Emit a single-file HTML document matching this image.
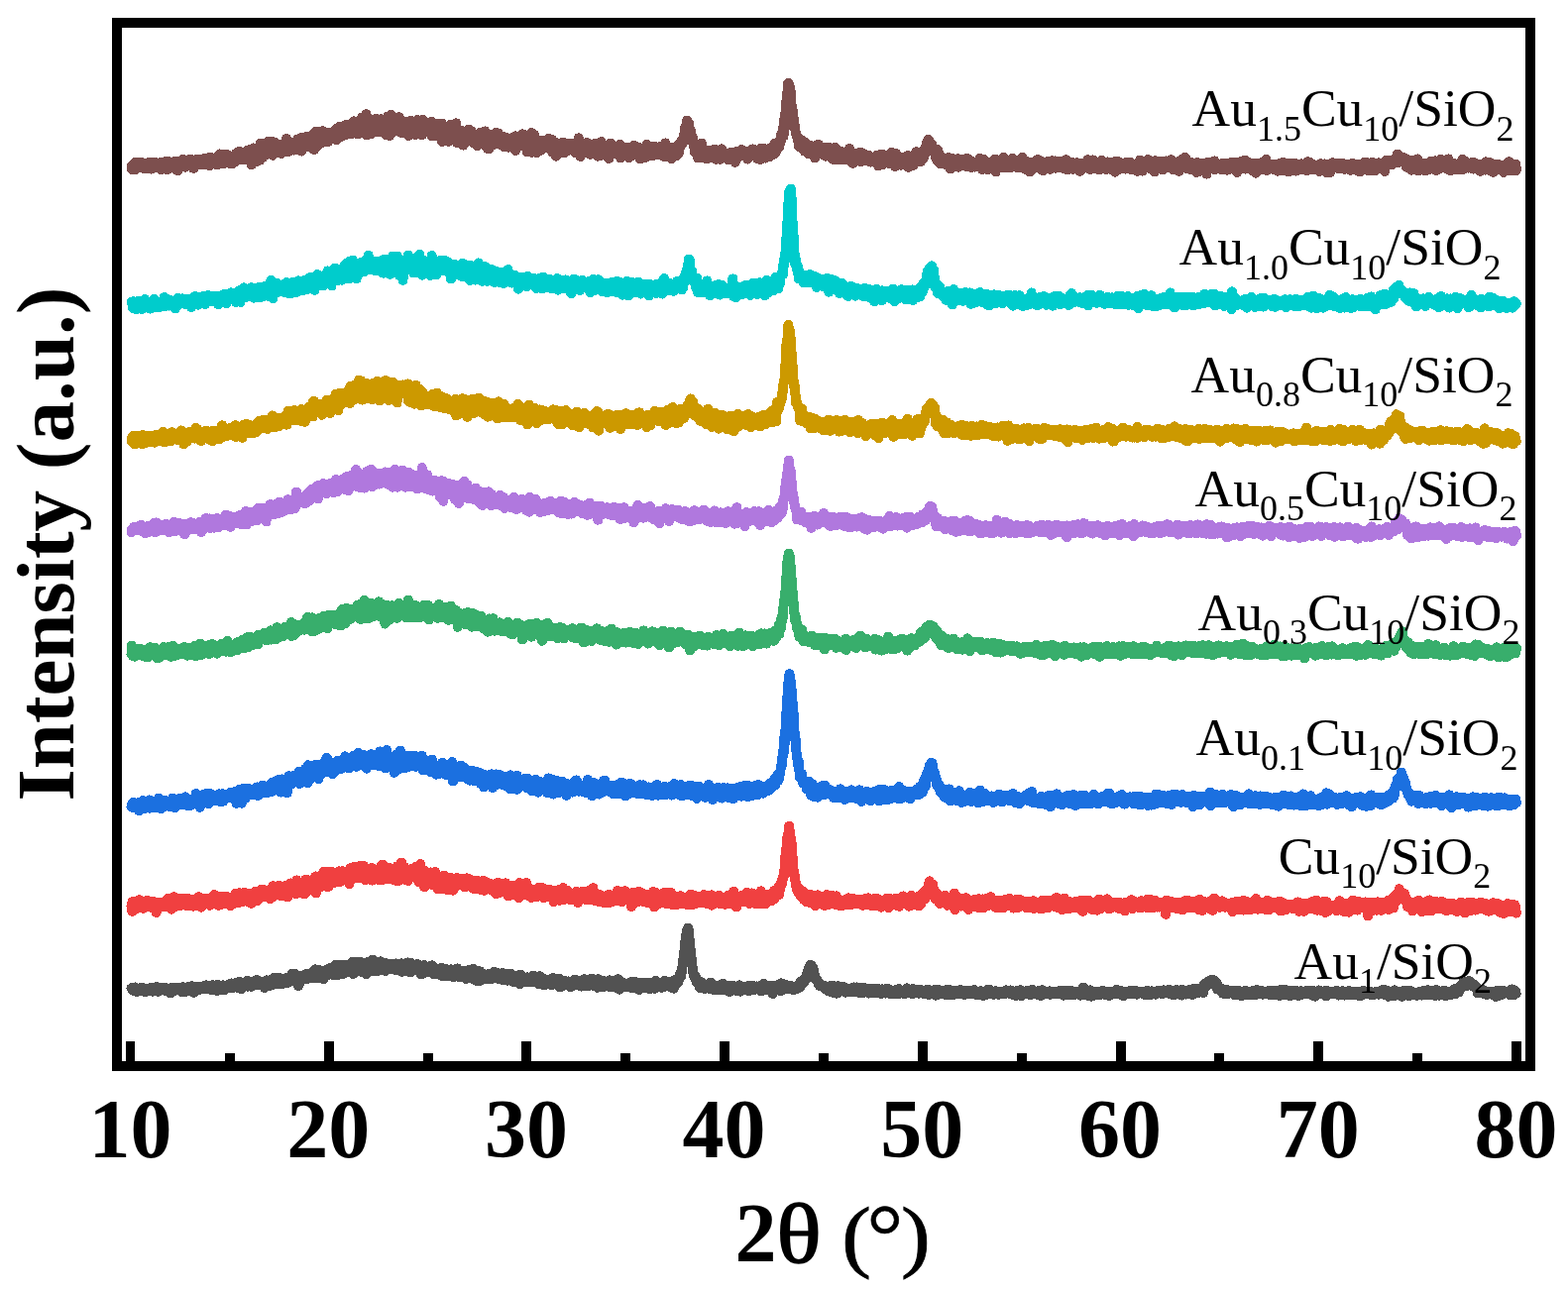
<!DOCTYPE html>
<html><head><meta charset="utf-8"><title>XRD patterns</title>
<style>
html,body{margin:0;padding:0;background:#fff;}
svg{display:block;}
.lab{font-family:"Liberation Serif","Times New Roman",serif;font-size:53.5px;fill:#000;}
.ax{font-family:"Liberation Serif","Times New Roman",serif;font-weight:bold;font-size:84px;fill:#000;}
</style></head><body>
<svg width="1582" height="1304" viewBox="0 0 1582 1304">
<rect x="0" y="0" width="1582" height="1304" fill="#fff"/>

<g shape-rendering="crispEdges">
<path fill="none" stroke="#7d4f4e" stroke-width="10" stroke-linejoin="round" stroke-linecap="round" d="M132.5,168.1l.4 2.8.4-.3.4-3.7.4.4.4-.5.4 2.4.4-1.3.4 1.7.4-5.6.4 7.3.4-3.6.4 1.7.4-1.8.4-.5.4 1.8.4.8.4-2.2.4.1.4 1.8.4-3.4.4-1.4.4 4.1.4-2.3.4-2.7.4 2.4.4.7.4-1.6.4-.6.4 3.3.4 1.8.4-2.4.4-1.2.4 2.5.4.7.4-2.2.4 1.8.4 1.1.4-2.8.4-1.3.4 2.5.4-.2.4 1.8.4-5.2.4 1.4.4-.4.4-2 .4 4 .4.9.4-2.8.4 4.7.4-1.3.4-.4.4-.5.4 1.2.4-5.1.4 4.3.4-.1.4-5.2.4 4.6.4-1.3.4 2.3.4-2.7.4.9.4.8.4-2.8.4 3.3.4-1.6.4 1.3.4-2.3.4 3.6.4-1.1.4-1.8.4 1.8.4 1.4.4 1.2.4-7.5.4 5.4.4-.9.4-1.3.4-2.1.4 5.1.4-5.7.4 4.1.4 1.6.4-6.5.4 2.9.4-2.3.4 3.5.4 2.8.4 1.2.4-8.6.4 2.7.4 2.8.4 2 .4-2.7.4-2.6.4 2.3.4-.7.4-.4.4-1.3.4 2.5.4-.2.4-.9.4-.3.4-2.5.4 1.8.4 3.9.4-3.2.4-2.9.4 6.3.4-1.9.4 3.6.4-4.7.4-1.2.4-2.3.4 6.3.4 2.9.4-7.9.4.4.4 2.8.4-3.3.4 1.3.4-.2.4 1.2.4 2.1.4-2.6.4 2.1.4-3.2.4 1.7.4-5.7.4 1.5.4 5.2.4-3.2.4 2.7.4-.2.4 1.8.4-1.2.4.5.4-2.7.4-1.5.4-.1.4.6.4-1.6.4 1.3.4 1.1.4.8.4-1.5.4-3.8.4 4.4.4.6.4 2.1.4-1.3.4-3 .4-.2.4 6.5.4-3 .4 2.5.4.7.4-7.1.4 2.8.4.2.4.2.4-.1.4-.9.4-.1.4-4.1.4 3.2.4-1.5.4 2.1.4-1.5.4 2.6.4.5.4-1.3.4-.1.4-.5.4-1.4.4.6.4-.8.4 2.1.4-1 .4 1.4.4-4.8.4 5.5.4-4.2.4 0 .4 1.3.4-1 .4 2.1.4-2.2.4-1.3.4.5.4 5.4.4-3.2.4-3.1.4 2.9.4-4 .4 8.4.4-8.5.4 5.1.4.1.4-5.1.4 4.4.4 1.7.4-1.4.4-.6.4 1.7.4-2 .4.4.4-1.3.4 1.9.4-4.1.4 4.4.4-3.4.4-1.5.4 3.7.4 3.4.4-2 .4-3.9.4 3.1.4-3 .4.8.4.5.4-6.4.4 6.5.4-3.2.4.8.4-2.1.4-.2.4 1.5.4 4.6.4 2.1.4-4.5.4 2.9.4-3.7.4-4.4.4 5.4.4.7.4-2.4.4 1.9.4.7.4-3.9.4-1.8.4 3.4.4-.1.4-.4.4 3.5.4 2 .4-5.9.4 2.9.4.6.4-.7.4.9.4-4 .4 3 .4 3.5.4-3.5.4-4 .4 3.3.4 1.8.4-2.6.4-2.6.4 5.7.4-7.8.4 4.8.4-1.5.4-3.4.4 6.7.4-2.6.4-4.3.4 4.9.4-3 .4-4.3.4 3.4.4 2.6.4 1 .4-1.4.4-.4.4 1.1.4-2 .4 3.9.4-3.1.4.4.4.6.4-4.7.4.9.4 6.4.4-3.5.4-1.9.4 1.7.4-2.5.4 2.1.4-2.8.4 2.7.4-5.6.4 8.5.4-5.5.4-3.3.4 4 .4-.6.4 1.5.4-4 .4 4.6.4 9.5.4-14.7.4 4.7.4-2 .4 1.4.4-6.1.4 1.9.4 4.7.4-1.5.4 4.9.4-7.1.4 2.5.4 8.3.4-11.3.4-.5.4 2.5.4-.1.4 2.7.4-2.3.4-2.8.4 2.9.4 7.4.4-4.3.4-12.7.4 8.1.4-2.3.4 4.5.4-2.5.4 6.5.4-3.3.4-.2.4-2.3.4-.8.4 1.2.4 2.9.4-2.5.4-2.9.4 5.1.4-3.5.4-1 .4-2.3.4.6.4-.3.4-7 .4 12.1.4-1.5.4-2.6.4 4 .4-2 .4-.3.4-9.3.4 7.1.4 2.4.4 3.4.4.7.4-1.4.4-8.5.4-3.4.4 8.9.4-1.9.4 3 .4-3.6.4 1 .4-5.7.4 6.3.4-3 .4 2.6.4.2.4-1.9.4 1.3.4-1.2.4 2.5.4-.9.4-3.6.4-.2.4 7.7.4-6.2.4 3.5.4-2 .4-3.3.4-.7.4 2.8.4.4.4 1.1.4-6.4.4 2.2.4 1.6.4 5.6.4-13.4.4 9.4.4-3.4.4 3.2.4-3.2.4 2.8.4 4 .4-4.2.4.2.4-.3.4-3.9.4 4.3.4-2.6.4-2.2.4 2.6.4-.7.4 3.3.4-2.8.4-1.8.4 6.8.4-1.7.4.9.4-2.4.4-2.6.4-1.1.4.4.4 4.2.4-3 .4-5.7.4 5 .4-4.9.4 5.4.4-4.8.4-.3.4 4.7.4-.7.4-5.7.4 8.4.4 4.9.4-12.9.4 11.5.4-8.9.4.6.4 1 .4-4.6.4 9.7.4-2.9.4-4.6.4 1.6.4-4.5.4 4.1.4 4.5.4-9.6.4 4.5.4 2 .4 3.2.4 1 .4-6.6.4-1.1.4 4.2.4-3 .4.1.4 4.9.4 2.2.4-5.3.4-1.8.4 2.7.4-9 .4 6.7.4-3.9.4 12.5.4-6.2.4-2.2.4-1.3.4-8.6.4 11.7.4 3.3.4-8.8.4 5.2.4 0 .4-8.5.4 9.1.4 1.5.4-4.3.4-1.2.4 3.1.4-8.8.4 6 .4 3.5.4-8.7.4 8.2.4-5.4.4-6.3.4 7.3.4-3.4.4 4.7.4-5.7.4 8.3.4-6.9.4 4 .4-3.7.4.9.4 5.6.4-3.9.4-2.4.4-3.4.4 9.1.4-1.8.4-4.2.4 2 .4-5 .4-.1.4.6.4 4.4.4-.4.4-4.2.4 5.7.4 0 .4-2.5.4 3.2.4-5.3.4.5.4 2.1.4-2.1.4 3.1.4-8.2.4 10.4.4-8.9.4 2.3.4-5 .4 7.8.4 2.5.4-1 .4-1.1.4-9.7.4 3 .4 1.1.4-2.1.4 8.2.4-4 .4-1 .4 2 .4-6 .4 0 .4-.1.4 5.5.4-.8.4.9.4 1.9.4-10.2.4 3.2.4 2.7.4-6.3.4 3.2.4 6.3.4.2.4-.2.4-4.4.4-1.2.4 5.2.4-6.2.4 2.9.4 3.9.4-7.2.4-1.1.4 2.4.4 2.4.4-.6.4-1.5.4 1.6.4-9.2.4 3 .4 4.2.4-4.7.4-1.9.4.5.4 1.1.4 3 .4-3.7.4 5.3.4 6.1.4-7.9.4 5.9.4-4.3.4-6.1.4 3.6.4-3.1.4 7.4.4-8.3.4 10.5.4-3.2.4-11.3.4 12 .4 3.3.4-10.2.4 7.6.4-12 .4 8.8.4-8.3.4 9.2.4-9.8.4-3.7.4 13 .4 8.1.4-12.4.4 6.1.4-3.1.4-1.9.4 4 .4 4.5.4-12.5.4 7.8.4-.9.4-7.7.4 13.2.4 1.4.4-12.5.4 11.6.4-7.3.4-.9.4 7.2.4-5.5.4.4.4 5.1.4-1 .4-1.7.4-9.9.4-.7.4 11.6.4-8.8.4 4.6.4-5.3.4 3.9.4-4.7.4 12.5.4-11.4.4 3.9.4-.3.4 6 .4-11.4.4 6 .4-.7.4 3.2.4-.3.4-4 .4 3 .4-2.6.4 3.6.4-2.5.4-2.4.4 2.8.4 1.7.4 8.2.4-11.9.4 3.4.4 5 .4-15.3.4 1.5.4 2.3.4 4.7.4 11 .4-8.8.4 3.5.4-6.2.4-9.7.4.7.4 14.4.4-3.6.4-6.4.4 10.4.4-11.5.4 11.6.4 1.3.4-9.5.4-1.5.4 8.4.4-8.4.4 8.5.4-8.9.4 8.7.4-3.1.4-2.3.4-2 .4 4.9.4-9.2.4 7 .4-.5.4 4.6.4-8.3.4 12.8.4-8.8.4-3.5.4 10.9.4 1.2.4-8 .4-3.1.4 3.9.4-3 .4 1.6.4 8.1.4-5 .4-1.1.4.9.4-1.8.4 3.9.4.2.4-5.4.4 2 .4 10 .4-8.6.4-2.6.4 9.7.4-8.8.4-4.8.4 7.7.4-6.8.4 1.8.4 3.6.4-1.9.4-2.7.4.9.4-.1.4 7.6.4-8.1.4.7.4 11.3.4-11.1.4 8.8.4-.6.4-6.3.4-5.4.4 8.1.4 1 .4 1.4.4-3.8.4 4.9.4.9.4-10.4.4 10.7.4-5.3.4-3.1.4 1.2.4 9.4.4-3.7.4-11.7.4 8 .4-.9.4 0 .4-1.4.4-3.9.4 9.9.4-7.5.4 2.5.4-.9.4-.4.4 6.3.4-1.5.4-4.3.4-1.1.4 2.1.4 6.2.4-3.5.4.6.4-2.3.4.4.4 2.1.4-8.5.4 14.5.4-9.9.4 1 .4 8 .4-4.5.4-.7.4-2.5.4-3.9.4 7.3.4 4.3.4-8.6.4 9.4.4-10.1.4 1.7.4 5.2.4-2 .4 2.9.4-5.8.4-1.1.4-3.3.4 2.8.4.6.4-1.3.4 7.1.4-3.9.4-5.3.4 18.3.4-13.4.4-1.7.4 10.3.4-.3.4-9.3.4-1.2.4 2 .4 8.6.4-5.7.4-2 .4 3.3.4 5 .4-10.4.4 4.1.4-3.9.4 14.4.4-1.4.4-3.4.4-4.3.4 3.2.4-11 .4 9.6.4-6.3.4.1.4 2.5.4 1.5.4 3.8.4.6.4-1.7.4-4.8.4 6.6.4-3.1.4 5.2.4-8.3.4-7.2.4 9.1.4 10.5.4-6.6.4-2.5.4 4.3.4-1.4.4-.1.4-3.8.4 2.4.4.5.4-3.2.4-1.8.4 5 .4 3.3.4-1.2.4-.5.4.1.4 8.2.4-9 .4 3.1.4 3.7.4-7.4.4.9.4 3.1.4 2.6.4-5.3.4.3.4-1 .4-5 .4 9.1.4-5.3.4-5.6.4 6.2.4-6 .4 2.8.4 4.1.4-3.6.4 7.8.4-9.8.4 6.8.4 1.2.4 3.5.4-2 .4-2.6.4-.5.4-.4.4 4.6.4-6.8.4 4.6.4-2.3.4 1.4.4-1.9.4 9.2.4-10.6.4 3.6.4.1.4 1.4.4-.6.4 0 .4 2.2.4-9.4.4 5.8.4-4.6.4 5.6.4-5.3.4.9.4 3.5.4 5.5.4-3 .4-1 .4 4.2.4-8.7.4-4.3.4 6.4.4.6.4 5.7.4 3.4.4-12.9.4 14.3.4-3.3.4-2.7.4-1.7.4 7.8.4-8.7.4-2 .4 2.3.4-5.5.4 6.9.4-2.1.4 1.7.4.1.4-5.2.4 8.9.4-8.6.4 7.1.4-9.1.4 7.3.4-4.3.4 3.2.4-2.5.4-5.6.4 4 .4 4.4.4 2.1.4-7.6.4-2.4.4 4.7.4 2.5.4-1.5.4-.6.4 6.1.4.5.4-.8.4-6.1.4 3.8.4-.9.4-4.5.4 8.5.4-2.9.4-2 .4 7 .4-2.4.4.4.4 1.3.4-1.7.4-7.1.4 3.2.4 5.1.4-6.4.4 3 .4 1.3.4 3.8.4-.5.4-1.4.4-3.8.4 4 .4-1.4.4-2.4.4 5.5.4-3.1.4-4.4.4 7.3.4-5.4.4 3 .4-7.5.4 5.4.4-3.3.4 0 .4-3.3.4 14.5.4-8.1.4 1.4.4 3.1.4-4.3.4 2.3.4-6.7.4 5.6.4-2.1.4 3.3.4-1.1.4-5.6.4-1.6.4 3 .4 6.3.4-1.1.4 0 .4-8.6.4-2.3.4 7.3.4 1.1.4-.9.4 3.4.4-1.8.4-3.6.4 1.2.4 3.6.4-.2.4-.5.4 8.3.4-8.9.4 1.4.4-3.9.4 2.3.4 3.1.4.2.4-2.5.4 2 .4-1.2.4-6.8.4-4.8.4 19.6.4-5.2.4-3 .4-5.9.4 1.7.4 9.2.4-14.5.4 8.7.4 4.2.4-2.5.4 2.2.4-3.1.4 8.8.4-11.9.4-1.1.4 5.7.4 4.1.4-5.1.4 3.8.4-5.4.4-2.3.4 9 .4.7.4-.1.4-6.9.4-2.4.4 0 .4 3.3.4 2.8.4-.2.4-6.7.4 5.7.4-.6.4.3.4-.4.4-.6.4 2.8.4-1.6.4.4.4-3.1.4 3.7.4-1.7.4-6.9.4 9 .4-2.5.4 4.1.4-3.7.4.3.4 1 .4-.7.4-1.5.4-4.5.4 12.5.4-11.7.4 4.2.4 3.5.4-.9.4.6.4.8.4 1.7.4-3.3.4 9 .4-13.4.4 4.3.4-2 .4-.6.4 2.9.4 4 .4-7.4.4.1.4 4.9.4-.6.4 4.8.4-3.1.4-2.7.4-1.8.4 1.8.4-1.2.4-4 .4 4.6.4-.5.4-.2.4-.6.4 7.2.4-3.4.4.9.4-5.2.4-1.4.4 2.6.4 1.8.4-2 .4.6.4 3.9.4-2.2.4-4.3.4 1.9.4-.7.4 2.8.4-4.4.4 3.3.4 3 .4-2.2.4-3.1.4 1 .4 2.5.4 1.2.4 1.3.4-3.3.4-3.9.4 9.2.4-3.7.4.4.4-.3.4-4.4.4 2.4.4 2 .4 2.6.4-3.2.4-10.5.4 9.5.4 2 .4 3.2.4-1.9.4 5.9.4-3.5.4-.2.4-1.3.4-7.6.4 7.4.4-.8.4-3.7.4 3.7.4-.5.4-2.9.4 1.2.4-.4.4 1.6.4-2.1.4 3.2.4-8 .4 5.4.4-4.5.4 3.9.4 3.3.4-1.6.4-.4.4.7.4 4.9.4-8.7.4 6.5.4-7.7.4 3.4.4 2.1.4-3.3.4 3.5.4 1.7.4-6.2.4 3.7.4-.9.4-5.1.4 5.7.4-1.9.4 6.9.4-7.1.4 8.4.4-7.2.4 8 .4-4.5.4-.2.4 1.2.4.3.4 1.6.4 1.1.4-6.6.4-2.9.4-4.5.4 7.3.4 3.8.4-1.2.4-.9.4-1.4.4-.9.4 1.2.4 2.1.4-6.8.4 8 .4-7 .4 4.2.4-1.5.4.9.4-2.1.4-.3.4 2.9.4-2.7.4 11.3.4-9.1.4-.7.4.3.4-1.6.4-4.4.4 7 .4 1.9.4-5.8.4 4.9.4-3.9.4 3.8.4 1.2.4.5.4-.2.4-3.6.4 5.1.4-4.2.4 2.5.4 1.2.4-3.2.4-3 .4 6 .4-5.5.4.8.4-.7.4 6.2.4-3.2.4-6.5.4 9.4.4 4.2.4-.8.4-7.5.4 2.1.4 1.4.4 1.2.4-2.7.4-3.5.4 5.8.4-.4.4-6.1.4 3 .4 2.1.4-.9.4 1.7.4.9.4-.8.4-2.1.4-3.8.4 6.2.4 2.4.4 1.8.4-6.2.4 0 .4 4.6.4 0 .4-3.4.4 1.2.4-4.6.4 4.2.4-4.3.4 2.1.4.1.4-1.1.4-5.1.4 4 .4 3.7.4-1.3.4-1 .4 2.6.4.8.4.5.4-5.1.4 2.6.4-1.1.4-1.7.4-1.9.4 4.4.4-2.4.4 9.4.4-7 .4-.4.4-.5.4 7.1.4-8.7.4 2.4.4-1.9.4 2 .4.3.4 3.5.4-7.7.4 4.3.4 5 .4-6.5.4 1 .4-2.1.4-5.4.4 7.8.4 3.9.4-5 .4-4.2.4 6.5.4-.6.4 2.9.4-.3.4-3.6.4 2 .4-6.7.4 8.9.4-2.8.4 2.8.4-.1.4-4.1.4.4.4-2.2.4-3.7.4 6 .4.8.4-3.7.4 5.5.4-1.9.4 1.1.4-3.8.4-3 .4 7.8.4-.5.4-2.2.4-1 .4.5.4.4.4-1.2.4-4.5.4 8.5.4-7 .4 3.6.4 0 .4 1.8.4-5.7.4 8.5.4-1.6.4.3.4 1.5.4-6.3.4-7.1.4 10.5.4 3 .4-.5.4-5.2.4 1.4.4 1.1.4-6.4.4 3.4.4.1.4 6.7.4-6.8.4 6.7.4-4.8.4-5.2.4 11.8.4-9.7.4 4.7.4 3.3.4-6.9.4-2.2.4 6.8.4-3 .4-4.1.4.4.4 1.9.4 4 .4-4 .4 2.7.4 2.8.4-1.4.4.3.4-.9.4-9 .4 8.2.4-3.1.4-1.9.4-3.5.4-2.2.4.7.4 2.4.4-4.5.4 0 .4-.6.4 2.5.4-4.4.4-1.2.4 2.7.4-6.8.4.9.4-6.9.4 2.3.4-2.3.4-1.3.4-3.1.4-2.3.4 2 .4-.2.4 5.3.4.9.4-4.8.4 7.2.4-1.4.4 4.7.4-.9.4-1.1.4 9.2.4-.1.4-3.5.4-.7.4 5.3.4-.8.4 3.4.4 3.8.4 3.3.4-4.8.4 5.8.4-.1.4-4.4.4-3.3.4 7.9.4-.4.4 5.5.4-2.5.4-1.7.4 2.9.4-8 .4 3.8.4-1.2.4 6.1.4-3.4.4-10.7.4 13.4.4-6.7.4 5.1.4-3.7.4 2.3.4 1.2.4-1.2.4-3.4.4 7.1.4-2.9.4-1.2.4 2.2.4-3.6.4 7.2.4-4.9.4.5.4 0 .4-3.7.4-.8.4 4.2.4.4.4 3 .4-2.6.4-4.6.4 4.9.4.9.4.6.4-2 .4-4.6.4 7.1.4-5.6.4 3.9.4-6.4.4 7 .4-4.6.4 5.6.4 2 .4-1.7.4-6.9.4.6.4.3.4 4.5.4-.9.4-.5.4.4.4.9.4.2.4 3.1.4-5.2.4.8.4-6.1.4 1.6.4 1.9.4-1.5.4 4.2.4 2.4.4-4.3.4-.2.4 0 .4 1.9.4-2 .4 2.9.4-.4.4.1.4 1.3.4-2.2.4.4.4 4.8.4-5.4.4 2.5.4-2.2.4-1.5.4 0 .4-1 .4 2.4.4-1.8.4.6.4 4.8.4-4 .4 3.8.4-2.6.4 1.8.4-4.4.4 2.3.4 7.3.4-5.3.4.5.4-2.3.4 1.9.4-6 .4 1 .4 3.7.4 1.2.4-3.6.4.6.4-.5.4.5.4-3 .4-.6.4 3.9.4-4.8.4 2.2.4.9.4-1.1.4 3.7.4-2 .4 1.1.4-2.7.4.7.4 3.7.4-.4.4-2.5.4 2.4.4-.5.4-.1.4 4.2.4-5.8.4 2.4.4-.1.4-1.9.4-2.7.4 5.4.4-1.3.4-.6.4-.1.4 0 .4-2.7.4 3.4.4-6.1.4 5.1.4-4.3.4 3.3.4 3.1.4-2.8.4-.7.4 2.8.4-2.3.4-.4.4 0 .4 5.5.4-2.5.4-.6.4-4.9.4 5.3.4-5.6.4 5.1.4-4.7.4 8.9.4-10.7.4 8.4.4-1.2.4-7.6.4 4.4.4 4.9.4-1 .4-8.2.4 3.3.4-2 .4.3.4 1.1.4 7.1.4-5 .4-1.2.4-.4.4 2.8.4 0 .4-4.8.4 6.8.4-7.5.4 2.3.4 1.9.4 3.6.4-6.1.4 1.6.4 2.8.4-2.1.4 1.3.4-.5.4-2.4.4.9.4.6.4-3 .4 4.5.4-10.7.4 2.8.4 6.6.4-3.3.4-3.4.4 2.6.4 1.6.4-5.2.4 3.4.4-3.1.4-.6.4-.5.4 2.7.4-7.2.4 1.3.4 1.9.4-6.5.4-2.3.4 4.8.4-3.2.4-2.2.4-1.2.4-5.4.4 8.7.4-14 .4-1.5.4-6.2.4-.8.4 1.7.4-8.5.4-2.6.4-7.4.4 2.5.4-8.5.4-7.2.4 3.6.4-4.5.4 2.7.4-.3.4 2.5.4 2.7.4.6.4 2.3.4 11.3.4.9.4 5.2.4 1.7.4-1 .4 5.4.4 10.6.4-3.6.4 3.6.4-1 .4 4.6.4 2.1.4 1.9.4 1.7.4-.4.4 1.1.4 2.5.4 1.8.4-.7.4 6 .4-3.8.4.4.4-1.9.4 5.2.4-5.5.4-1.4.4 2.1.4 4.9.4-4.8.4 7.2.4-3.6.4-4 .4 3.8.4 6 .4-7.4.4-1.1.4 5.3.4 2.4.4-.7.4-3.7.4 1.6.4.5.4 2.6.4 2.9.4-6.3.4 4.1.4-4.6.4 2.8.4-4.3.4.6.4 3.5.4-3.6.4 5.1.4-4 .4 1.9.4-.3.4-.6.4 1.4.4 2.8.4 5.8.4-12.1.4 4.3.4-1.2.4-2 .4 3.5.4-3.2.4 2.4.4 3.8.4-9.1.4 6.5.4.7.4-3.9.4 4.3.4-.4.4-1.9.4 4.5.4-7 .4 5.6.4-2.4.4-2.2.4 2.6.4-.4.4 3.4.4-6.4.4 3.7.4-.6.4 5.8.4-7.5.4 6.3.4-7.9.4 6.1.4-1.3.4 1.5.4-2.9.4-3.4.4 1.2.4 8.1.4-3 .4-2.9.4 5.1.4-4.6.4.1.4-1.2.4 6.8.4 2.3.4-8.2.4 3.7.4 2 .4 3.3.4-12.6.4 7.2.4 1.5.4-5.9.4 5.4.4-.5.4 1.5.4-3.6.4 2.9.4-2.8.4 3.5.4-1.2.4-1.4.4-2.9.4 8.7.4-1.4.4-.6.4-4.3.4 1 .4 5.7.4-2.5.4-4.4.4 2.6.4.3.4-.9.4-2 .4 6.2.4-1.8.4-2.1.4-3.8.4 2.8.4 1.7.4 2.5.4-3.4.4 4.1.4-2.6.4-2.4.4-5.7.4 4.6.4-.8.4 3.7.4 1.4.4 3 .4-3.8.4-3.2.4 9.8.4-5.6.4-1.5.4 0 .4-3 .4 5.6.4-.7.4 3.4.4-1.3.4-.6.4 1.1.4-4.2.4-.4.4 1.1.4-3.3.4 3.1.4-.5.4 2.8.4-1.8.4-5.2.4 5.4.4 3.8.4-8.9.4 3 .4 2.2.4-3.7.4 2.2.4 1.7.4-3.8.4 4.5.4.3.4-4.6.4 3.6.4 2.9.4-3.4.4 1.7.4.6.4-2.4.4 3.4.4-1.6.4-3.8.4 4.2.4 1 .4-.2.4-3.9.4 3 .4 2.6.4-3.1.4 2.6.4.3.4-3.6.4 1.9.4-2.5.4 3.7.4-3.1.4-1.3.4 1.5.4-.1.4 1.2.4.3.4-4.4.4 1.4.4 2.8.4.3.4-1 .4 6.9.4-4.1.4-3.2.4 2.2.4 1.7.4-2.6.4-5.7.4 5 .4-.1.4 5.7.4-10.8.4 9.2.4-4.6.4 3 .4-3.3.4 1.3.4 2.6.4-2.8.4 2.6.4-3 .4-.9.4.6.4-.8.4 1.1.4 4 .4-6.8.4-1.3.4 4.4.4 4.6.4-1.7.4.8.4-.2.4-5.3.4 2.3.4-7.4.4 5.5.4 3.3.4-5.8.4-1.3.4 2 .4 4.1.4 2.6.4 3.8.4-3.1.4-7.8.4-2.2.4 6.6.4 2.5.4-7.1.4 2.9.4.2.4 1.3.4-.5.4 1.8.4 1.5.4-2.6.4 1.8.4 3.3.4-7.9.4-.1.4 4.1.4 3.6.4-4.4.4 2.4.4-3.7.4 3.3.4-4.1.4 3.4.4-.7.4 0 .4 2.6.4-.8.4-4.4.4 3.9.4-6.8.4 7.1.4 4.6.4-5.8.4-.1.4-1.2.4 2.1.4-3.4.4 2.9.4-2.5.4-.4.4 1.4.4-.5.4-4.4.4 9.9.4-5.1.4-4.8.4 7.2.4-3 .4.6.4 1.2.4-4.2.4-5.4.4 7.3.4.7.4 1.9.4-4.7.4 1.1.4 1.6.4-2.1.4 0 .4 1 .4-3.5.4 6.4.4-6.8.4 2.1.4-1.4.4-1.4.4 2.7.4.6.4.6.4-3 .4-3.4.4 2.6.4-6.8.4 2.9.4.3.4-.9.4-5.5.4-1.9.4 7.1.4-6.5.4-3.7.4.4.4 2.8.4 2.7.4-3 .4 3.4.4-2 .4 1.3.4 2.2.4-2.6.4 2.8.4-.7.4.4.4 4.4.4-2.8.4 3.3.4-1.3.4 2.6.4-.4.4 4.9.4-1.9.4.6.4 4.5.4-11 .4 4.9.4-3.7.4 7.3.4 1.5.4.8.4-.7.4-2.6.4 6.8.4-3.4.4-1.3.4-2 .4 4.1.4-2.2.4.3.4 1.7.4.2.4-2.5.4 5.3.4-5.6.4-.2.4 3.7.4-.4.4-.1.4-1.1.4 1.2.4-1.4.4-2.7.4 6 .4-4.3.4 2 .4 2.5.4-1.7.4 6.8.4-10.3.4 1.7.4 2.1.4 3.2.4-3.9.4-3 .4 6.5.4-5.1.4 1.8.4 2.7.4-3.8.4.6.4 2.4.4-1.7.4 1.2.4-3 .4 2.1.4-2.4.4-1.2.4 8.3.4-3.2.4 1.1.4-4.6.4 2.3.4-.4.4-3 .4 4.9.4-3.1.4 1.3.4-3.2.4 6.2.4-.5.4-.9.4-3.2.4.9.4 4.4.4-3.7.4 1.3.4-.3.4-3 .4 6.5.4-8.6.4 5.4.4-.7.4-3.8.4 4.8.4.5.4-1.1.4-2.2.4 3.2.4 1.6.4-2.2.4 3.7.4-2.1.4-.2.4 1.6.4-5.1.4.4.4 2.5.4.1.4 2.4.4-.9.4-2.3.4.1.4-1.2.4-.2.4-.2.4 3.3.4-3.3.4.3.4 1.2.4-1.6.4.7.4-4.8.4 6.3.4-1.6.4 1.2.4.4.4-5.4.4 10.5.4-5.5.4.1.4-4.8.4 5.9.4-.5.4-1.8.4 1.5.4 2.6.4-3.9.4-1.4.4 5.5.4-2.6.4-1.1.4 6.1.4-5.2.4-.8.4 1.1.4-1.7.4 1.6.4-.2.4-2 .4 1 .4 1.4.4.2.4.5.4.5.4-1.3.4.6.4-2.1.4.3.4 3.1.4-7.3.4 5.7.4 6.8.4-12.2.4 8.1.4-7.9.4 5.2.4 3 .4-.3.4-5.8.4-1 .4-.3.4 5.2.4-2.7.4 1 .4.6.4.3.4.3.4-1 .4-4.1.4 7.4.4-10.2.4 9.6.4-4.4.4 1 .4-.8.4.4.4.8.4-.6.4-2 .4 4.7.4-3.4.4 4.7.4-3.7.4-1.3.4 2.8.4 1.1.4-4.4.4 1.6.4 4.1.4-5.9.4.4.4 2.5.4-3.4.4-3 .4 2 .4 4.9.4.7.4-.2.4-.4.4-4 .4 4.7.4 1.1.4-4.4.4 3.9.4-3.1.4 1.3.4.5.4-4.5.4 7.1.4-5.6.4 1.9.4-1 .4 2.3.4 0 .4-1 .4 3.3.4-2.7.4-1.6.4-6 .4 6.3.4 0 .4-1.4.4 0 .4 3.5.4 1.1.4 2.1.4-1.8.4-4.5.4 2.3.4-3.8.4 5 .4-.9.4-2.3.4 1.2.4-.3.4-1 .4 4.7.4 4.3.4-5.4.4.5.4-2.1.4-1.2.4 6.1.4-6.1.4 1.8.4-1.2.4 1.7.4-1.6.4 1.6.4-4.5.4 2.8.4 3.6.4-5.8.4.9.4 4.9.4-2.3.4 1.6.4-7.9.4 5.7.4-3.4.4-.3.4 4.3.4 1.9.4-6.4.4.9.4 1.3.4 1.1.4-2.9.4 8.6.4-4 .4-2.2.4-.4.4 6.8.4-.2.4-6.5.4 2 .4 2.2.4-5.9.4 1.5.4 4.6.4-4.9.4.7.4-2.2.4 1.4.4 3.4.4-3.5.4-1.2.4 1.6.4 5.8.4-3.8.4-1.8.4 1.7.4.7.4-.7.4-4.6.4 5 .4-1.2.4 2.5.4-5.2.4 5.7.4-3.7.4-2.8.4 7.2.4-4.4.4 2.1.4-1.2.4 3 .4 0 .4 0 .4-.9.4-5.5.4-.2.4 4.5.4-2.7.4 3.3.4-.7.4-3.7.4.9.4-.2.4.6.4 1.6.4 2.1.4 1.6.4-5.5.4 1 .4 5 .4-1.6.4-1.5.4-6.1.4 3.2.4 2.7.4-1.7.4 6.1.4-4.5.4.5.4-3.3.4.1.4 1 .4.1.4.9.4 1.4.4-.3.4 1.8.4-5.5.4 3.7.4.1.4 3.2.4-4.3.4 1.3.4-2.7.4 2.9.4 0 .4-2.4.4.4.4 1 .4 1.5.4-4.1.4 4.8.4-2.9.4 5.3.4-1 .4-4.4.4-.5.4 7.2.4-4.3.4-.1.4-2.3.4.7.4 2.2.4-.4.4-3.4.4 4.8.4-2.1.4-3 .4 4.6.4-2.8.4 2.3.4-3.1.4 2.1.4-4.6.4 4.7.4-4.5.4 4 .4-6.3.4 5.8.4 1.8.4-.5.4 1.6.4-5.3.4 6.2.4.1.4-6.5.4.9.4.5.4 1.3.4.5.4-6.2.4 7.2.4-2 .4-1.8.4 4.6.4-3 .4 3.5.4-1.4.4-2 .4 3.5.4-.9.4-3 .4-2.6.4 2.5.4 2.7.4-2 .4 4.7.4-3.5.4-.2.4.5.4-3 .4 1.8.4-1.2.4-4 .4 1.4.4 5.8.4-2.7.4.7.4-3.1.4 2 .4 3.2.4-1.6.4-1.4.4 4.8.4-3.7.4-.7.4 3.5.4-6.7.4 5.3.4-3.9.4.8.4.3.4 1.8.4 0 .4.4.4-.2.4 2.8.4.7.4-2.3.4.1.4-2.6.4-1.7.4 3.9.4-1.3.4 1.9.4-6.2.4 10.5.4-9.2.4 3 .4 2.2.4-5.5.4 2 .4-3.4.4 1.3.4-1.2.4 4.8.4.4.4-1.4.4 3.7.4.3.4-3.3.4-.5.4-.1.4-.4.4 4.1.4-2.5.4-1.4.4.3.4 1.8.4-2.2.4 1.6.4-.8.4 3.3.4-.5.4-6 .4 2.9.4 2 .4-2.7.4 3 .4-1.1.4.6.4-1.6.4.9.4.5.4-4.7.4 1.3.4-.2.4 6.3.4-3.3.4.2.4-.5.4-1.6.4-.5.4 3.7.4-2.9.4 4.6.4-3.2.4-.3.4-.7.4.3.4.3.4 3.4.4 1.9.4-8.1.4 3.3.4 1 .4-3.8.4.7.4.4.4-4.6.4 7.2.4-1.7.4-.1.4.4.4.4.4 4.8.4-5 .4 1.5.4-3.1.4 2 .4-1.6.4.4.4-1.7.4.2.4 2.9.4.7.4-.7.4-2.6.4 2.3.4-6.7.4 8.1.4-2.3.4.7.4 2.1.4-3.7.4 3.2.4-3.2.4 2.3.4-2.3.4 1.7.4 2.7.4-5 .4.1.4.7.4 1.5.4 5.7.4-7.8.4-3.5.4 3.3.4-2.2.4 2.4.4 1.4.4-2.3.4.6.4-2.8.4 4.8.4-2.2.4 4.4.4-.1.4-4.6.4 1.2.4 1 .4 1.7.4-5.8.4 3.8.4 4.6.4-4.7.4.8.4-.5.4-2.9.4 5.1.4-1.6.4-.3.4 1.3.4.2.4-6.4.4 5.7.4-2.6.4 1.8.4-2.1.4-.3.4 4.3.4-2.3.4-.7.4 0 .4.9.4-.2.4-5.6.4 3.5.4 1.5.4 2.4.4 1.4.4-5.4.4 6.8.4-4.4.4.9.4-2.4.4-.1.4 4.8.4-3.9.4.2.4 3 .4 1.4.4-7.7.4 3.1.4.5.4 4.3.4 1.5.4-5.9.4 1 .4 1.2.4.6.4-3.5.4 2.8.4-3.7.4-4.6.4 3 .4 3.8.4 1.4.4-7.2.4 1 .4 4.2.4-7.9.4 9.4.4 1.1.4-9.5.4 8.9.4-2.3.4 3.8.4-2.7.4-1.2.4.8.4 2 .4-1.8.4-.3.4-3.5.4 4.5.4-1 .4 4.3.4-4.4.4-.2.4-1.3.4 3.2.4-2.2.4-1.2.4 5.5.4.5.4-5.3.4-1.4.4 5.1.4-4.6.4 8.7.4-7.1.4 2.6.4-5.3.4 3 .4 2.7.4-1.6.4-2.3.4 7.1.4-4.1.4-2.3.4-.8.4.8.4 3.8.4-5 .4 1.9.4-2 .4 4.9.4-3.4.4 2.5.4-.7.4-2.7.4 3 .4.6.4-5 .4 4.4.4 6.8.4-9.1.4 2.2.4-4.7.4 4.3.4-2.5.4 3.2.4-1.9.4-2.7.4 5.4.4-3.1.4-1.9.4 2.6.4-2.5.4 3.3.4-1.1.4-.7.4 2.4.4-4.6.4 5.4.4-7.1.4 8.6.4-3.4.4-1 .4-1.1.4 3 .4-1.7.4 0 .4 2.9.4-3.5.4.5.4 1.6.4 1.5.4-2.9.4.8.4-.3.4 1.7.4 1.7.4-5.7.4 1.9.4.2.4 1.5.4 2.2.4-3.6.4.6.4 2.1.4-5.6.4 1.2.4.7.4 1.1.4.5.4-1.7.4 5.4.4-5.8.4 1.2.4 3 .4-.7.4-1.9.4.9.4 1.1.4-2 .4 1.6.4-3.7.4 2.4.4-4.1.4 1.8.4-.6.4 5.7.4-4.1.4 1.8.4-2.8.4 1.7.4-.2.4-1.4.4 4.1.4-6 .4 5.4.4 4.8.4-8.2.4 2.1.4-3.8.4 3.6.4-4 .4 5.6.4-2.7.4-3.2.4 1.4.4-.7.4 3 .4 2.7.4-2.9.4-1.9.4.8.4 2.3.4-6 .4 7.1.4-.4.4-6.8.4 8.6.4-6.6.4 3.3.4 3.3.4-6.6.4-.5.4 1.7.4.1.4 2.2.4-.9.4.1.4 0 .4.7.4-1.5.4 2.7.4-.7.4-2.4.4 6.7.4-7.3.4 4.8.4-3.5.4 2.6.4.4.4.8.4 1.3.4-5.3.4 8.7.4-5.7.4-2.9.4-1.2.4 8.7.4-1.7.4-3.8.4 1.8.4 1.3.4-2.8.4-1.2.4.9.4 2 .4-1.9.4-2.9.4 4.7.4-5.8.4 2.3.4 4.6.4-2.3.4 0 .4-.3.4 2.2.4-2.6.4-4.4.4 5.2.4-7.8.4 2.4.4 8.5.4-1.3.4-3.5.4.9.4.4.4 2.2.4-4.2.4-.2.4.6.4 1.8.4.3.4-1.5.4 2.7.4-4.2.4 2.2.4-1.4.4-.7.4 5.2.4-3.6.4-1.6.4 2.4.4-2.4.4 3.7.4.6.4.4.4-4.8.4 2.1.4 4.7.4-4.8.4 3.4.4.6.4-6.7.4 6 .4-1 .4.3.4 1.9.4-2.9.4-.9.4 1.3.4-2.2.4 1.9.4-5.8.4 8.7.4-5.2.4 2.4.4-.5.4-.5.4.1.4-.1.4-4 .4 2.6.4 4 .4-5.1.4-.1.4 7.3.4-2.1.4.9.4-3.7.4.7.4 1.1.4-.4.4-1.5.4-3.2.4 1.7.4-1.8.4 7.1.4-4.6.4.5.4 1.1.4-.6.4 1.2.4-2.7.4-2 .4 7.5.4-5.7.4.6.4-.8.4.6.4 1.3.4 1.7.4-4.2.4 3.1.4-2.2.4 4.3.4-5.6.4 3.1.4 1.4.4-4.8.4 3.4.4.1.4-2.2.4 1.3.4 2.8.4-1.7.4-1.5.4.5.4 1.5.4 1.8.4-1.1.4-.1.4 1.9.4-7.1.4.2.4-1.9.4 7.1.4-7.1.4 5.1.4 1.8.4-4.9.4 1.7.4.9.4 2.2.4-5.1.4 4.2.4.9.4-1.3.4 0 .4 2.5.4-2.3.4-.6.4-.7.4 2.2.4-2.1.4 2.1.4-1.2.4 2.3.4-4.3.4 1.9.4.6.4.2.4 1.6.4-1.7.4 1.2.4 2.4.4-2.5.4-4.4.4-.8.4 4.8.4-2.4.4 1.5.4-1.1.4 3.4.4-.3.4-5.2.4 3.1.4-1.3.4-2.2.4 4.4.4-1.8.4 1.3.4 4.6.4-2.6.4-.5.4-3.4.4-1.8.4 5.5.4-3.5.4.8.4-1 .4 1.1.4 5.2.4-6.1.4 0 .4 1.1.4.2.4-3.4.4-1.3.4 2.7.4.9.4-1.3.4-.5.4.1.4 1.2.4.6.4-3.4.4 2.4.4 2.1.4-1.1.4-2.8.4 2.3.4.7.4 1.8.4-5.4.4 5.2.4-2.6.4 1.5.4 1.1.4-3.6.4.2.4 1.6.4 1.8.4-2.8.4-2 .4 1.6.4 2.5.4 1.7.4-3.8.4.4.4.4.4 0 .4-1.8.4 1.1.4 1.5.4-.2.4-.2.4-2.4.4 1.1.4-.4.4 4 .4.9.4-2.5.4 2.8.4-4.3.4 0 .4-2.3.4 3.5.4-1.6.4 1.3.4.9.4-1.7.4-2 .4 2.5.4-.1.4.2.4 1.5.4-2 .4-.2.4 4.5.4-1.4.4-2.7.4-1.9.4 1.1.4 1.9.4 1 .4 3.5.4-5.9.4.9.4-1.2.4 1 .4-1.1.4-1.5.4 4.7.4-2 .4 2.6.4-4.1.4 1.8.4.9.4-5.8.4 1.3.4 4.7.4-1.5.4-4.4.4 2.5.4-.7.4 1.3.4 4.5.4-4.8.4 5.9.4-5.1.4-1.1.4 5.2.4-1.5.4 1 .4 1.3.4-2 .4.3.4-6.6.4 2 .4 2.9.4-.6.4 1.2.4-2.7.4 3.6.4 2 .4-3.3.4.6.4-.7.4.9.4-1.6.4-1.7.4 1.6.4-.2.4-3.7.4 3.9.4-.4.4.3.4-1.7.4 2.3.4.3.4-3 .4 2.3.4 1 .4-.1.4-3.9.4-.2.4 2.3.4-2.5.4 8 .4-7.6.4 0 .4 3.2.4-2.7.4-4.3.4 4.9.4-2 .4.9.4-2.6.4 1.4.4 1.6.4 0 .4-2.5.4.7.4-.5.4 2 .4-.8.4-2.8.4 4.1.4-3.3.4 2.2.4-3.2.4 2.5.4-1.3.4.2.4.7.4-.4.4-.9.4-.3.4-3.5.4 2.5.4-5.1.4-.3.4 4.3.4.1.4 3.8.4-2 .4 1.1.4-3.3.4 1.8.4 1.8.4-1.3.4-.2.4-.4.4-2.1.4.3.4-1 .4 4.5.4-1.3.4-.7.4 2.7.4-1.9.4 4 .4 2.2.4-3.1.4-2.3.4-1.7.4 8.3.4-3.4.4-3.5.4 5.3.4-6.1.4 3 .4.6.4-.1.4-1.7.4 8.3.4-6.3.4 1.9.4-.8.4-3.6.4 2.5.4 1.8.4 1.7.4-2.9.4 1.7.4-1.6.4 2.2.4-7 .4 7.1.4-2.8.4.1.4-5.2.4 4.2.4 3.8.4 4 .4-7 .4.2.4 2.6.4-.4.4-2 .4.9.4-.4.4 2.3.4.4.4 2.2.4-1.9.4-.6.4-1.1.4 1.8.4-4.5.4 7.3.4-4.3.4 2.6.4-5.1.4 4.2.4-1.4.4-1.4.4-1.1.4-.5.4 6.2.4-1.3.4-2.6.4.2.4-2.1.4-2.6.4.1.4 2.8.4 1 .4-2.3.4 4.5.4-.6.4-.8.4-4.5.4 3.6.4.4.4-2.8.4-2.2.4 9.6.4-3.1.4-2.3.4 4.6.4-1.1.4-1.6.4-.5.4 1.3.4 1.6.4-3.2.4-.7.4 1.9.4-8 .4 6.8.4-1.1.4.9.4-.4.4 1.2.4-.5.4-.1.4-.5.4 1.4.4-2.3.4 3.5.4-6.2.4 4.4.4.6.4-4.1.4 2 .4 4.1.4-3.4.4-1.7.4-4.9.4 7.7.4-.5.4 1.2.4 3.3.4-4.8.4.3.4-1.9.4 1.5.4.1.4 1.8.4-.5.4-3.1.4.7.4 4.4.4-5.5.4 4 .4 2 .4-2.2.4-.9.4 2.6.4-2.4.4-.8.4-.5.4 3.2.4-1.1.4 2 .4-4.4.4.1.4-.3.4 1.7.4-2.3.4 3.8.4-1.4.4-3 .4-4.7.4 2.7.4 7.6.4-3.5.4.5.4-1.3.4 1.9.4-5.3.4-.2.4.8.4 4 .4 1.5.4-.5.4-1.4.4-2.7.4 4.9.4-2.5.4.6.4-.1.4-.9.4-.6.4.3.4-1.6.4 3.6.4-1 .4 2.8.4-6.5.4 6.9.4-2.9.4-.2.4-1.4.4-.1.4-1.5.4 5.5.4-2.5.4 2.1.4.3.4-3 .4.6.4-.2.4 3.1.4-2 .4.1.4 1.3.4-1.8.4 4.8.4-6.7.4 5 .4.3.4-5.8.4 4.6.4-1.3.4 1.4.4-4.7.4 3.3.4-2.8.4 1.5.4 4 .4-3.5.4-4.8.4 2 .4.6.4 4.9.4-3.9.4-1.9.4 6.1.4-2 .4.3.4-2.6.4 5 .4-3.4.4-4.2.4 1.9.4.7.4 1.6.4 2.1.4-3.4.4.3.4 6.4.4-4.8.4-1.3.4 1.2.4-2.8.4 4 .4 1 .4-3.4.4 3.5.4-2.8.4 1.3.4-2.3.4-.1.4-1.5.4 3.8.4-1.1.4.1.4-1.9.4-.1.4 1.2.4 2.5.4-.4.4-2.1.4 2.2.4 3.2.4-3.6.4 4.2.4-3.4.4 1.9.4-4 .4 3.7.4-5.1.4 3.1.4-1.2.4-3.6.4 1.4.4 5.5.4-1.4.4 1.8.4-2.4.4-6.8.4 6.9.4-1.7.4.1.4.2.4-.7.4-.4.4 4.8.4-1.7.4-2.3.4.5.4 3 .4-1.2.4-.4.4-3.1.4 1.8.4-1.5.4-1.7.4 6.1"/>
<path fill="none" stroke="#00cccc" stroke-width="10" stroke-linejoin="round" stroke-linecap="round" d="M132.5,304.8l.4.4.4-.2.4 1.4.4 4.5.4-6.6.4 5.5.4.6.4-3.5.4-.7.4 2.5.4 1.6.4 2 .4-2.7.4 1.5.4-4.5.4-.9.4-1.9.4 1.2.4 1.7.4 1.2.4-3.3.4 4.7.4-2.1.4-1.2.4-.3.4 6.1.4-4 .4-2.4.4-.1.4 6.1.4-5.4.4 3.9.4.5.4-8.3.4 8.1.4-3.4.4-2 .4 1.2.4 2.4.4-.4.4.1.4-2.6.4 4.4.4.5.4.7.4-1.9.4 2 .4.4.4-3.1.4.4.4-.7.4-.1.4.7.4-5.8.4 3.1.4 1.8.4-5.9.4 1.5.4 6.8.4-6 .4 1.3.4 1.9.4-2 .4-.8.4.7.4.2.4-.4.4 1.7.4 3.2.4-2.8.4 2.8.4-2 .4.2.4-.6.4-2.1.4 1.7.4-.3.4-3.3.4 4.2.4-.4.4-.5.4-2.1.4-4.8.4 9.4.4-3.6.4-4.9.4 6.5.4-3.1.4 3.1.4-1.8.4 2.8.4-2.1.4.1.4-.3.4 2.4.4-5.8.4 5.7.4-1.2.4-2.9.4 1.3.4-1.1.4 1.1.4 2.1.4-3.8.4 3.2.4.5.4-.8.4 2.2.4-3.9.4 1.8.4 4.2.4-5.8.4-.5.4.3.4 1.4.4-2.9.4.8.4-3.6.4 1.7.4 0 .4-.4.4 1.7.4 2.7.4-2.6.4-2.3.4 3.7.4-.2.4-3.8.4 3.7.4-3 .4 1 .4-.3.4 3.7.4-4 .4 1.2.4 1.2.4 2 .4.3.4-5.3.4 5.3.4-2.2.4 2.1.4-.3.4-4 .4 1.4.4-.9.4 1.6.4 3.1.4-3.9.4-1.8.4 7.8.4-8.7.4 2.4.4-.1.4-3.1.4 5 .4.7.4-2.9.4.3.4-.6.4-4 .4 4.9.4-3.7.4.6.4 3.4.4 1.3.4-4.6.4 5 .4 1.6.4-4.1.4-.7.4.7.4-1.6.4-1.2.4 3.8.4.1.4-3.1.4.2.4-.6.4-.2.4-.8.4-1.4.4 6.1.4-3.2.4 1 .4 4.3.4-5.8.4 2.6.4-4.9.4 1.8.4 3.3.4-2.5.4-3.1.4-.3.4 4.8.4-3.3.4 4.1.4-1.1.4-1.6.4.6.4 2.1.4-1.9.4-2.6.4 3.3.4-1.9.4.3.4 2 .4-.6.4 1.7.4-3.2.4-.7.4.2.4 1.9.4-3.2.4 1.1.4-1.3.4.1.4 1.6.4 6.7.4-7.4.4 1.7.4-.5.4-.8.4.5.4 5.1.4-5.9.4 4.8.4-2.5.4-4.1.4.5.4.5.4-1.7.4 5.8.4-2 .4.3.4-4.2.4 3.9.4-2.7.4 7.9.4-6.8.4.9.4.3.4-2.4.4.2.4-.1.4 3.3.4-4.3.4 1.5.4 1.2.4-2 .4-2.7.4.4.4 2.1.4-1.6.4 5.2.4-2.6.4-.2.4-2.7.4 4.1.4-2.5.4-1.7.4.8.4 8.2.4-8.2.4-.8.4 5.5.4-1.2.4-2.9.4 4.6.4-8 .4 2.7.4-3.3.4 8.3.4-3.7.4 7 .4-6 .4 0 .4-4.6.4-.2.4 1.9.4 3.8.4-5.5.4-3.9.4 9 .4.1.4-5.2.4 3.7.4 1.9.4.1.4-7.9.4 4.6.4-2.5.4 4.9.4-2.6.4-3.7.4 3.6.4 1.4.4-6.3.4.5.4 1.9.4 1 .4-.9.4-3.7.4.7.4 4.4.4 1.2.4-3.8.4 3 .4 4.9.4-6.1.4-.8.4-.8.4 3.4.4-.8.4 0 .4-1.9.4 2.3.4 0 .4-1.7.4 3.8.4-8.2.4 6.7.4-2.5.4 2.8.4 3.1.4-5.6.4-.7.4.4.4 4.2.4.4.4-4.2.4 1.4.4 3.4.4-3.8.4-6.3.4 2.1.4.9.4 2.6.4-3 .4 5.9.4-5.7.4 6.2.4-6.9.4 6.1.4-3.6.4 3.7.4 1.6.4-.6.4-2.3.4-5.6.4-.2.4-7.5.4 14.4.4-.6.4-.9.4-6.8.4 12.2.4-10.8.4 4.7.4-7.8.4 3.1.4 5.7.4-.7.4-6.7.4 3.1.4 3.7.4-9.4.4 8.2.4-7.5.4 6.9.4-2.9.4 3.9.4-4.9.4.5.4-.1.4-2.1.4 2.1.4-2.4.4 1.3.4 4 .4-3.3.4 4.4.4-1.2.4.3.4-6.5.4 5 .4 3.3.4-1.8.4 1 .4.9.4-10 .4 6.7.4-.1.4-2.5.4-3.8.4 4.8.4-1.1.4 6.9.4-2.2.4-5.7.4-2.3.4.7.4 2.5.4-2.3.4 9 .4-10.7.4 3.6.4.8.4.8.4-4.6.4 2.3.4 1.3.4.4.4-3.1.4.9.4 1.7.4 5.6.4-10.6.4 6.4.4 2.9.4-10.1.4 9.6.4-.2.4-4.6.4 3 .4 1.7.4-5.7.4 1.3.4-4.5.4 1.2.4 2.5.4-.6.4 5.8.4-6.3.4-3.5.4 7.1.4.1.4-1.9.4-1.9.4-2.3.4.4.4 7.4.4-2.6.4-2.5.4 1.1.4-2.8.4-2.1.4 1.5.4 1.4.4-5.7.4.6.4-1.1.4 4.4.4 3.6.4-6.9.4.5.4-1.7.4 3.9.4-2.7.4.6.4-.5.4 11.8.4-8.4.4-2.1.4.7.4 4.6.4.3.4-2.6.4-8.1.4 10.4.4.3.4-1.2.4-1.1.4-1.5.4 3.9.4-5.5.4 4.8.4-5.6.4.2.4-.3.4-.5.4.1.4 4.5.4 2.8.4-8.4.4-1.3.4 8.2.4-5.9.4 2.2.4-.6.4 2.6.4-6.7.4 7.4.4-1.4.4-11.2.4 7.4.4-1 .4 2.7.4-1.7.4-2.7.4 1.3.4 2.5.4-1.3.4-.9.4 8.8.4-6.4.4-6.4.4 4.5.4.7.4-5.1.4 4 .4-3.8.4-5.4.4 9.7.4.9.4-.2.4-3 .4-1.9.4 3.1.4.6.4 1.7.4 1.5.4-2.2.4-5.5.4 1.9.4-5.4.4 8.1.4-.6.4 2.2.4-2.9.4 4.1.4-9 .4 3.9.4-2.4.4 0 .4-6.3.4 3.9.4-5.1.4 6.4.4-1.6.4 3.1.4-7.9.4 5 .4.9.4-8.3.4 15.6.4-4.8.4-5.1.4 10.5.4-2.3.4-15.5.4 8.6.4-1.5.4 2.6.4-4.1.4 2.6.4 1.3.4-10.6.4 10.5.4 5.1.4-5.3.4 4.1.4 1.7.4-5.4.4.3.4-.1.4-3.5.4 11.1.4-7.7.4.4.4 1.6.4 2.1.4-11.9.4 1.3.4 4.7.4 1.5.4-7.3.4-.7.4 8.8.4-.3.4-4.3.4-.1.4-1.5.4-2.4.4 1.2.4 4.3.4-1.6.4 4.7.4-9.7.4-1.6.4 9.5.4-6.5.4 2.6.4 1.4.4-5.5.4-1.2.4 7.5.4-12.7.4 14.1.4-10.2.4 10.9.4-2.1.4-.4.4 1.1.4-1.5.4-6.4.4 9.2.4-2.9.4 1.4.4-2.6.4-.5.4 4.9.4.1.4-3 .4-6.1.4 1.1.4-.3.4 9 .4-2.6.4-1.9.4-.9.4-2.5.4 6.6.4-7.9.4.8.4 7.2.4-.9.4-2.9.4-5.1.4-.1.4 9 .4-2 .4 4.8.4-8.4.4 1.7.4-3.7.4 11 .4-14.2.4 9.8.4 4.2.4-11 .4-2 .4 1.8.4-1.8.4 7.5.4-1.9.4-3.5.4 2.7.4 7.6.4-7.5.4-.7.4 10 .4-12.1.4 1.8.4 8.3.4-6.2.4-8.4.4 4.4.4-5.9.4 6.8.4 4.1.4-8.4.4 13.6.4-1.2.4-2 .4-6.6.4 3.3.4 2.2.4 1.8.4 1.3.4-14.8.4 6.2.4-1.9.4 3.5.4 2.4.4 9 .4-10.4.4 4.4.4-3.5.4-.6.4 7.7.4-12.4.4 7.7.4 6.1.4 5.8.4-17 .4-1.8.4-1.4.4 3.6.4 1.8.4 0 .4 4.9.4-6.3.4 2.7.4-8.5.4 4.3.4 2.2.4-9.6.4 10.8.4 3.3.4-3.5.4.6.4-1 .4-5.1.4 5.4.4-2.7.4 2.9.4-.1.4.2.4-6.2.4 5.5.4 7.8.4-3.5.4-5 .4-2.2.4 7.5.4-4.3.4-7.7.4 5.8.4 9.2.4-14.6.4 7.6.4-3.5.4 3 .4-1.5.4-2.1.4-7.3.4 10.2.4 1.1.4-.7.4-4 .4 2 .4 12.2.4-14.4.4 3.5.4-4 .4 4.5.4 2 .4 4.2.4-4.2.4-.9.4 1.6.4.9.4-2.6.4.1.4 5.4.4-8.3.4 2.8.4-3.6.4 1.8.4 8.6.4-9.4.4 5.3.4 6.9.4-6.8.4-2.9.4-2.6.4-7.6.4 6.9.4.1.4 8.1.4-1.1.4-8.5.4 8.3.4-5.4.4 10.6.4-1.4.4-3.4.4-4.5.4 9.3.4-3.7.4 1.2.4-2.5.4-3.3.4 4.5.4-6.8.4 6.9.4-2.5.4-7.8.4 9.1.4-2.2.4-1.4.4 1.3.4 3.7.4-8.1.4.3.4 7.7.4-2.3.4-8.1.4 7.8.4-7.6.4 10.1.4-1.7.4.9.4-8.5.4 3.1.4 7 .4-9.5.4 8.1.4-3.1.4 1.6.4-4.1.4 6.1.4-.8.4 2 .4 6.9.4-11.3.4 1.3.4-4.7.4 11.9.4-8.8.4 4.8.4-7.9.4 3.8.4 3.6.4-.4.4-3.1.4 5 .4-3.2.4 4 .4-5.3.4 3.8.4-4.6.4 7.3.4-5.2.4.3.4-2.5.4 6.6.4-3.5.4-1.5.4 6.5.4-8.6.4 7.3.4 2.2.4-13.2.4 10.8.4-1.4.4-1.3.4.7.4-6.5.4 7.2.4-1.1.4-7 .4 5.4.4-4.1.4 5.4.4-3.9.4 4.1.4-6.2.4 3.7.4.6.4.9.4 5.5.4 4.3.4-14.9.4 9.6.4-4.4.4 0 .4 0 .4.7.4.4.4 3.8.4 1.8.4-3.6.4-1.1.4 2.2.4-.6.4 5.7.4-11 .4-1.6.4 4.5.4 2.3.4-2 .4 1.8.4-11.1.4 7.3.4.4.4-2.6.4 3 .4 1.5.4 2.5.4-5.1.4-2.9.4 8.2.4 6 .4-6.9.4 0 .4-4.3.4 4.8.4 5.4.4-13.7.4 11.6.4-11.3.4 13.3.4-2.4.4-4.3.4 2.4.4 5.4.4-10.4.4 8.7.4-2.2.4-2.1.4 5.6.4-11.7.4 5.9.4-4 .4 4.4.4 2.3.4-8.1.4 7.3.4.1.4-3.3.4 2 .4 4.5.4-2.8.4 5 .4-10 .4-.7.4 9.3.4-9.5.4 9.7.4-4.5.4 2.6.4-3.7.4 5.2.4 1.2.4-.4.4-2.6.4-6.7.4 8.6.4-3.1.4 4.6.4-10.5.4 7.4.4-3.2.4 1.5.4 3.5.4-.2.4 2.3.4-3.4.4.3.4-.7.4-5.4.4 8.3.4-7 .4 1.2.4 3.6.4-4 .4.8.4-7.4.4 5.9.4-.8.4 1.8.4 4.3.4-2.9.4.5.4 1 .4 3.3.4.4.4-2.4.4-2.3.4 4.1.4-4.2.4.5.4 1.8.4-2.8.4-2.1.4-.5.4 3.4.4 2 .4 1.6.4-5.1.4 3.7.4-.6.4-1.7.4 10.7.4-11.6.4-.3.4 3.6.4 5.1.4-6.8.4 6.1.4-8.3.4 2.3.4.8.4-.2.4 1.2.4-.5.4-.3.4-2.7.4 5.3.4-1.5.4.8.4 3.4.4-2.3.4-.9.4 4.2.4-6.5.4-3.8.4 3.5.4-2.2.4 3.4.4.1.4.7.4 1.2.4 1.3.4-.7.4-.9.4-1.5.4-.7.4 1.7.4-.8.4-2.8.4 2.3.4 3.9.4-2.2.4-3 .4 3.7.4 1.4.4-5.8.4 9.4.4-1.7.4-4.4.4 4.4.4-2.8.4 1.3.4-5.1.4 1.4.4.9.4.5.4-1.3.4-3.6.4 1.6.4 5.2.4-2.8.4 7 .4-1.1.4-5.2.4 1.5.4-6.8.4 8.5.4 1.4.4-6.2.4 0 .4.7.4 4.3.4 1.1.4-6.6.4 2 .4 3 .4-1 .4-1.6.4 2.7.4-4.6.4-1.9.4 6.9.4.5.4 1.9.4-5.2.4-1.7.4 3 .4-.5.4.5.4-.4.4 4.6.4-3.3.4 3.4.4-6.6.4-.9.4 6.3.4-6.9.4.2.4.1.4-2.3.4 7.5.4 4 .4-3.6.4.9.4-3.8.4-1.9.4 4.8.4-5.4.4-1.2.4 2.2.4 6.2.4-2.2.4-2 .4-2.6.4.4.4 4.1.4-1.3.4-2.2.4 6.2.4-5.8.4-3 .4 4.4.4 4.2.4-1.1.4.7.4-5.6.4 4.1.4-1 .4-1.2.4-2.8.4 7.6.4-3.6.4-2.1.4 4.2.4 5.8.4-12.9.4 5.6.4 5.1.4 0 .4-9.2.4 1.7.4-4.9.4 6.5.4-4.9.4 1.5.4 8 .4-8.4.4-1.8.4 5.8.4.7.4.1.4 3.1.4-5.9.4 1.9.4 2.5.4-3.3.4 5.8.4-1.3.4-2.9.4-.7.4.8.4.9.4-7.3.4 2.2.4 1.6.4-.2.4.7.4.1.4 2.2.4-1.3.4 2.2.4-.1.4-1.2.4-1.1.4-1.1.4 4.9.4-3.9.4 2.1.4 1.9.4-1.9.4-5.7.4 2.6.4 8.7.4-11.5.4 9.2.4-7.5.4 3.8.4 3.1.4-6.6.4 6.4.4-10.3.4 6.6.4-1.5.4 3.3.4 1.2.4 1.3.4-.1.4-4.9.4-1.6.4 4.3.4-3.1.4-5 .4-.2.4 5.5.4.1.4 1.5.4.4.4-5.7.4 6 .4-4.5.4 5 .4-1.4.4 5 .4-3.7.4-2.9.4.9.4 1 .4 1.7.4.6.4-5.1.4-.4.4 5.6.4-2.3.4 3.4.4-1.8.4 3.9.4-3.3.4-5.9.4 2.6.4 3.1.4-5.1.4 3.4.4 2.1.4 1.4.4-.7.4-7.5.4 8.5.4-6.5.4 3.1.4-2.8.4 5.6.4-3.2.4 1 .4.7.4-1.6.4-1.8.4 6.5.4-2.6.4.6.4-7.9.4-.7.4 11.4.4-3 .4-7.7.4 6.8.4-1.1.4-3.3.4 1.7.4 7.1.4-8 .4 3.8.4-4.1.4-2.2.4 12.3.4-5.4.4-3.6.4.3.4.3.4-2.5.4 4.7.4.6.4-3.3.4 1.1.4-3.9.4 4.9.4-7 .4 5.8.4 4.9.4-5.4.4 9.3.4-11.8.4 2.6.4.7.4 3 .4.8.4-3.1.4-5.3.4 9.2.4-2.4.4.4.4-7.4.4 6.4.4-2 .4 3.5.4 2.4.4-8 .4 2.2.4.5.4-2.5.4 4 .4 0 .4-4.4.4.1.4 3.5.4-6.3.4 6.4.4 1.7.4 0 .4-5.5.4 8.4.4.9.4-9.8.4 8.8.4-1.3.4-1.2.4-5.1.4 5.5.4-6.5.4 3.6.4 2.4.4-.9.4-2.4.4 2 .4-1.5.4 1.3.4-3.2.4-1.2.4 1.9.4-2.1.4 7.2.4 4.5.4-5.8.4 1.5.4-6.8.4 2.8.4-3 .4 5.4.4-1.6.4-3.5.4 7.4.4-4.4.4 2.5.4.3.4 1.6.4-.4.4-3.8.4-.9.4-1.2.4-1.3.4 8.5.4-7.1.4 5.9.4-6.9.4.4.4 5 .4-3.5.4-1.9.4 7.2.4-8.8.4 1.4.4 4.5.4 2.5.4-4.6.4-2.6.4 9.3.4-6.8.4-1.9.4 2.2.4 3.2.4-12.1.4 5.3.4 5.4.4-.6.4-1.4.4-.7.4 2.2.4 1.5.4-4.9.4.4.4 3.6.4-3.4.4-3 .4 3.4.4-2.8.4 5.2.4.8.4-4.6.4 1.6.4 1.4.4 2.7.4-.7.4-2.2.4.3.4 3 .4-2.1.4-.4.4-4.8.4 3.7.4.8.4-1.2.4-3.4.4-2.4.4 7.2.4-.1.4-1.6.4-3.2.4 1.2.4 1 .4 2.2.4-2.1.4-3 .4.6.4-2.3.4 8.6.4-8 .4 6 .4-4 .4 4 .4-9.3.4 4.6.4-5.8.4-.9.4-.7.4-2.9.4 0 .4.5.4 4.2.4-7.6.4-4.6.4 5.1.4 1.1.4-12.5.4 8.5.4-5.8.4-1.1.4 8.1.4 3.4.4 2.3.4-4 .4.2.4 3.2.4 2.7.4 2.2.4 2.8.4-1.6.4 1.6.4 0 .4-2 .4 4.4.4 3.8.4-1.5.4-8.1.4 11.5.4-6.7.4 9.8.4-.1.4-4 .4 3.7.4-7.7.4 2 .4-1.3.4 3.3.4-.7.4.6.4-.2.4 4.2.4-4.3.4-1.3.4 1.7.4 1.2.4-.1.4-4.3.4 1.6.4.6.4-1.8.4-2 .4 3 .4-6 .4 7 .4-2.9.4 2.9.4.6.4 6.1.4.3.4.8.4-6.3.4-1.7.4 4.1.4-5.6.4 2.8.4-2 .4 2.2.4 2.4.4-5.4.4 4 .4-.2.4.1.4.9.4-2.7.4 1 .4-.8.4-3.5.4 9 .4-2.3.4 0 .4-4 .4-3.2.4 6 .4-3.5.4 8.1.4-.2.4-6.7.4 5.6.4-1.8.4-2.4.4-4.3.4 6.4.4.9.4.1.4-4.2.4 1.7.4.1.4 0 .4-1.9.4 5 .4-1.4.4-2.9.4 2.5.4 1.6.4-1.8.4-.1.4 1.4.4-4.6.4 4.3.4-4 .4 2.6.4 3.1.4-5 .4 4.8.4-1.5.4 2.1.4-8.4.4-7.2.4 8.8.4 9 .4-5.2.4-1.7.4.9.4 1.3.4-1.8.4 7.3.4-6.5.4-4.3.4.1.4 3.5.4.3.4 2.5.4.3.4.3.4-6.1.4 4.3.4-3.2.4 2.4.4-3.6.4 7 .4.2.4-3.1.4-3.9.4 6 .4-2.3.4-4.9.4 5.9.4.7.4-1.2.4-6.7.4 7.3.4.7.4-4.6.4 5 .4-1.7.4 1.3.4-8 .4 4.2.4 2.3.4-5.9.4 4.8.4 4.7.4-9.7.4 8.7.4-1.5.4-5.3.4.2.4-.3.4 3.5.4-7.9.4 8.9.4-6.5.4 3.4.4-.3.4 3.6.4-5.3.4.5.4 5.9.4 1.3.4-5.1.4-.9.4 1.7.4-.6.4-.2.4-3 .4-3.7.4 7.2.4-.9.4 3.5.4-.1.4 1.5.4-6.5.4 3.6.4-5.9.4 4.4.4.6.4-3.7.4 1.8.4 7.5.4-9.9.4 5.6.4-4.3.4 3.7.4-10.5.4 3.7.4 3.1.4 5.6.4-5.6.4-3.3.4 2.2.4 3.5.4-7 .4 4.6.4-.9.4-.7.4 2.2.4-3.6.4 3.8.4 0 .4 3.1.4-4.3.4-1.4.4-3.3.4 1.4.4-2.5.4 7.7.4-11.3.4 7.9.4-.3.4.3.4-3.7.4 7.4.4-8 .4-4.2.4 2.1.4-.8.4 5.4.4-4.8.4-3.4.4-1 .4 1.3.4-2.2.4-.3.4 1.7.4-8.9.4 0 .4.3.4-8 .4 3.1.4-1.6.4-8 .4-2.9.4-9 .4-5.1.4-6.1.4-8.3.4-3.9.4-12.5.4-2.9.4-9.6.4 2.1.4-1.9.4-1.9.4-1.5.4 6.9.4 1.4.4 17.6.4 3.6.4 6.3.4 8.9.4 1.7.4 8.3.4 6.7.4 6.5.4 7.3.4-5.9.4 7.8.4-2.3.4.7.4 5.8.4.1.4-3.1.4 5.4.4 6.8.4-7.2.4.6.4 6.6.4-2.4.4-2.5.4 4.1.4-2.7.4-.4.4 3.7.4-3.5.4 5.1.4 2.6.4-6.5.4.1.4 0 .4 2.2.4-2.2.4 2.7.4 2.2.4-5.5.4 4 .4 2.8.4-.9.4-5.1.4 6.5.4-6.5.4 5.9.4-7.7.4 6.6.4-2.7.4 0 .4-.2.4-1.6.4 4.2.4-.8.4 2 .4-4.8.4 4.6.4.9.4-5.6.4 6.4.4.9.4-7.9.4.8.4 10 .4-6.1.4-1.3.4-2.2.4 4.7.4-3.1.4 2.5.4-.5.4.9.4.7.4-2.7.4 2.3.4.5.4-2.4.4-1.3.4 3 .4 3.9.4-5 .4-.7.4 2.4.4-2.1.4 1.7.4-.3.4-1.4.4 2.8.4-3.4.4.5.4-2.6.4 2.7.4 3 .4 2.8.4 5.5.4-8.9.4-.9.4 7.1.4-9.7.4 6.9.4-1.6.4 4 .4-5.1.4 1.2.4-5.3.4 3.2.4 1.8.4-1.4.4-.3.4 5.2.4-7.1.4-.5.4.7.4 2.2.4-.5.4 1.9.4-1 .4 7.1.4-6.9.4 1.8.4 2.2.4 5.2.4-6.9.4-1 .4 4.6.4-3.9.4-3.1.4.2.4 3.3.4-2.5.4 7.1.4-1.7.4 3.7.4-4 .4-1.4.4 3.1.4 0 .4-4.3.4 7.5.4-4.1.4 1.9.4-3.7.4 4.6.4 3.5.4-6.7.4-2.2.4 3.4.4.1.4 1.6.4-6.3.4 7.5.4-2 .4-1.5.4-2.6.4 4.2.4 2.5.4-1.6.4.1.4-1.1.4.7.4-4.5.4 8.1.4-1.2.4-3.6.4 1 .4-4 .4 1.5.4 3.7.4-3.1.4-1.1.4 2.3.4 2.7.4-4.6.4 4.3.4.4.4.2.4-.2.4-1.2.4-1 .4 3.6.4-5.2.4 6.1.4-7 .4 2.9.4 1.4.4-5.7.4 6.6.4 1.6.4-6 .4 2.5.4 2.8.4 0 .4.7.4-7.1.4 3.8.4 4 .4-7.4.4.6.4 3.2.4.1.4-3.7.4 1.2.4 2.4.4.8.4 4.8.4-2.4.4-1.9.4-.7.4 2.2.4 5.3.4-8.2.4-1.5.4-.9.4 3.4.4-3.2.4-2.1.4 3.2.4 0 .4 4.8.4 1.8.4-5.6.4 0 .4 4.2.4-2.8.4-1.1.4 3.4.4-4.8.4 4.4.4 4 .4-9.8.4 5.3.4-1.9.4 4.2.4-.8.4-5.1.4 1.9.4-2 .4 5.3.4-5.3.4 2.1.4 2.8.4-3.8.4-1.8.4-.2.4.4.4 2.3.4-.4.4 2.1.4-1.4.4 3.5.4-1.1.4 1.9.4-5.6.4-1.6.4 6.9.4-2.4.4-6.9.4 4.2.4 2.8.4 2.1.4 3.2.4-3.4.4-2.3.4-2 .4-1.1.4.5.4-1.2.4 2.9.4 3 .4-1.5.4-4.1.4 4.6.4 1.2.4-3.4.4-.3.4.7.4 1.2.4-6.6.4 2.9.4-1.2.4 3.7.4 1.2.4-2.8.4 4.3.4-2.3.4.2.4-.5.4-3.4.4 7.8.4-4.1.4-5 .4 6 .4.8.4-5.9.4 3.8.4 4 .4-2.8.4-1.2.4-.2.4 1 .4-3.8.4 1.5.4 1.9.4-.9.4 3.6.4-8.5.4 10.4.4-7 .4-.5.4 1.5.4 3 .4-3.5.4 4.1.4-.5.4-3 .4-.7.4-.1.4 1 .4-4.5.4 7.4.4-3.7.4.3.4-2.6.4-.1.4 5.5.4-9.4.4 5.5.4-3.1.4-2.8.4 5.9.4-4.7.4 3.6.4-3.4.4-5.4.4 4.6.4-3.7.4 1.5.4-1.2.4.8.4-2.2.4-2.3.4-2.4.4-3.8.4-3.3.4 4.4.4-5.6.4.3.4 1.5.4-.8.4-1 .4-2.4.4.5.4.2.4.3.4-2.7.4 5.2.4 3.3.4-.9.4 2.2.4-5.1.4 5.5.4 10.5.4-7.4.4 5.5.4 3 .4.5.4-1 .4.3.4-2.4.4 8.6.4-3.6.4 3.4.4-6.6.4-.4.4.3.4 7.7.4-2.6.4.4.4 1.7.4-.2.4.4.4-2 .4-.6.4 3.2.4 2.4.4-3.9.4 1.9.4-1 .4 2.2.4-4.1.4 8.1.4-.2.4-4.2.4-.5.4-4 .4 6.9.4-1.9.4.2.4-4.6.4 6.1.4 3 .4-7.5.4 2.3.4 3.8.4-1.3.4.1.4 6.3.4-4.3.4-3.1.4-7.7.4 6.8.4-3 .4.2.4 6.7.4-6.1.4 2.4.4 4.1.4-5.5.4.6.4-1.7.4 1.9.4-3 .4 4.8.4-2.4.4 3 .4.5.4-1.8.4.6.4-1.3.4 2.3.4 1.1.4-1.2.4 2.5.4-3 .4-.5.4 1.4.4-5.4.4 2.9.4-4 .4 5.9.4 1.8.4-5.7.4 1.5.4.4.4 4.5.4-2 .4 2.5.4-1.7.4.1.4-6.6.4-.4.4 8.7.4 2.7.4-9.1.4.3.4 6 .4 2.3.4-8.2.4 1.2.4 4.2.4-1.6.4.1.4 1.3.4-5.2.4.7.4 6.2.4-8.2.4 6.5.4-3.5.4 4.8.4-3.8.4-.2.4 3.5.4-3 .4.1.4-6.1.4 7.6.4-1.9.4 3.2.4-3.7.4-1.8.4 6.4.4-3.4.4-.6.4-2.9.4 7.3.4-1.2.4-5 .4 4.6.4-.6.4 1.8.4-3 .4 5.5.4-10.6.4 1 .4 5.9.4.6.4-1.1.4 5.1.4-5.2.4-5 .4 8.3.4-3.7.4-1.2.4 2.6.4 0 .4-2.5.4 3.2.4-1.1.4-1.4.4.1.4-5 .4 3 .4.2.4 1 .4 4.8.4-3.9.4-1 .4-2.5.4 2.2.4-1.3.4-.2.4 2.6.4-4.3.4 2.3.4 4.3.4-2.2.4-2.5.4.9.4-.5.4 5 .4-.1.4 1 .4-5.2.4.7.4 2.4.4-5 .4 1.4.4 4 .4-3.9.4-.7.4 3.4.4-1.9.4-.9.4 1.9.4-4.6.4 6.2.4-1.3.4.4.4-.3.4 1.2.4-6.1.4 4.5.4 3.5.4-5.4.4-.4.4.4.4-1.9.4 10.1.4-7.2.4 2.5.4-4.4.4.6.4-.6.4-1.4.4 2.5.4 4.2.4-4.7.4 4.4.4 2.5.4-3.7.4 1.9.4.5.4-4.7.4.4.4-3.2.4 3.3.4 4.2.4-2.2.4-1.1.4-.7.4-.9.4 1.1.4 6.9.4-2.5.4-2.4.4-1.2.4-1.1.4 4.3.4-3.7.4.3.4.3.4 4.1.4-2.9.4 3.7.4-5.9.4 0 .4-1.1.4 3.3.4-3.3.4 1.6.4 4.7.4-2 .4-2.1.4.1.4-7.6.4 2.4.4 7.1.4-4.4.4.6.4 4.1.4-5.4.4 3.6.4-1 .4 1.2.4-.6.4 4.6.4-2.5.4 2.1.4-5.6.4 1.5.4 1.1.4 3.4.4-2 .4-2.6.4-2.9.4 3.2.4-3.1.4.3.4 1 .4.4.4-.5.4 4.5.4-3.2.4-2.3.4 2.6.4-4 .4 4.9.4.5.4.2.4-4.3.4 5.1.4-.3.4 2.5.4-3.1.4-1.4.4-.5.4-1.1.4-.7.4.6.4 4.2.4-3 .4.5.4-1.1.4 2.1.4 1.2.4-.3.4-4.5.4 2.3.4 5.8.4-4.3.4-1.1.4-1.2.4-2.4.4-1 .4 3.7.4.9.4-2.2.4 1.7.4 1.7.4-.1.4 1.5.4-6.5.4 4.2.4.9.4-1.1.4-3.4.4-.8.4 8 .4-5.6.4 2.1.4-2.2.4-.4.4 2.9.4 1.2.4-2.3.4-.6.4 2.8.4-2.6.4-.1.4-.8.4 1.9.4-.9.4-.2.4-.3.4 1.2.4 2.4.4-3.2.4-1.8.4 7.3.4-2.8.4-3.6.4-3.1.4 7.1.4-4.8.4 1.7.4-6.3.4 8.2.4.9.4-3.2.4-.2.4.4.4-2.8.4.1.4 5.4.4-3.3.4.7.4-.2.4 2.2.4-2.1.4 1.5.4.4.4-3 .4 1 .4 1.4.4 1.2.4-1.3.4.2.4-3.5.4 1.2.4 2.1.4-1.6.4.5.4.4.4 3.5.4-5.9.4 4.3.4-.4.4-1 .4-2.4.4 1.8.4-1.3.4 3.2.4-1.9.4.3.4-2.5.4 5.1.4-7.7.4 10.4.4-8.2.4.9.4.3.4-2.5.4 5.9.4-4.2.4-.5.4 4.7.4-1.3.4-5.5.4.8.4 3.2.4.5.4 1.2.4-1.7.4 3.3.4-.3.4-1.5.4-.9.4 2.6.4.7.4-2.7.4-.8.4 2 .4-3 .4 2.1.4 1 .4-4.5.4.8.4-2.8.4 3.2.4 2.6.4-2.3.4 2.3.4-1.1.4-1.9.4 5.1.4-3.6.4 2.8.4-1.3.4-1.2.4 4.3.4-5 .4-.5.4 4.6.4-2.2.4-2.7.4.9.4-2.2.4 4.5.4 1.4.4-1.5.4.5.4 1.4.4-2.7.4-2.1.4.1.4 2.5.4-.3.4 0 .4-3.2.4 2.6.4 3.5.4-3.3.4 2.8.4-2.1.4-1.4.4 3.5.4 1.2.4-2.4.4 1.5.4-4 .4-1.6.4-1.7.4 4.4.4 3.5.4-4.9.4-2.1.4 3.5.4-.2.4-.1.4-2.4.4 6.1.4-5.2.4.9.4-3.3.4 5.1.4 2.7.4-1.6.4-5.4.4 4.6.4-4.4.4 2 .4-.4.4 2.8.4-.6.4-2 .4.5.4 3.7.4-6.9.4 2.2.4 6.4.4-4.7.4-2.5.4 3.7.4.9.4-4.5.4 2.1.4-1 .4 3.2.4-1.1.4-2 .4 3.6.4-3.3.4 6.1.4-2 .4-3.7.4 1.3.4 2.2.4-1.5.4-3.8.4 1.2.4 0 .4.4.4-3.6.4 5.9.4 6.5.4-7.8.4 0 .4-.9.4 1.9.4-2.9.4.7.4 2 .4-6.7.4 4 .4 5.5.4-2.1.4-1.5.4.2.4-6.6.4 7.7.4-2.4.4 3.8.4-2 .4.7.4-5.2.4-.2.4 8.7.4-5.4.4-.5.4 4.5.4-1.9.4.2.4 2.6.4-3.5.4-1.2.4-.6.4-4.1.4 4.8.4 0 .4-1.2.4 7.3.4-8.1.4 1.3.4-.4.4.2.4 2.8.4-2.6.4 2.4.4 4.7.4-6.9.4-.7.4.3.4 4.4.4-2.1.4 0 .4-1.8.4-.4.4 5.9.4-.5.4-6.2.4-.2.4 1 .4 0 .4 3.4.4 1.3.4-3.6.4-2 .4 4.5.4 1.3.4-7.3.4 4.4.4-3.1.4 0 .4.1.4 5.6.4-2.5.4-2.5.4 1.5.4 1.1.4-4.5.4 5.1.4-4 .4.5.4 5.8.4-11.8.4 10.5.4.2.4-3.4.4 3.5.4-2.3.4-1.9.4 2.5.4-2.2.4.4.4-1.3.4 8.8.4-3.9.4-3.1.4-3.2.4 1.3.4.2.4-.7.4 2.2.4.2.4 4.4.4-.6.4-7 .4 6.9.4-5.9.4 5 .4-2.1.4-.4.4.7.4-2.4.4-1.3.4 7.5.4-8.2.4 5.5.4-4.1.4 3.4.4-1.2.4.5.4-2.3.4 2.8.4 3.7.4-2.6.4 1.3.4-4.5.4.5.4 2.8.4-5.9.4 6.5.4-2.7.4-.4.4 4.2.4-5.7.4 5.6.4-6.5.4-.2.4 5.4.4.4.4-6.3.4 3.8.4 4.6.4-4.8.4-3.2.4 2.3.4.8.4-.5.4-2.3.4 1.2.4 2.4.4.6.4-1.8.4 1.3.4-.7.4-4.2.4 7.5.4-.4.4-3.3.4-.6.4.5.4.1.4 1.5.4.3.4-3.1.4-1.8.4-.3.4 6.5.4-4.6.4-2.5.4-2.8.4 6.9.4-1.9.4.1.4-3.1.4 1.3.4-.4.4 1.6.4 4.4.4-6.1.4-1.6.4 5.1.4-.3.4-3.2.4 1.3.4-2.1.4 6.4.4-3.3.4-4.8.4 5.9.4.3.4-5.9.4 3.7.4 0 .4-3.7.4-.4.4 11.5.4-9.5.4 4.2.4.5.4.9.4-.2.4-1.8.4-2.1.4-1 .4 4.4.4-3.3.4 4.7.4-2.8.4 3.7.4-7 .4 8.3.4-5 .4 2.1.4-4.4.4 5.1.4-1.1.4 2.3.4-1 .4 3.5.4-8.9.4 2.8.4-2.1.4 3.1.4 2.6.4 0 .4-3.8.4-2.1.4 3.7.4 1.5.4-5 .4 3.8.4-2.1.4 3 .4-2.7.4 4.3.4-3.9.4 1.6.4 7.6.4-17.9.4 9.4.4.4.4 1.3.4.2.4-.6.4-2 .4 1.1.4 1.8.4-5 .4 6.1.4-2.6.4 3.3.4-4 .4 2.1.4-1.7.4 2.9.4.6.4-4.1.4 3 .4-2 .4 1.9.4-2.7.4 0 .4 2.2.4 1.2.4-1.8.4.6.4-2.1.4 3.5.4-2.5.4-2.2.4 6.2.4-6.8.4 6.1.4-2.6.4.8.4 4.3.4-6.8.4-1 .4-.8.4 3.1.4 2.8.4-3.2.4.4.4.6.4-1.2.4 1.2.4-3.6.4-2.1.4 3.2.4.5.4 4.1.4-2 .4-3.3.4 5.7.4-1 .4-3.6.4 6.4.4-4.3.4-2.2.4 1.1.4 2.5.4-1.1.4-3.5.4 6.7.4-4.2.4-1.5.4 1.3.4 1 .4 3.5.4-.6.4-7.6.4 3.5.4.9.4.5.4 1.6.4-.6.4-4.2.4 6.7.4-2.3.4-6.1.4 6.8.4-1.8.4-3.9.4 3.5.4 1.2.4-1 .4-2.3.4 1.4.4-.3.4-.4.4 2.4.4-3.5.4 2.8.4.6.4 1.2.4-1.1.4-2 .4-.2.4-.5.4 5.4.4-5 .4-.9.4 1.1.4 2.8.4.4.4-5.9.4 6.3.4-2.7.4 4.3.4-.6.4-5 .4-.8.4 0 .4 1.4.4 1.7.4.1.4.2.4.5.4-2.2.4.5.4 1.1.4 1.8.4-3.3.4-1 .4 3.3.4-1.2.4.6.4-1.5.4 1.3.4-2 .4-.9.4 2.3.4-3.9.4 4.8.4 3.3.4-7.2.4.6.4 3 .4-3 .4 2.9.4-1.5.4-.7.4 2.9.4-3.2.4.1.4-2 .4 4.5.4-1.6.4-1 .4 3.1.4-2.1.4 2.9.4-.6.4-3 .4-.4.4 4.8.4-3.5.4-1.2.4 1.2.4-3.7.4 4.4.4-3.5.4 4.4.4-2.9.4 1.9.4 3.5.4-1 .4-3.6.4 1.7.4-3.6.4 3.5.4 2.2.4-.8.4.4.4-1.6.4-3.6.4 2.7.4-2.6.4 4.8.4-2.8.4-.6.4-1.2.4 3 .4.6.4-.3.4-4.7.4 4.9.4-2.4.4-4.2.4 7 .4-1.1.4-4.4.4 6 .4-.9.4 2.9.4-2.9.4-.8.4-4.3.4 9 .4-8.6.4 2.5.4 2.6.4-2.3.4-6.1.4 5.9.4-.3.4 3.5.4-2.8.4 3.8.4-1.1.4.2.4-.9.4 3.9.4-3 .4-.1.4-2.4.4-.9.4-2.4.4-1.5.4 1.9.4 4.8.4-3.7.4 1.3.4-.6.4 1.1.4 1.2.4 2.6.4-6.8.4 8.1.4-5.5.4-1.2.4.7.4 4.1.4-1.5.4 1.6.4-4.3.4 4.4.4-3.6.4 1.5.4-2.8.4.8.4-.6.4 3.7.4-.4.4-9.7.4 8.1.4 0 .4-3.4.4.3.4 5.5.4-3.5.4 2.9.4-.2.4-8.1.4 9.4.4-6.6.4 1.9.4 1 .4 1.4.4 0 .4-1.8.4.3.4 1.5.4 1.1.4-3.1.4 2.3.4-.2.4-2.7.4.7.4.5.4 5.9.4-4.8.4 1.3.4 0 .4-3.5.4 2.7.4-5 .4.5.4 4.4.4-2.1.4 1.7.4.9.4 3.5.4-5.3.4.5.4-5.6.4 8.6.4-3.3.4-1.3.4 3.6.4-2.1.4-1.8.4-.4.4 3.7.4.8.4-2.4.4-.3.4 5.6.4-6.2.4-1.5.4 4 .4-3.1.4-1.8.4 4.1.4-1.7.4 5.3.4-3.3.4 1.6.4.7.4-1.7.4 1.1.4-5.3.4.4.4 1.9.4 2.9.4-1.2.4.4.4.6.4-2.7.4-1.4.4-.2.4 5.5.4-7.6.4.6.4 4.2.4-3.4.4 3.8.4-3.4.4 1.8.4-2 .4 3.4.4-.4.4 2.9.4-2.2.4-.1.4-3.5.4 1.3.4-.7.4-2.9.4.8.4 2.9.4 1.2.4 3.4.4-6 .4-1.7.4 5.2.4-2.7.4-1 .4.8.4-4.5.4 5.4.4.6.4-.5.4-1.4.4 1 .4 3.1.4-4.8.4 7.2.4-5.1.4.7.4 6.4.4-6.3.4-1.6.4 1.6.4-3.8.4 6.4.4-3.1.4-.3.4-1.7.4 2.5.4 1.2.4-8.7.4 3 .4 4.9.4-2.8.4 1 .4-2.8.4.2.4 5.6.4-1.9.4.4.4-9 .4 7.9.4.4.4.1.4-2.8.4 3.9.4.4.4-3 .4-6.3.4 6 .4.5.4 1.1.4-3 .4 2.5.4-2.2.4.1.4-.5.4 1.5.4 1.5.4-1.2.4-5.1.4 4 .4-3 .4 1.1.4-7.9.4 8.1.4-3.2.4-.5.4.6.4-3.7.4.1.4-4.8.4 6.9.4-2.8.4 1.4.4.2.4-2.6.4 2.5.4-7.1.4 4.3.4 1.7.4-2.8.4 2.2.4-1.3.4 3.6.4.7.4-3.8.4 1 .4 2.2.4-.8.4 1.8.4-.4.4 1.5.4-2.7.4 3.8.4 2.2.4-4.8.4 4.3.4 0 .4 1.3.4-6.2.4 5 .4-.3.4 2.8.4.7.4-8.6.4 5.3.4 2.8.4.4.4.1.4-3.2.4 1.2.4 2.2.4 1.2.4-1.3.4-2.8.4-5.1.4 6.2.4.7.4.4.4 1.6.4.4.4 3.8.4-4.9.4 1 .4 3.1.4-1.7.4-3.8.4 3.3.4-4.8.4 5 .4.2.4-3.3.4 3.9.4-1.3.4-2.6.4 3.4.4-3.7.4 1.8.4-3.5.4 6.2.4-3.9.4-1.1.4 1.2.4 3.3.4 1.8.4-4.4.4-1.7.4 1.9.4-.3.4 1.4.4-1.7.4 1.1.4-5.6.4 1.6.4 2.5.4-2.6.4.7.4 4.7.4-2.5.4 0 .4-.1.4-1.1.4-.1.4.9.4 1.8.4-1.1.4.4.4 3 .4-2.6.4 1.6.4-1.1.4 1.3.4-4.6.4-.7.4 4.7.4-1.2.4 1.1.4-5.4.4 9.4.4-6 .4 5.3.4-6.1.4.1.4-4.5.4 6.5.4-1 .4-1 .4 2.3.4-2.8.4 3.5.4-.8.4-.3.4-2.2.4-.2.4 4.9.4-3.1.4.2.4-.3.4-.5.4-2.9.4 4.2.4-1.9.4-.9.4 4.9.4 3 .4-6.4.4 1.6.4-4.3.4 5.7.4-2.3.4 1.8.4.4.4-3.1.4 2.3.4-2 .4 1.1.4-.6.4-3.7.4 1.1.4-2 .4-.2.4 5.4.4 2.3.4-1.5.4-2.6.4 7.4.4-4.8.4 1.8.4-3.8.4 1.8.4-3.7.4 1.5.4-2.5.4 3.6.4-1.6.4-1.1.4 4.1.4-2.3.4.1.4 1.1.4-2.5.4 2 .4-.6.4-.6.4.8.4 2.1.4-1.3.4-1 .4-1.5.4 3.3.4 1.6.4-3.1.4-2.6.4 8.4.4-5.1.4 4.3.4-8.4.4.2.4 1.3.4.8.4-5.4.4 2.3.4 4.6.4-2.1.4 2.9.4-1.8.4-1.3.4 1.9.4.4.4-2.6.4 3.8.4-.3.4-.3.4-1.1.4.5.4.9.4.2.4-.8.4 3.9.4-2.3.4 2.3.4-.5.4-6 .4 8 .4-8.8.4 4.8.4-2.2.4.7.4 2.9.4 0 .4-1 .4-2.6.4 2.2.4-1.2.4 0 .4-1.8.4.8.4 3.3.4-3.9.4-.9.4 4.1.4-.2.4-1.7.4 4.2.4-2.7.4.2.4-7 .4 6.8.4 2.2.4-5.3.4 4.4.4-2.4.4-.2.4-.2.4-2.2.4-1.8.4.5.4 6.9.4-1.8.4-4.4.4 5.4.4-.5.4-1.8.4 2.3.4 0 .4-.6.4 1.9.4-4.4.4 2.3.4 3.4.4 1.1.4-4.2.4 3.5.4-4.7.4-2.3.4 5 .4 1.2.4-3.8.4 3.6.4-6 .4.8.4 1.2.4 1 .4.7.4.3.4 1.3.4-3.4.4.7.4 4.8.4-4.1.4 2.1.4-1.2.4-.5.4 1.4.4-3 .4 2.2.4 1.1.4-1 .4-1.2.4-.5.4.8.4 2.8.4-1.3.4-2.4.4 4.4.4-4.1.4 3 .4-2.2.4-3.1.4 2.9.4-.9.4.9.4.1.4-.8"/>
<path fill="none" stroke="#cc9900" stroke-width="10" stroke-linejoin="round" stroke-linecap="round" d="M132.5,445.1l.4-2.4.4 2.9.4-1.5.4-4.1.4 6.5.4-2.8.4 1.7.4 3.1.4-4 .4-3.5.4 1 .4 4.3.4-6.4.4 4.4.4.2.4-3.9.4 3.3.4 1 .4-3.5.4.8.4 2.6.4-4.8.4 1 .4 4.7.4-2.3.4-3.9.4 3.7.4 4.9.4-8.9.4 5.9.4-.1.4-2.5.4 2 .4-3.4.4 5.8.4.4.4-6.8.4 1.7.4.9.4-2.1.4 2.6.4-3.7.4 4.2.4-2.4.4.7.4 1.3.4 1.2.4-5.1.4 4.6.4.2.4-2.6.4 4.3.4-6.1.4.6.4 2.4.4-2.9.4 5.5.4-3.2.4 4 .4-7.4.4.2.4 6.1.4-6.4.4 5.6.4-5 .4 2.8.4 2.4.4-3.3.4-3 .4 1.8.4 4.3.4-2.6.4 1.4.4-1.7.4.5.4-1.3.4-2.3.4 4.2.4-1 .4-5.9.4 5.3.4 2.6.4 2.6.4-8.9.4 3.9.4 1.2.4.5.4-4 .4 3.3.4-2.6.4 1 .4-1.3.4 2.2.4-1.9.4 1.8.4-1 .4 2.6.4 2.1.4-4.8.4-1.8.4 1.3.4-.8.4-3.1.4 4.5.4-1.4.4 3.8.4-2.9.4 2.9.4-.5.4-3.5.4.5.4-.6.4.2.4 3.5.4-3.7.4.2.4-1.1.4 6.1.4-4.9.4.5.4-1.9.4 2.9.4-2.8.4.3.4-3.8.4 1.1.4 5 .4 1.5.4-6.7.4 5 .4.1.4 7.9.4-11.2.4.9.4-1.1.4 5.1.4.6.4-3.6.4 4.9.4 1.6.4-7.1.4 2.8.4-2.1.4-1.2.4.4.4.6.4-2.9.4 3.3.4 2.4.4-4.8.4 1.1.4-1.1.4 3.6.4-1.4.4 2.9.4-3.5.4-3.2.4 5.6.4-2.4.4 4 .4-1.2.4-9.4.4 1.8.4 5.6.4-2.2.4-4.2.4 4.8.4 5.1.4-1.9.4-4.3.4 3.3.4 2 .4-3.4.4 5.5.4-7 .4 7.9.4-1.6.4-2.9.4-.9.4-.5.4-2.8.4 5.4.4.8.4-1.4.4-1.4.4-.5.4-3 .4.7.4-2.2.4 5.4.4-3.9.4 4.9.4-4.3.4 5.9.4.4.4-.2.4-1.1.4-4.1.4-.1.4-1.2.4 3 .4 3.8.4-7.9.4 10 .4-8.6.4-1.7.4 4.2.4 2.1.4-4.1.4-2 .4 8 .4-8.2.4 5.9.4-2.4.4-1.6.4 1.2.4-3.3.4-.1.4 4 .4-3.9.4.8.4 6.3.4 1 .4-2 .4-.7.4-3.3.4.9.4-2.4.4-6.1.4 8.7.4 0 .4 2.2.4-6.4.4 6.8.4-5 .4-2.1.4 2.8.4 3.4.4-2.8.4 1.3.4-4 .4 4 .4 1.4.4-5.6.4 3.8.4-5.2.4 4.5.4-5.1.4 5.5.4-1.2.4-3.4.4 4.3.4-4 .4 3.1.4-3.1.4 4.3.4-3.4.4 5.9.4-3 .4.2.4-5.6.4-2.4.4 3.8.4 7.8.4-8.4.4 6.5.4 0 .4-5.6.4 1 .4 4.6.4-4.9.4-.5.4-.6.4 1.9.4-.6.4 4 .4-3.1.4 2.8.4-4.1.4 8 .4-8.2.4-.1.4-2.1.4-2.9.4 2.5.4 3.2.4-3.8.4 5.6.4-7.7.4-.3.4 6.1.4.2.4-4.9.4 6.9.4.8.4-3.3.4-5.2.4 7.9.4-5 .4.3.4 2 .4-3.8.4 6.9.4-6.9.4 5.3.4-1 .4 3.1.4-4.2.4 1.1.4-4.1.4.4.4-1.3.4 4.3.4-4.6.4 6.9.4-5.3.4-3.6.4 1.6.4 5.8.4-5.4.4 3.4.4-7.2.4 6.5.4 1 .4-.9.4.8.4-5.9.4-2.3.4 1 .4 7 .4-1.5.4 1.2.4-4.6.4 4.5.4-7.9.4 6.4.4-4.9.4 1.9.4 3.5.4.7.4-3.6.4-.7.4 5.6.4-1.1.4-5.9.4 3.2.4-1.8.4 3.9.4-1.8.4-.2.4-1.2.4-2.2.4 5.4.4-2.4.4-9.4.4 6.5.4 2.1.4-3.6.4-.7.4.9.4 3.2.4-4.5.4 4.4.4 3.3.4-1.5.4 0 .4-4.2.4 4.7.4-4.2.4 2.9.4-7.1.4 8.2.4-6.5.4 2 .4 3.5.4-3.8.4-1.8.4 1 .4 4.2.4 0 .4-1.7.4-4.7.4.7.4 3.6.4.2.4-5.3.4-.1.4 4.8.4 1.3.4-3.7.4-4.7.4 9.8.4-5.6.4 1.4.4-9.6.4 5 .4 1.8.4 1.6.4-4.4.4-2.6.4-.5.4 4.4.4 2.3.4-.3.4-7.3.4 3.5.4 2.1.4 3.9.4-1.8.4-1.2.4-7.3.4 10.1.4-4.5.4 1 .4-3.4.4 1.6.4-.7.4-.4.4-1.9.4 5.7.4.7.4-5.5.4-1.2.4-.1.4 1.8.4 6.3.4-6 .4 7.3.4-11.8.4.5.4 1 .4-.4.4 4.3.4 5.3.4-9.6.4 4 .4 3.6.4 4 .4-8.5.4 2.8.4 1.2.4-4.8.4 1.7.4-3.7.4-2.2.4 1 .4 6.6.4.6.4-4.3.4-5.9.4 9.4.4-4.9.4 5.7.4-5.6.4-5 .4 3.3.4-1.7.4 8.8.4-15.3.4 6.4.4 1 .4-7 .4 9.6.4.6.4.8.4-.2.4-3.8.4 4 .4-5.6.4 1.7.4.7.4-.8.4 1.7.4-4.9.4 2 .4-2 .4 2.5.4.9.4-4.5.4 8.8.4 1.8.4-5.7.4-2 .4-3.1.4 1.7.4-.4.4 3.6.4-3 .4 2.7.4-.7.4-4.5.4-3.6.4.4.4.3.4 4.1.4 4.8.4-8.8.4 6.3.4-3.6.4 5.8.4 3.9.4-5.1.4-3.2.4.6.4 3.2.4-6.9.4-2.3.4 3.9.4 5.8.4-9.9.4 7.5.4-1.2.4-4.8.4-2.7.4-3.8.4 1.9.4 5.4.4 2.3.4-6.1.4 0 .4-1 .4 13.6.4-16.7.4-.6.4 10.8.4-9.6.4 8.9.4-8.2.4 7.9.4 1.4.4-8.3.4 1.8.4-4.5.4 8 .4-5.4.4-3 .4 5.9.4-.5.4-2 .4-1.9.4 6 .4-7.4.4-1.1.4 2.6.4 3.3.4-4.3.4-1.3.4-1.9.4.8.4.4.4 11.9.4-17.3.4 5.9.4 2.2.4-4.5.4-1.6.4 7.8.4 3.7.4-1.4.4-5.1.4-2.3.4 4.9.4-10.7.4 3.6.4 10.4.4-4.9.4-1.3.4-1.7.4-1.1.4-2.2.4 6.4.4-.4.4 0 .4-13.9.4 17.2.4-2 .4 3.2.4-10.1.4-7.6.4 4 .4 1.9.4 13.4.4-13 .4 1.3.4 6.8.4-.5.4.3.4-6.8.4 10.9.4-7 .4-5.9.4 5.9.4-8.6.4.7.4 2.6.4-2.4.4 3.3.4-.8.4.9.4-1.9.4 9.4.4-10 .4 2.2.4-1.8.4 1.5.4-3.3.4 16 .4-11.2.4 5.2.4-5.6.4-4.3.4 3.7.4-.8.4-2.5.4 6.3.4 7.1.4-6.7.4 4.1.4 1.2.4-15.1.4 18 .4-15 .4 14.8.4-7.6.4 1.9.4 7.6.4-5.4.4-12.4.4-.9.4 2.9.4 10.4.4-3.2.4 2.8.4-2.2.4 3.7.4-10.5.4-3.7.4 5.5.4 7 .4-8.5.4-6.1.4 8.4.4 5.8.4-1.2.4-3.5.4-.7.4-7.4.4 9.7.4 9 .4-11.1.4 9.9.4-13.3.4 3.9.4-.3.4 2.2.4-8.2.4 13.8.4-7 .4-8.4.4 13 .4-2.3.4-6.5.4 5.5.4 4.3.4-.4.4-1.5.4-4.5.4 4.5.4 4.7.4 4.2.4-7 .4 1 .4.8.4-5.5.4-6.8.4 5.5.4 1.7.4 1.9.4-1.1.4-3.5.4.7.4 1.3.4-3 .4.2.4-4.2.4 6.2.4 2 .4-3.5.4 1.8.4 1.6.4-5.4.4 2.1.4-1.2.4 6.3.4-7.1.4 5.3.4-9.2.4 17.2.4-5.3.4-6 .4 3.5.4 9 .4-7.9.4-7 .4 6.7.4-1.9.4 4.7.4-1.3.4-7.8.4 8.4.4 3.5.4 2.1.4-4.5.4 6.9.4-1.7.4-2.9.4 3.6.4-18.1.4 17 .4 1 .4-6.8.4 4.2.4-6.5.4 2.3.4 0 .4-3.8.4 3.8.4-6.8.4 7.3.4 8.3.4.9.4-8.4.4 8 .4-5.8.4-7.4.4 3 .4 2.6.4.3.4 3 .4-5.9.4 1.4.4 6.5.4-3.8.4 1.3.4-1.9.4 3.4.4.4.4-6.6.4 8.5.4-7.7.4 4.4.4-2.7.4 4.3.4-1.6.4 1.4.4-1.8.4-1 .4 1.5.4-.9.4-3.4.4-3.1.4 9.1.4 3.4.4-9.6.4 6.4.4-4.7.4 3.5.4 3.1.4-2.2.4-2.5.4-7.2.4 7.5.4.9.4 5.4.4-8.2.4 2.7.4 1.3.4 4.6.4-10.3.4 8.6.4-3.8.4-2.4.4-2.9.4 1.8.4 7.7.4-5.6.4-1.8.4 2.4.4 7.4.4-1.4.4-.6.4.7.4-.7.4-5 .4-2.8.4 9.9.4-5.7.4 1.2.4-2.4.4 4.1.4 3.6.4-7.3.4 2.4.4-.3.4 2.6.4-2.7.4.3.4-2.6.4 2.7.4-3.1.4 6.1.4-3.5.4 7.5.4-9.6.4-1.4.4 8.1.4-1.1.4-8.2.4 16.5.4-11.4.4 5.4.4-6.2.4 4.5.4 1.8.4-6.5.4 3.5.4 2.2.4 5 .4-4.3.4 1.8.4-3.3.4.5.4-.4.4-3.1.4-6.7.4.7.4 8.4.4.6.4-1.7.4-2.6.4.4.4-3.1.4 10 .4-11.6.4 13.6.4-8.4.4 12.2.4-8.3.4-3.3.4 1.9.4-2.4.4 8.2.4-6.3.4 1.1.4-4.4.4 5.9.4-8.3.4 3.3.4 7.9.4-13.4.4 9.6.4 3.6.4-4.2.4 5.5.4-.8.4-3 .4-8.4.4 4.6.4.6.4 5.4.4-4.4.4-.7.4-4 .4 4.4.4 1.7.4-10.7.4 9.6.4 1.8.4-2.5.4.5.4-1.7.4 5.9.4-5.7.4 7 .4-3.3.4-9 .4 6.5.4 2.4.4 2.3.4-2.9.4-.9.4 3.8.4 3.1.4-13.4.4 4.7.4 9.3.4-5.5.4-5 .4 10.8.4 1 .4-8.6.4 3.9.4-2.8.4 1.4.4 2.5.4-4.9.4.8.4-.8.4-5.6.4 8.7.4 1.5.4-2.6.4-.4.4 3 .4-5.9.4-1.3.4 6 .4-1.2.4 6.3.4-12.4.4 5.5.4-4.6.4 13.2.4-9.9.4 4.7.4-11.7.4 5 .4 6.8.4-4.5.4-.8.4 5.1.4-2.1.4.1.4.6.4-2.9.4 7.9.4-2 .4-4.4.4-.8.4-5.7.4 2.8.4 9.6.4-9.7.4 3 .4 8.1.4-2.2.4-2.8.4.3.4-2.8.4 2 .4-.5.4 5 .4-2.1.4-5.7.4 8.3.4-2.1.4 1.1.4.6.4-1.7.4-2.2.4 4.3.4-.5.4-5.3.4.4.4 1.6.4 1.1.4-2.1.4-5.1.4 9.8.4-7 .4-1.8.4 1.2.4 3.4.4-1 .4-7.9.4 2.9.4-.2.4 3.2.4 3.4.4-3 .4 10 .4-4.1.4 2.3.4-2.7.4-7.5.4 6.6.4-7.3.4 1.9.4 4.6.4-.6.4 2.3.4-3.3.4 5.1.4-.9.4-1.7.4-4 .4.6.4 6.2.4 6.9.4-12.5.4 2.5.4-3.9.4-5.9.4 11.5.4-1.6.4 1.9.4-4.9.4-.7.4 8.7.4-9 .4 6.1.4 1 .4-3.6.4-2 .4 3 .4-7.5.4 5.6.4-.3.4-3.9.4 4.2.4 4.5.4 5.3.4-12.7.4 5.8.4 0 .4-2.6.4-1 .4 4 .4.9.4-8 .4 11 .4-6.2.4 1 .4-2.5.4 6.7.4-9.4.4 3.1.4 2.3.4-3.8.4 2.5.4 2.8.4 2.5.4-5 .4-1 .4 3.4.4-1.2.4-4.2.4 7 .4-4.2.4-2.2.4 6.9.4-1.5.4-4.9.4 5.4.4-5 .4.5.4-1.6.4 6.8.4-3.6.4 2.7.4-6.9.4 3.2.4-4.6.4 3.8.4.9.4.7.4-4.9.4 9.5.4-9.8.4 10.4.4-4.8.4 4.3.4-7.5.4 4.2.4 1.7.4 5.9.4-6.4.4 5 .4-5 .4 3.9.4-5 .4.4.4 3.2.4-7.9.4-1.2.4 6.6.4 7.1.4-2.4.4-4.9.4 2 .4-1.4.4.7.4 3.8.4-9.3.4-.1.4-2.7.4 3.9.4 6.9.4-4 .4-4.4.4 2.4.4.6.4 5.5.4-1.9.4-.3.4 3 .4-2.4.4 2.1.4-6.8.4-.5.4 2.1.4 8.7.4-11.4.4 4.8.4 1.2.4-5.3.4-1 .4 11.9.4-7.9.4-.8.4 2.7.4-1 .4-5.5.4-1.1.4 5.5.4-2.1.4 2.7.4-4.1.4 13.5.4-7.5.4 5.6.4-8.9.4 1.5.4-1.3.4 2.1.4 1.4.4-3.4.4-1.9.4 1.3.4 1.8.4 3.6.4-8.5.4 2.7.4 4.2.4 3.4.4-6.4.4 2.7.4-1.8.4-.2.4 1.4.4-2.4.4 1.1.4-.2.4 6.6.4-5.6.4 6 .4-6.3.4 1 .4-3.5.4 3.7.4 4.3.4.7.4-9.4.4 12.5.4-7.5.4.7.4 1.7.4-3.3.4-3.2.4 3.3.4-1.5.4 8.1.4-6.6.4-8 .4 12.6.4-2.6.4-2.2.4-6.4.4 18.1.4-12.7.4 0 .4-.8.4 2.7.4-.9.4 1.4.4.6.4-1.6.4 3.9.4-7.5.4 6.9.4-1.9.4-1.2.4 2.5.4-1.6.4-.2.4-2.3.4-1.3.4-2.3.4.9.4 2.1.4 5 .4-3.6.4 1.3.4-4.2.4-1.6.4 5.6.4 7.8.4-12 .4 8.5.4-8.7.4-.1.4.9.4.2.4 5.9.4-2.3.4-.4.4-2.1.4 5 .4 3.2.4-5.3.4-2.3.4-2.3.4 2.5.4-3.2.4 9 .4-7.3.4 6.7.4-8.2.4 7.2.4-.9.4.6.4-1.5.4-4.7.4 13 .4-14.3.4 8.7.4-4.5.4-3.2.4 6.6.4 2.2.4-1.4.4-8.3.4 2.1.4 4.5.4-.6.4 1.8.4-4 .4-5.5.4 1.8.4 5.2.4-4.7.4-1.2.4 6.9.4 2.6.4-7.1.4 1.6.4.3.4 3.6.4-4.2.4 0 .4.7.4-4.1.4 8.9.4.8.4-5.3.4.3.4.3.4-.7.4-2.7.4 4.9.4.2.4 1 .4-7 .4 4 .4-5.3.4 11.1.4-11.8.4 4.8.4 5.9.4-11.6.4 6.5.4-6.4.4 9.2.4-4.6.4-.8.4-1.3.4 5.2.4-1.4.4 2 .4.4.4-4.9.4 3 .4 3.6.4-2.8.4-.3.4-1 .4-2 .4 1.7.4-.3.4 8.9.4-9.7.4-2.6.4 4.8.4-2.1.4-1.4.4 5 .4-3.5.4-2.2.4 4.8.4 4.9.4-2.3.4-3.8.4.2.4-1.2.4 2.6.4-3.3.4 2 .4-1.9.4 1.3.4-7.8.4 7 .4-2 .4.8.4 2.5.4-5.9.4 1.4.4 3.7.4-.5.4 3.1.4-2.1.4-7 .4 7.2.4-2 .4 1 .4 3.1.4-3.2.4-1.2.4-5 .4 4.2.4 4.4.4-1 .4-6.3.4-.6.4 3.6.4 2.9.4-4.2.4 7.4.4 2.7.4-11.5.4 11.2.4-.4.4-14.2.4 1.4.4 5.3.4.5.4-3.1.4 3 .4 2.8.4-6 .4-4.9.4 6.9.4 4 .4 2.4.4-1.5.4-13.7.4 5.6.4 3.8.4-2.7.4 5 .4-.3.4 1.5.4 1.9.4-7 .4 8.2.4-11.3.4 1.1.4-.1.4.6.4 5.5.4 3.6.4-11.4.4 7.8.4 1.6.4-3.4.4-8.4.4 8.7.4 1.4.4-9.8.4 4.4.4 5.2.4-2.8.4 2.5.4.1.4-9.5.4-.3.4 7 .4-5 .4 3.6.4-1.8.4-5.6.4 5.5.4-2.6.4-4.6.4-.4.4-1 .4 2.4.4 1.7.4-1.9.4-2.9.4-4.5.4 5.3.4-.5.4-1.6.4-.3.4 9.3.4.6.4-9.6.4 9.3.4-1.3.4 5.8.4-8.5.4 7.1.4-4.7.4 1.8.4 2.2.4 3.1.4-2.3.4-5.5.4 8.9.4-2.6.4-.4.4-4.9.4 4.8.4 5.9.4.6.4-2.5.4-4.6.4 6 .4-5.5.4 5.9.4-4.5.4-3.3.4 7 .4-.7.4.1.4-3.7.4-.5.4 7.7.4-4 .4 5.9.4.1.4-9.4.4 2.6.4-8.8.4 9.9.4-2 .4 3.1.4-1.9.4-.6.4-.9.4.2.4 6.9.4-1.9.4 5.3.4-4.6.4-4.1.4-.3.4 7.4.4-12.1.4 6.9.4-.9.4-6.6.4 11.1.4-3.7.4-.8.4-2.1.4 2.8.4-.3.4 4 .4-4.6.4 9.6.4-10.4.4 2.6.4-2.7.4 5.2.4-4.3.4 6.4.4-1.4.4-2 .4-7.2.4 5.7.4-.2.4 2.4.4-7 .4 7.1.4.2.4-2.6.4 1.2.4-2.7.4 5 .4-7.4.4 1.8.4 11.2.4-9.1.4.1.4-3 .4 2.3.4 1.8.4-4.9.4-.9.4 3.5.4 7 .4-6.5.4 10 .4-4.7.4-2 .4-3.8.4 3.4.4 8.5.4-14.9.4 6 .4 4.5.4-2.4.4-3 .4-1.9.4 4.7.4-9.3.4 12.3.4-9.2.4-4 .4 5.8.4.5.4-.7.4-4.5.4 3 .4 5.2.4-1.3.4 2.7.4-3.4.4-4.3.4 2.7.4 1.3.4.5.4.3.4-.1.4 1.4.4.2.4-5.3.4 6.7.4-1.7.4-3.5.4 1.9.4-1.4.4 1.4.4-7.2.4-.1.4 9.4.4-4.2.4 6 .4.5.4-4.1.4 5.5.4-9.7.4 3.9.4-5.1.4 5.1.4 3.2.4-3.3.4.5.4-4.5.4 4.2.4-3.6.4 3.1.4-2.9.4 5.6.4-1.1.4-.7.4 1.4.4 1.5.4-4.3.4-2.5.4.2.4 7.8.4-4.5.4-5.1.4.1.4 7.7.4-5.1.4 6.8.4-.8.4-6.2.4-.2.4-2.3.4 5.7.4-7.5.4 6.2.4-2.9.4 6.4.4-6.6.4-1.5.4 4.6.4-5.7.4 5.7.4-3.6.4-1.1.4.8.4.1.4-3.5.4 6.1.4-2.4.4-2 .4 6.4.4-3.8.4 4.7.4-11.9.4 10.6.4-4.4.4 5.1.4-5.7.4-2.2.4-.8.4 3.2.4-7.1.4 3.8.4-2.6.4 10.9.4-6.7.4-3.2.4-9.8.4 9 .4-2.5.4 1 .4-.6.4-3.6.4-3.1.4 2.2.4-.9.4-1.3.4-1.7.4-.4.4-6.5.4 3.3.4-7.1.4-1.1.4-5.6.4-1.3.4.4.4-8.1.4-5.9.4-5.2.4-7.7.4-7.6.4-8.2.4 2.4.4-3.2.4-3.1.4-11.5.4 2.3.4 4.2.4-1.5.4 6.6.4 4.5.4-3 .4 12.4.4 2.1.4 4 .4 8.1.4 1.9.4 1.4.4 13 .4 3.2.4 3.8.4 2.2.4-2.2.4 7.6.4 8.2.4-2 .4.9.4 2.5.4.1.4 2.3.4 1.2.4-1.2.4 2.6.4 1.4.4 1.1.4 9 .4-8.9.4-2.3.4 4.3.4-4.9.4 12.4.4-7.6.4 1.9.4 1.6.4 2.8.4-4.6.4 3.4.4-1.6.4.9.4 2.4.4-3.9.4 7.3.4-5 .4 3.6.4-4.7.4 2 .4-2.3.4 5.3.4-2.4.4-2 .4-1.2.4 11.1.4-5.6.4 1 .4 2 .4-2.3.4 2.9.4-4.5.4 1.4.4 4.9.4-9.5.4 4.6.4-2.6.4 7.4.4-6.2.4 1.7.4-.2.4-3.1.4 1.8.4-1 .4 5.3.4-5.2.4 6.1.4-2.5.4 1.7.4 1.8.4-1.3.4-1.5.4-3.5.4 1.7.4.9.4 2.3.4-2.4.4-.8.4 7 .4-4.5.4.2.4-4 .4.6.4.2.4-1.6.4 3.2.4.9.4-3.2.4.7.4 5 .4-8.4.4 4.7.4 5.4.4-2 .4-.5.4 3.6.4-1.1.4-2 .4-4.5.4-2.1.4 1.5.4 6.8.4-6.2.4.6.4 5.1.4-4.5.4 2.2.4-5.6.4 2.6.4-.1.4-.3.4-2.9.4 2.5.4 5.5.4-2.2.4 2.1.4-4.8.4 8.3.4-7.9.4.9.4 2.6.4-2.9.4 2.2.4 4.4.4-3.2.4-2.9.4 5.4.4-5.7.4.5.4 2.4.4.2.4-7.8.4 7.8.4-2.7.4-2.5.4 0 .4.2.4-1.5.4 8 .4 1.5.4-4.7.4.4.4.2.4 3.7.4-2.3.4 4.3.4-3.9.4 3.1.4-9.5.4 1.8.4 3.6.4-1.1.4-2 .4-.9.4-1.2.4 4.9.4-1.2.4 3.6.4-4.2.4 2 .4 1.7.4.8.4-4.1.4 1.6.4 5.8.4-13 .4 8.4.4 0 .4-1.9.4-4.8.4 5.5.4-2 .4.7.4-1.1.4-1 .4 3.4.4-4 .4 6.7.4-2.1.4-1.9.4 1.8.4 2.5.4-3.6.4 3.8.4 5.6.4-7.6.4 1.1.4-3.3.4 1.9.4-2.5.4 7.3.4-7.3.4 4.1.4-3.9.4 2.2.4-3.2.4-.5.4 7.5.4-.9.4-2.6.4-1.8.4.6.4-3.1.4 4.1.4 3.9.4-7 .4 10.1.4-6.7.4 4.1.4-3.1.4-5.3.4-.6.4 8.7.4-.7.4-6.8.4 9.6.4-7.1.4 11 .4-11.9.4 4.5.4-2.9.4-2.8.4 4.7.4-5 .4-.7.4 2.8.4-4.4.4.3.4 3.3.4 1.9.4 2.2.4 1.4.4-4.5.4 5.8.4-4.2.4-1.5.4 3.8.4 1 .4-4.2.4-1.5.4 2.8.4-1.5.4-4.2.4 4.2.4-.1.4.6.4 1 .4 2.7.4-6.8.4 3.3.4 2 .4-10.1.4 11.7.4-3.4.4 8.3.4-6.2.4-5.5.4 3.2.4-1.2.4 2.3.4-6.2.4 5.6.4-1.8.4.1.4 2.3.4-1 .4 5.9.4-5.3.4 1.4.4-4.4.4-.2.4 7.1.4-6.7.4-2.1.4-.1.4 1.1.4-.8.4 1 .4 6.5.4-4.7.4 2.4.4 4.9.4-8.7.4.1.4-3.5.4 8.9.4-2.4.4-6.9.4 9.8.4-1 .4-11.8.4 4.7.4 6.4.4-6.1.4 2.4.4 2.8.4-1 .4-2.8.4 3.9.4 2.2.4-5.3.4 9.7.4-6.5.4-.7.4-5.3.4.7.4.3.4 5.6.4-6.3.4 7.3.4-1.1.4-5.2.4 1.6.4 5.1.4-7.7.4-4.5.4 4.7.4 2.6.4 2.3.4-1.6.4 6.3.4-4.9.4-2.5.4 2.4.4-.2.4-3.6.4 1.5.4-1.1.4-1.9.4-1.3.4-4.2.4 2.3.4-3.3.4 4.3.4-3 .4-5 .4 2.1.4-1.8.4-4.8.4 1.1.4 1.2.4 3 .4-6 .4.5.4 1.6.4-1.6.4-3.6.4 1.2.4-2.7.4-.2.4 1.7.4 1.4.4 3.7.4.2.4 2.1.4-6.7.4 5.2.4 2.1.4-2.3.4-2.3.4 9.8.4 6.3.4-8.9.4 4.5.4 6.2.4-5.5.4.4.4-2.3.4 3.7.4 3.6.4.9.4-3.5.4 4.2.4-6.5.4 2.5.4 2.7.4.3.4 2.5.4-3.6.4-5.7.4 10.5.4 2.7.4-4.6.4-2.2.4-.7.4 1.9.4-4.6.4 4.9.4-1.5.4-3.6.4 5.2.4 1.3.4 4.1.4-5.4.4 5 .4-6.7.4.6.4 2.5.4-3.4.4 2.8.4-2.9.4-.1.4 1.1.4 3.7.4-2.1.4-1.5.4 6.6.4-5.1.4 2.6.4-1.1.4 1.6.4-2.6.4-1.8.4 3.1.4.3.4.8.4-.4.4-.1.4-4.4.4 6.2.4.1.4-3.3.4 1.3.4-.4.4 4.1.4-9 .4 4 .4 2.8.4-6.7.4 3 .4 7.2.4-9.2.4 3.8.4-2.4.4 2.2.4-1.9.4 2.8.4-4.8.4 9.5.4-3.9.4 0 .4-2.3.4 2 .4-1.3.4 2.4.4-2.7.4 0 .4 5.3.4-.9.4 1.8.4-2.1.4-7.9.4 6.6.4 1.1.4-1.6.4 2.3.4.1.4-2.2.4.7.4-1.6.4 4.2.4-8 .4-.2.4 7.1.4-7.8.4 6.2.4-1 .4 3.5.4-6.5.4-.1.4 2.5.4 0 .4-2 .4-.4.4 2.8.4 2.3.4-8.6.4 9 .4-1.2.4-2.9.4-1.6.4 1 .4-4 .4 6.1.4-.2.4-.2.4 1.1.4-4.6.4 6.3.4-3.1.4.7.4.7.4 0 .4 1.5.4-1.6.4 0 .4-3.1.4 1 .4-3 .4 5 .4-1.5.4.7.4 2 .4-2.8.4 5.1.4-7.5.4 7.7.4-1 .4-4.2.4 2.2.4 1.7.4-4.5.4 2.5.4 2 .4-1.3.4-2.5.4-3.2.4 6.3.4.2.4 2.6.4-2.3.4-6.1.4.6.4-1.3.4 6 .4-2.4.4 1 .4-2.1.4-3.2.4 5.4.4-5.6.4-1 .4 2.9.4 4.1.4 2.7.4-2.8.4-.4.4 1 .4 1.2.4 1 .4-5.9.4.7.4 10.6.4-12.6.4-2.7.4 4.8.4.2.4-.9.4 7.4.4-1.7.4-5.6.4 9.8.4-8.3.4 1.8.4-2.8.4-.3.4 4.1.4 3.1.4-2.5.4-1.7.4-.7.4 4.6.4-8.1.4 3.4.4-1.9.4 2 .4-.2.4-1.3.4-1.1.4 4.4.4 5.2.4-5.1.4-1.4.4-1.9.4 4.1.4-.5.4 4.6.4-6.5.4 5.4.4-7 .4 3.8.4.9.4-3.6.4-3.6.4 5.6.4.5.4 2.6.4-.3.4 2 .4-7.8.4 7.3.4-3.3.4 1 .4-8 .4 7 .4-1.1.4.1.4 7.2.4-9.5.4.8.4 1.9.4.2.4-4.2.4-.2.4 3.3.4-3.4.4 5.2.4-3.2.4-2.7.4 6.1.4-.5.4.3.4-1.4.4 1.3.4-2.6.4-3.9.4 3.9.4.2.4-.5.4 2 .4 4.1.4-2.4.4-1 .4.5.4-4.6.4 8.5.4-5.2.4 3.3.4-.7.4 0 .4 2 .4-4.9.4 2.7.4-3.2.4.4.4-5.9.4 6.2.4-.5.4 1.1.4-3.5.4-.6.4 4.1.4-1.6.4 2.1.4-4.4.4-1.4.4 5.6.4-.4.4-.2.4.5.4-.6.4-.9.4-2.2.4 3.1.4-.9.4-.7.4-3 .4 2.6.4 2.8.4.5.4-6 .4 6.7.4-4.3.4 4.6.4-3.3.4-2.4.4 5.7.4-6.9.4 5.1.4-1.1.4 1.4.4.4.4-.7.4 2.4.4-7.8.4 6.7.4 1.5.4-7.8.4.1.4 2.3.4-1.4.4 5.8.4-1.1.4-3.5.4.5.4 6.2.4-6.3.4-.5.4 7.5.4-1.9.4-4.5.4 2.9.4-6.4.4 7.3.4 5.5.4-9.4.4 3.2.4-2.3.4-2.3.4 2.2.4-1 .4-2.3.4 3.8.4.8.4.7.4-.4.4-.2.4-.6.4-1.3.4-2.9.4 3.9.4-1.3.4-2.7.4 3.8.4 1.9.4 2.4.4-6.6.4 5.9.4-5.4.4 2.5.4 3 .4-3.6.4-1 .4-1.8.4 5.8.4-5.4.4 2.9.4-.8.4 1.5.4 2.8.4-2.5.4 4.4.4-.9.4-5.3.4-3.2.4 2.7.4-.1.4 4.8.4-4 .4 1.7.4-5.9.4 5.8.4 3 .4-4.3.4-2.6.4 1.8.4 1.1.4-.3.4-.1.4.8.4-3.2.4 1.6.4-.3.4 0 .4-4.1.4 5.2.4.8.4-4.7.4 7.9.4-5.1.4.3.4 1.8.4-1.3.4 2.5.4.3.4-9.1.4 6.1.4 2.6.4-1 .4.8.4-1.8.4-1.4.4-2.5.4 8.3.4-3.9.4-.3.4.3.4-1 .4.6.4 2.8.4-1.9.4-4.8.4 3.3.4-1 .4 1.2.4-.5.4 4.4.4-7.3.4 5 .4-.2.4-3.1.4-2.7.4 4.2.4-4.3.4 7.8.4-1.7.4-8.4.4 6.9.4-1.5.4-1.1.4-.2.4 6.8.4-6.9.4.4.4 5.1.4-3.3.4-4.3.4 12.6.4-6.9.4-3.5.4 10.1.4-6.3.4-.4.4-1.8.4 3.2.4-.9.4-.5.4 2.9.4-3.9.4-2.1.4-.8.4 5.3.4-1.1.4-2.3.4 4.3.4-1.2.4-3.6.4-2.2.4 2.4.4-1.7.4 2.8.4 1.2.4.6.4-7.6.4 4.6.4 2.6.4.3.4-.8.4-1.8.4 1.3.4 2.8.4-3.7.4-1.1.4 3.7.4.4.4-5.2.4 1.3.4-2.1.4 3.5.4 1.4.4-1.7.4-2 .4-.1.4 2.9.4 2.3.4-1.9.4-.3.4 3.6.4-4.4.4-.1.4-1.9.4 6.4.4-.9.4-3 .4.9.4-3.8.4 1 .4 2.5.4 1.3.4-8.5.4 10.7.4-1.9.4-5.3.4 3.9.4-2 .4-.6.4.3.4 0 .4 1.8.4.3.4 2.2.4-3.2.4-1.7.4 2.6.4.9.4-1 .4 3.2.4-4.3.4-2.8.4 5.2.4.2.4-1.9.4.3.4-3.2.4 2.5.4 1 .4-1 .4-3.3.4 4 .4-2.7.4 3.3.4-.5.4 1.4.4-4.2.4 2.9.4.5.4-.5.4 2.6.4-5.9.4 5 .4.6.4-2.7.4-2.8.4 2.5.4.3.4.3.4 2.6.4-1.3.4-5.8.4 6.8.4-7.6.4 2.9.4-2.8.4 5.8.4-2.5.4 4.4.4-4.9.4 2.4.4 3.7.4-5 .4 4.2.4-2.4.4-.6.4-4 .4 3.7.4 4.8.4-4.9.4 1.4.4 2.7.4-5.7.4 2 .4.1.4-2 .4 3.2.4 2 .4-2 .4-1.6.4.6.4-5.1.4 5.8.4-4 .4 5.6.4-5 .4 4.8.4-4.2.4.1.4-3.1.4 5.4.4-.1.4 2 .4-5.1.4-2.2.4 6.8.4-9.6.4 4.2.4 5.4.4-2.9.4-3.2.4 2.9.4 4.4.4-4.1.4-.6.4 4.1.4-4.7.4 2.1.4 3.1.4-8.1.4 2.5.4 4.1.4-2.2.4 5.1.4-5.2.4.6.4-4.2.4.9.4 7.1.4-6.1.4 2.6.4-1.5.4 7.3.4-11 .4 6.1.4-1.6.4-2.9.4 2.1.4 2.5.4 6.2.4-4.1.4-2 .4-1 .4-4.6.4.1.4 5.3.4-5.6.4 7.4.4-1.6.4 2.5.4-3 .4-3.4.4 5.8.4-6.1.4 2.9.4-.6.4-1.7.4 1.8.4.6.4-2.5.4 6.5.4-5.5.4.2.4 2.5.4-2.2.4.6.4.7.4-5.3.4 9.9.4-8 .4-1.9.4 5.7.4.2.4-.6.4-2.9.4-.2.4 2.6.4-.3.4 3 .4-2.9.4 1.7.4-1.7.4-4.8.4 2.5.4 6.6.4-3.4.4 2.8.4-3.4.4-.1.4-1.3.4 4.6.4 1.2.4-6.7.4 3.2.4-2.8.4 2.5.4-4.5.4.3.4 5.3.4-.9.4-.8.4 4.2.4-6 .4 1.6.4 3.9.4-3.5.4-1.4.4 4.1.4-3.1.4-.5.4-2.4.4-.8.4-.4.4 1.8.4 1.8.4 1.8.4-4.9.4 4.6.4 3.2.4.2.4-5.4.4 8.9.4-5.2.4.8.4 1.8.4-7.4.4 1.6.4 1.2.4.9.4-3.9.4 5.5.4-4.1.4 2.5.4 1 .4-3.6.4 5.7.4-6.2.4-3.5.4 8.9.4-3.3.4-4.2.4 3.5.4 1.9.4-1.4.4 2.3.4-4.4.4 2.6.4-1.3.4.2.4 1.9.4 2 .4-3.5.4-.5.4 3.1.4-1.3.4-6.8.4 5.7.4-1.1.4-1.3.4 1 .4-.2.4 7.1.4-6.8.4.4.4-4.1.4 4.5.4 2.8.4-3.8.4 3.1.4-.6.4-.9.4 7.8.4-9.8.4 3 .4-4.3.4 6 .4-4.3.4.3.4 3.5.4-3.8.4 4.2.4-7.3.4 7.2.4-4.3.4-3.5.4 8.4.4 1.9.4-3.5.4 3.5.4-2.1.4-4.5.4 6.5.4-4.7.4 3.4.4-2 .4-3.1.4 1.1.4-2 .4 4.4.4-5 .4 9 .4-5 .4-4.5.4 4.8.4-3.6.4 6.7.4-2.5.4-4 .4 6.5.4-1 .4-1.2.4-4.5.4.5.4 9.1.4-11.1.4 5.5.4-.2.4-3.9.4-.6.4-.6.4 7.3.4-5.3.4 5 .4-.8.4-1.5.4-1.1.4-.4.4 2 .4-2.1.4-2.1.4 2.8.4 5.7.4-1.1.4-5.1.4-3 .4 1.2.4.8.4 3 .4-.7.4 2.9.4 1.9.4-5 .4 3.2.4-1.7.4-3.2.4.8.4-1.1.4-2.7.4 7.6.4.4.4-1.1.4-2.3.4 1.1.4.6.4-.6.4-1.5.4.9.4.2.4 2.5.4.4.4-5.9.4 10 .4-5.4.4-3.3.4-2.2.4 5.2.4 1.7.4-5 .4 1.2.4 5.5.4-1.9.4-.7.4-.2.4 3.8.4-6.7.4 2.2.4-2.3.4-1.6.4-1.2.4 2.5.4-.4.4.5.4 3.1.4-2.8.4-1.1.4 1.2.4-.4.4.9.4 3.9.4-4.4.4 1.5.4-.8.4-1.1.4 2.6.4.2.4-1.2.4 2.1.4-1.7.4 2.3.4-4 .4 3.4.4-.6.4-1.9.4-.9.4-.6.4-.7.4 1.2.4.2.4.4.4 6.2.4-5.8.4-2.1.4 6.2.4-1 .4-4.3.4 3.7.4-1.1.4 1.5.4-3.5.4 1.6.4-1 .4-1 .4 1.5.4 3.8.4-4.5.4-1 .4 0 .4 3.3.4-2 .4-2.9.4.1.4 2.1.4 3 .4 1.8.4-.9.4-3.1.4 1.4.4 1.7.4-4 .4-7.3.4 12.8.4-1.2.4-1.7.4 2.1.4-1.3.4-3.8.4-1.5.4 2.5.4-2 .4 1.4.4 3.3.4-5.6.4 3.2.4 5.7.4-5.3.4-3.7.4 4.3.4-1.3.4 3.4.4-4.1.4 5.3.4-.9.4 2 .4-3.8.4 2.9.4-9.6.4 2 .4 4 .4-.9.4-1.3.4 2.5.4 0 .4.6.4-6 .4 6.6.4-.7.4-2.4.4-1.2.4 3.7.4-2.1.4-.2.4 2.9.4 1.9.4-4.4.4-1.3.4 1.6.4-1.3.4-2.7.4 5.7.4-1 .4-3.6.4 1.7.4.4.4-2 .4 5.2.4-1.7.4-4 .4-1.6.4 9.8.4-10.9.4 8.3.4-1.1.4.5.4-4.5.4 2.2.4-.3.4 5.4.4-3.9.4-4.6.4 5.3.4 1.3.4.3.4-3.7.4 1.1.4-2.1.4 1.5.4 1.7.4.3.4-6 .4 4.8.4.9.4-.4.4-7.9.4 6.1.4 3.8.4 1.6.4-4.3.4.1.4-3.5.4 2.2.4.7.4 5.5.4-11.6.4 9.5.4-.2.4.3.4-5.9.4 3 .4-.9.4 1.7.4-2.3.4-.8.4 0 .4-1.2.4 6.4.4-5.9.4.4.4 4.7.4-3.3.4.2.4 3 .4-2.6.4 1.5.4-1.7.4-5.6.4 3.8.4 2.8.4-2 .4 4.1.4-4.3.4.6.4-.8.4.5.4 6.2.4-7.2.4-2.9.4 2.5.4-2.4.4 4.5.4.1.4-1 .4-.8.4.6.4-4.5.4 5.3.4-1.2.4 6 .4-4.6.4.7.4-2.7.4 1.9.4 3.1.4-5.4.4 3.2.4-.4.4 2.1.4-3 .4.9.4-.6.4 5.1.4-1.3.4-3.1.4 1.9.4-4.2.4 2.3.4.1.4.4.4 3.5.4-4.7.4-.4.4 2.7.4-.6.4 3 .4 4.8.4-6.5.4-2.6.4-.4.4 4.6.4-6.3.4 1.7.4 1.8.4 0 .4-2.4.4 5.7.4-1 .4.4.4-4.7.4-1.4.4 3.7.4-2 .4-.1.4-.2.4 3.7.4-4.8.4 9.9.4-14.1.4 4.7.4.5.4-1.3.4 1.5.4-.8.4-3.3.4 4.8.4 4.4.4-9.1.4 1.4.4-1.1.4 3 .4-3.9.4 3.4.4 0 .4.7.4 1.4.4-5.4.4-.9.4 3.6.4.7.4-4.1.4-4.7.4 6.8.4-.7.4-9.1.4 6.9.4-3.6.4-4.6.4 7 .4-2.7.4 3.5.4-5.7.4-2.1.4 2.3.4 1.9.4-3.6.4-3.5.4.3.4-1.4.4-2.5.4 1.6.4 1.8.4-1.6.4 3.8.4-3.4.4 3.5.4-3.5.4-.6.4 8.2.4-1.1.4-.7.4 4 .4 5.8.4-4.8.4 3 .4-3.4.4 2.2.4.1.4 6.8.4-2.7.4-4.8.4-1.1.4 11.5.4-4.5.4-1.1.4-1.2.4 1.3.4-1.7.4 1.3.4-2.1.4 3.2.4-.9.4 4.3.4-1.9.4-5.3.4 3.1.4 4.4.4-3 .4-1 .4 3.3.4-.9.4-3.6.4 4.2.4-1.4.4-3.3.4 1.7.4 2.3.4-2.9.4 1.9.4 1.5.4-2.1.4-1.6.4.3.4 1.1.4-2.6.4 8.6.4-5.7.4 1.2.4-.1.4 3.1.4-7.9.4 6.4.4-2.5.4-.7.4-3.2.4 6.5.4.1.4-1.1.4-1.6.4-2.6.4 1.6.4 4.2.4-2 .4 2.7.4-2.4.4 2.1.4.9.4-.2.4-6.3.4 5 .4-1.9.4 4.7.4-3.8.4 2.4.4-4.6.4 3 .4-2.7.4-.7.4 2.6.4-.6.4 1.3.4-6 .4.8.4 8.1.4-6.1.4 1.5.4 2 .4 1 .4.3.4-5.5.4 4.5.4-1.4.4-2.1.4 1.3.4 1.9.4.4.4-2.9.4 3.2.4-6.4.4 3.5.4-5.3.4 10 .4-2.8.4-3.2.4.5.4.6.4.3.4-4.4.4 2.7.4 3.9.4-.6.4-3.8.4 3.6.4 2.2.4-6.1.4-2 .4.1.4 7.4.4-3 .4-.9.4-1.6.4 6 .4-3.2.4 1.7.4-2.1.4-4 .4 8 .4-4.9.4 3.4.4-1 .4-2.5.4 5 .4-.8.4-1.1.4 2.8.4-5.3.4 2.8.4-2.8.4.3.4 2.7.4-6.3.4 5.5.4-4 .4 4.9.4-6.6.4 2.8.4 4.6.4-2.7.4 1.7.4-3.2.4 5.3.4-4 .4 3.6.4-5.3.4-.7.4 4.4.4-4.1.4 2.7.4 4.3.4-5.8.4-1.9.4 4.8.4-5 .4 2.5.4-.9.4.7.4-.6.4-5.8.4 8 .4 1.8.4-.1.4-1.9.4.6.4-5 .4.9.4 6.8.4-5.6.4-2.5.4 3.5.4-.9.4 2.3.4.6.4-5 .4 4 .4 2.1.4-1.4.4-2.4.4 3.8.4-1.7.4-4.1.4-.1.4 4.7.4-4.5.4.6.4 4 .4-1.3.4-2.1.4 2.1.4-1.7.4 4.6.4-3.2.4 6.1.4-1.2.4-1.3.4-1.5.4-.6.4-2.1.4 5.4.4 2.9.4-7.1.4.5.4-8.8.4 8.1.4-1.9.4 8.4.4-8.7.4 3.4.4 2.3.4-1 .4-4.7.4 4 .4.4.4-1.1.4-.3.4-5.7.4 6.4.4-2.6.4 3.9.4-5.2.4-.5.4 4.3.4-.9.4-3.1.4 2.4.4-.4.4 1.9.4-.1.4-3.8.4 5.4.4 1.3.4-7.6.4 3.2.4 4.2.4-6.5.4.9.4-1 .4 7.6.4-1.6.4-5 .4 4.9.4.3.4.1.4.3.4.2.4-3.5.4 3.9.4-4.3.4 7.1.4-7.1.4 2.8.4 3.3.4-5 .4 1.1.4-.1.4-.8.4 2.5.4 1.6.4-5.2.4 5.5.4-6.3.4 1.7.4-4.5.4 1 .4 6.2.4-4.8.4 1.2.4-3.1.4 7.1.4-4.2.4-.5.4 7.6.4-4.3.4 0 .4-3 .4 7.5.4-5.6.4 2.8.4-.4.4-4.5.4 2.9.4 1.3.4 1"/>
<path fill="none" stroke="#b078de" stroke-width="10" stroke-linejoin="round" stroke-linecap="round" d="M132.5,537l.4-2.9.4.5.4 1.7.4-.7.4-.5.4-2.1.4-1.4.4 3 .4-1.9.4 2.8.4-1.3.4-2.1.4 2.2.4.9.4-1.2.4-2.1.4 2.3.4.2.4 1 .4-.3.4-3.5.4.8.4 2.4.4-5 .4 5.4.4-3.6.4.9.4 4.1.4-3.4.4-.5.4 1.3.4-.9.4-1.2.4 1.9.4 4.2.4-2.7.4-1.1.4-.4.4 1.1.4-.4.4-3.3.4 3 .4-1 .4 3.7.4-4.3.4 3.2.4-5.3.4 3.2.4-2.3.4-.4.4 3.7.4-4 .4 1.9.4-1.3.4 2.4.4-.3.4-5.4.4 6.3.4-2.9.4 5.8.4-2.5.4.1.4-7.4.4 9.2.4-3.8.4-3.1.4 3.6.4 2.2.4-6.4.4 5.8.4-3.1.4-.5.4.3.4-1 .4 2.3.4.1.4 1.7.4.8.4-3.9.4 3.1.4-5 .4 4 .4-3.9.4 1.2.4 2.5.4-3 .4 2.7.4-4.3.4 1.6.4 2.7.4 2.2.4-6 .4 6.1.4-3 .4 4.5.4-5.8.4-.4.4 1.8.4-3.2.4 2.7.4-.5.4 3.1.4-2.2.4-3.6.4-.2.4.8.4-2.5.4-.2.4 9.5.4-6.6.4 4.7.4-4.6.4.8.4-3 .4 6.7.4-3.8.4 4.7.4-5.4.4 4.5.4.4.4-6.8.4 4.4.4-3.4.4-.3.4 2.9.4 1.5.4 1.2.4-3.9.4 3.1.4-1.1.4-1.3.4-2.2.4 2.3.4 8 .4-10.3.4 1.7.4-1.7.4 5.2.4 1 .4-1.1.4 1.5.4-4.9.4 4.1.4-5.9.4 5.6.4-.2.4-5 .4 3.7.4-4.8.4-.8.4 0 .4.6.4-.1.4 2.4.4 4.4.4-4.8.4-1.4.4 3.6.4-2.3.4.8.4.7.4.1.4-2.7.4 1 .4 2.8.4-3.2.4.3.4 1.3.4.2.4-1.8.4 2.1.4-1.4.4-3.2.4 4.7.4-3.7.4 9.5.4-6.7.4-1.4.4 2.7.4 1.4.4.1.4-2.9.4 1.8.4-.9.4-1.6.4-3.9.4 3.7.4-6.4.4 4.1.4 5.5.4-2.9.4-.6.4-2.1.4 0 .4.4.4-1.8.4-2.2.4 8.1.4 1.5.4-5.7.4 3.4.4-5 .4 3.9.4-4.3.4 5.6.4-2.1.4-3.4.4 4.5.4 2.7.4-4.1.4-.2.4.1.4.2.4 2.8.4.1.4-8.6.4 8.3.4-3.6.4 4.7.4-3.1.4 1.2.4-3.8.4-2.1.4 3.9.4 1.8.4-.6.4.1.4-1.5.4 1.2.4-4 .4 1.7.4-3.7.4 3.8.4-.7.4.9.4 2.4.4-2.5.4-7.7.4 10.9.4-3.2.4 1.5.4-4.1.4 4.1.4 1.8.4-8.2.4 7.3.4-5.7.4.3.4 2 .4 5.4.4-10.3.4 3 .4 1.7.4 1.5.4-2.1.4 1.4.4-4 .4 4.7.4.7.4-5.8.4.7.4 3.1.4-.2.4.4.4-4.8.4 2.1.4-.3.4 4.9.4-4 .4-1.2.4-1.2.4 2.4.4 3.1.4-7.6.4 4.5.4 1 .4 4 .4-3.7.4 1.8.4-3.8.4-4 .4-.2.4 1.8.4 2.3.4-1.3.4-.6.4 6.3.4-11.9.4 3.7.4 9.6.4-6 .4-2.9.4-1.4.4 5.4.4-.4.4.2.4-6.1.4 4 .4-1.1.4 1.8.4-6.1.4 6.3.4 2.6.4-8.5.4 6.4.4 2.2.4-2.4.4-2.8.4.4.4-2 .4 2.1.4-3.9.4 3.2.4-2.8.4-1.9.4 8.6.4-10 .4 10.6.4-11.9.4 9.2.4-2.3.4-5.5.4 3.2.4-1.7.4.1.4 5.4.4-6.3.4-2.4.4 9.1.4-2.3.4-1.3.4-1 .4 2.9.4-1.1.4-1.6.4-1.6.4 5 .4 1 .4-3.1.4 7.7.4-8.7.4-.2.4 4 .4-3.9.4-.2.4-2.1.4 2.5.4-6.9.4 2.9.4-1.2.4-3.7.4 10.3.4-4.7.4-1.8.4 3.8.4-5.3.4 6.7.4 1.5.4-9.2.4 8.3.4-3.3.4 2.9.4-3.2.4-3.5.4-2.6.4 1.4.4 1.9.4 4.9.4-1.5.4-1.2.4 3.6.4-11 .4 2.1.4-.1.4 3.8.4-5.8.4 3.4.4 6.3.4-1.4.4 1.7.4-7.2.4-1.7.4 4.2.4-4.2.4 2.7.4-.4.4 2.1.4 2.9.4-.3.4-1.7.4-4 .4 2.8.4-3.7.4-2 .4-2.3.4 3.1.4 3.5.4.5.4-2.4.4 1.7.4-4.1.4 7.5.4-5.4.4-1.8.4 3.3.4-3.1.4 1.6.4 3.9.4-8.3.4 1.7.4.2.4.6.4 6.4.4-3.6.4 1.2.4-13.9.4 10.8.4-1 .4.8.4-2 .4-2.7.4 4.8.4-3.4.4.5.4-2.3.4 1.2.4 2.5.4.9.4-3.3.4.3.4-1.2.4 3.8.4-5 .4.3.4 1.3.4-2.1.4 2.4.4 4.9.4-6.3.4 5.3.4-2.1.4-3 .4 1.8.4 2.7.4-8.8.4 5.7.4 1.9.4-7.6.4 7.6.4-2.7.4-5.7.4 4.7.4-7.3.4.6.4-1.3.4 6.5.4-2.5.4-1.7.4.7.4 1.6.4-1.2.4-.7.4 2.3.4-4.4.4 1.4.4 6.4.4-3.2.4-8.5.4 12.9.4-9.5.4 9.6.4-6.2.4 3.3.4-10.8.4 3.7.4.4.4.2.4-1 .4.4.4 1.8.4-2 .4 1.7.4 1.7.4-8.4.4 5.9.4-3.1.4 3.3.4 2.7.4-8.1.4 3.9.4 5 .4.3.4-6.3.4 5.4.4-2.5.4-1.1.4-2.3.4 2.9.4 1.5.4-5.5.4 4.3.4-6.6.4-.2.4 6.7.4-3.2.4-2.5.4 4.5.4 1.3.4-2.8.4 5.6.4-8.9.4 0 .4 6.2.4-7.9.4 6.8.4-9.6.4 2.4.4 3.2.4-1.1.4 7.7.4-10.3.4 3.6.4.7.4-1.2.4 4.9.4-7.1.4 0 .4-2 .4 7.5.4-2.7.4-.1.4-.4.4-5.5.4 6.4.4-.8.4 4.4.4-4.3.4-5.1.4 1.9.4 8.5.4-12.5.4-.8.4 6.5.4 4.9.4-5.8.4-5.3.4 13.8.4-12.3.4 6.4.4 2.5.4-5.7.4 2 .4 3.5.4-11.6.4 8.5.4 1.6.4.2.4-7.1.4 3.5.4-4.4.4-.2.4-1.5.4 6.4.4-1.9.4 3.9.4-14.9.4 6.2.4 5 .4 5.9.4-10.4.4-4.5.4 4.9.4 2.1.4 3.7.4 1.3.4-1.8.4-3.5.4 9.2.4-11.9.4 2.9.4 2.5.4-4.8.4 1.2.4 3.6.4-6.6.4 3 .4.1.4 10.3.4-6.2.4-6.4.4 6.1.4-7.7.4 6.3.4-8.8.4 10.1.4-3.8.4-5 .4 7.4.4 1.9.4-2 .4-.9.4-6.3.4 9 .4-12.6.4 6.8.4 10.7.4-14.2.4-1.7.4 3.6.4 5.5.4-1.9.4 4.6.4-4 .4-4.7.4 8.4.4-6.3.4 5.2.4 3.1.4-3.8.4 3.4.4-10.6.4 3.4.4 2.6.4-5.8.4 10.6.4-.3.4-3.2.4.5.4-3 .4-3.9.4 1.9.4 1.5.4 2.1.4-1.5.4 1.7.4-6.7.4 2.4.4 3.9.4 3.4.4-10.9.4 8.3.4 1.7.4-3.3.4.6.4-2 .4 1.5.4-1.3.4-4.8.4 12.1.4-4.4.4-3.5.4 7.8.4-6.7.4 3.9.4-9.6.4 4.5.4 7 .4 1.7.4 1.7.4-1.8.4 1.6.4-10.4.4-3 .4-4.2.4 10.6.4-1.4.4 7.5.4-7.4.4 7.9.4-13.5.4 14.1.4-7.7.4 6.1.4-1.5.4-7.8.4 7.5.4-6.3.4 6.3.4-1.2.4-.7.4-2.4.4-.3.4 1.3.4-10.4.4 14.4.4-4.5.4 1.3.4-4.8.4 5.2.4-3.2.4 8.7.4-12.6.4 11.2.4-8.6.4 5 .4-2.6.4-3 .4-4.6.4 11.9.4-10.4.4 5.3.4 7.6.4.2.4-4.4.4-8.1.4 6.4.4.9.4-3.7.4 9.1.4-4.6.4.4.4-1.7.4-5.3.4 1.9.4-.1.4 9.3.4-4.9.4 1.8.4-.1.4 0 .4 5.4.4-3.3.4-2.3.4-.5.4 5.5.4-13.6.4 13.3.4-7.7.4 4.3.4-3.1.4 1.3.4-1.1.4-14 .4 10.4.4 1.4.4-2.1.4-2.2.4 10 .4-6.3.4 4.7.4 4.7.4-9.4.4 3.8.4 5.6.4-6 .4-.2.4-7.2.4 14.5.4-6.5.4-4.5.4 9.2.4-5.2.4 1.5.4-2.3.4 5.8.4-.2.4-4.5.4 2.1.4 6.3.4-5.6.4-2.4.4 7.7.4-8.3.4 3 .4-5.1.4 1.4.4 1.5.4 4.6.4 2.1.4-6 .4 5 .4-3.4.4 3.4.4-6 .4 4.4.4-1.6.4 1.2.4 9.7.4-8.8.4 4.6.4-1.2.4-10.5.4 8 .4 2.7.4-10.5.4 3.2.4 17.1.4-13.3.4-2.1.4 2 .4-3.4.4 3.9.4.6.4-2 .4 6.9.4 1.3.4-2.6.4-7.2.4 1.1.4-3.2.4 7.1.4-3.4.4-.2.4-.4.4 3.7.4-.2.4-5.1.4 10.7.4-5.3.4-6 .4 8.9.4-6.7.4 10.7.4-1.8.4-3 .4 7.2.4-12.7.4 4.9.4-2.2.4-2.3.4-1.5.4 9.6.4-5.3.4-2.7.4 1.8.4 14.3.4-11.9.4-2.7.4 1.9.4 5.6.4-4.9.4-.2.4.6.4-1.7.4 1.1.4 6.5.4-6.1.4.6.4-10.7.4 13.9.4 2.2.4-7.3.4 4.6.4-5.9.4 5.5.4.3.4-9.9.4 12.9.4 1 .4-5.5.4-3.5.4 4.2.4-.4.4 4.2.4-3.6.4-.2.4 4.4.4-1.2.4-2 .4-2.8.4-.2.4.5.4-.4.4 1.7.4 6 .4-5.6.4.5.4-6.7.4 11.7.4-5.2.4 3.9.4-.4.4-4.2.4 4.4.4-7.3.4 3.1.4 8.3.4-9 .4 5.2.4-1.4.4-2.9.4 8.5.4-5.8.4 3.4.4 4.9.4-13.1.4 5.3.4 3.8.4-3.6.4 4.7.4-1.8.4-1.4.4 1 .4-4.6.4-2.7.4-.9.4 7.8.4-4.6.4 8.7.4-9.3.4-1.9.4-.9.4 12.6.4-4.8.4 1.9.4-6.4.4 10.2.4-11 .4 5.4.4-1.4.4 5.5.4-7.8.4 2.7.4.4.4 1 .4.4.4 2.6.4.9.4-4.5.4.8.4 1.2.4.9.4-1.7.4 2.4.4-.8.4 1.9.4-5 .4 3 .4-2.7.4-4.2.4 3.9.4 3.1.4-2.3.4-1.6.4 5.9.4 2.1.4-1.9.4.1.4-7.1.4 6.7.4 4 .4-1.2.4-4.2.4 3.9.4-5 .4-.2.4 2.9.4-.1.4-3.6.4 1.5.4 4.5.4-5.4.4 2.3.4.6.4 2.3.4-3.6.4 1.3.4 3.3.4-5.8.4-.6.4-2.6.4 7.5.4-4.1.4-.3.4-4.2.4 4.7.4-1.8.4 2.3.4-.1.4 1.4.4 5.5.4-9.3.4 3.5.4-1.6.4 1 .4 1.6.4 2.5.4-2.6.4.4.4 1.6.4-1.7.4-1.9.4 1.5.4.5.4-5.8.4 8.1.4-2 .4 1.9.4-1.6.4-4.9.4 2 .4 2.2.4-4 .4 8.1.4-7.9.4 9.5.4-4.5.4 1 .4-5.8.4 3 .4-.2.4 5.9.4 2.1.4-.6.4-14.1.4 8.4.4-4.3.4 3.9.4-1.1.4-4 .4 1.6.4 6.1.4-2.6.4-1.6.4 2.5.4-3.9.4 5.6.4-3.2.4 4.7.4-10 .4 7.7.4-2.5.4-3.1.4 1.3.4 3.5.4 1.8.4-3.4.4.9.4-1 .4-.1.4 8 .4-3.9.4 2.8.4-6.3.4 2.6.4-1.7.4 3.9.4-2.6.4 4.5.4-4.7.4-1.8.4-1.9.4 1.3.4 4.4.4-4.1.4 1.9.4 2.3.4 1.6.4-7.6.4 2.6.4-3.1.4 4.5.4-.7.4.9.4-4.8.4 2.7.4-4 .4 7.5.4-3.6.4-.5.4 3.1.4 1.2.4-3.9.4 1.9.4.8.4-1.8.4-2.1.4.8.4 4.7.4-1.8.4-4.3.4 2.1.4 3.8.4-2.1.4-2.6.4-1.2.4 4.4.4 4.8.4-5.9.4-2.1.4-.1.4 6 .4-9.4.4 4.7.4 1.3.4-1.7.4 8.6.4-5.9.4-.2.4 2.9.4-3.4.4-5.2.4 6.2.4-2.3.4-.2.4 5.8.4-6.7.4 2.9.4 0 .4 1 .4 5.6.4-9.3.4 2.7.4 3.7.4-3.3.4-2.4.4.8.4 5.2.4-7.6.4 9.4.4.4.4-5.3.4.9.4.3.4-2.4.4 2.2.4-7.6.4 1.4.4 2.3.4.7.4 3.8.4-.9.4 1.9.4-2.4.4.1.4 1.4.4-3.9.4-.2.4.9.4-2.4.4 2.7.4 1 .4-2.5.4.6.4.9.4 5.3.4.7.4-6.5.4 5.8.4-3.5.4-2.9.4 2.5.4-1.4.4-.1.4-1.9.4 4.6.4-5.1.4 2.8.4 3.6.4 3.8.4-5.7.4.7.4 2 .4-2.8.4 4.5.4-10.7.4 7.8.4-3.5.4 3 .4 3.5.4-3.7.4-1.4.4 1.6.4-1.6.4 1.7.4-1.4.4-1.1.4-1.8.4 5.9.4-2.7.4-2.9.4.3.4 3.8.4-2.8.4 3.2.4 2.8.4 6.2.4-8.3.4 3.7.4-9.3.4 2.8.4 2.5.4.8.4-5.9.4 7.7.4-1.3.4-.6.4.4.4-2.9.4 4.5.4-2.3.4-1.6.4 2.7.4-4.7.4 1.9.4 0 .4 2 .4-1.7.4 1.7.4-4.5.4.4.4 4.9.4-1.3.4-2.1.4 3 .4.2.4 2.1.4-1.7.4-3.3.4 2.4.4 2.9.4-1.3.4-3.5.4 5.3.4-5.5.4 1.5.4-4.6.4 5.5.4.6.4-1.5.4.6.4-2 .4 3.6.4-3 .4 3.2.4-.4.4-.9.4.7.4 0 .4-1.3.4-3.8.4 9.1.4 1.9.4-5.7.4-2.9.4 2.9.4-4.6.4 5.6.4 3.1.4-3.3.4.2.4-7.1.4 4.6.4-2.7.4 8.6.4-5.1.4-.6.4 2.5.4 1.5.4-1.2.4-3.9.4 3.2.4.6.4-2.4.4 2.9.4-4.1.4 3.8.4 1.6.4-1.9.4-3.8.4 3.9.4 1.2.4-.4.4-4.8.4 2.7.4.3.4 8.7.4-6.8.4-2.7.4 4.1.4-4 .4.7.4 4.7.4-.9.4-2.8.4-3.1.4-6.5.4 9 .4-3.1.4 5.9.4.2.4-7 .4-.1.4 2.5.4 1.6.4 2.4.4-6.6.4-2.4.4 5.2.4-.6.4 1.1.4 4.5.4-5.7.4 4.5.4-3.6.4 2.1.4 1.1.4-2.8.4-4.5.4 1.8.4 2.4.4-3.9.4.4.4 2.5.4-1.5.4 5.2.4-.1.4-9.6.4 9.3.4-3.9.4 1.6.4 4.7.4-3.7.4-1.2.4-1.7.4 3 .4 1.3.4.8.4-3.8.4 7.2.4-6 .4 5.7.4-5.1.4 4.8.4-.2.4-7.1.4 1.9.4 0 .4 2.7.4-4.8.4-.8.4 12.4.4-6.7.4 1.4.4-2.9.4.5.4 1.2.4-1.3.4-1.5.4-.2.4 5 .4-6.2.4 4.1.4-1.7.4-1 .4 3.2.4-3.8.4-5 .4 8.9.4-2.1.4.6.4 2.2.4-3.6.4 4.2.4-4.7.4 7.4.4-10.2.4 3.5.4-.8.4-3 .4.8.4 3 .4-5.3.4 5.1.4 2.3.4-5.6.4 1 .4-2 .4 2.9.4.9.4-1.9.4.3.4 2.7.4.6.4-4.6.4 2 .4-.5.4-2.7.4 4.7.4 1.4.4-.5.4-3.3.4 5.9.4-.8.4-4.5.4 1.2.4 3.6.4-4.1.4 4.9.4 1.2.4-4.7.4.4.4 0 .4 3.8.4-1.3.4-5.5.4-1 .4 2.2.4.9.4-2 .4 5.6.4-2.3.4 2.4.4.3.4-5.5.4 8.6.4-1.2.4-5.3.4-1.9.4.1.4 4 .4-3.1.4 2.5.4 4.4.4-5.5.4-.8.4 2.4.4-.4.4-3.9.4-2.2.4 4.7.4-.7.4-.2.4 1.6.4 1.3.4-3.8.4 4.6.4-4.6.4 2.1.4 1.1.4 1.6.4 1.5.4-2.4.4-1.4.4 1.4.4 0 .4-3 .4 1.9.4-.9.4 1.8.4-5.7.4.7.4-2.2.4 8.7.4-3.5.4 1.2.4-5.6.4 7.3.4-.9.4 3.2.4.6.4-3.2.4-.8.4.6.4-1.2.4-.6.4.9.4.6.4-2.8.4 1.3.4 6.3.4-6.9.4.3.4 2.6.4-4 .4 1.5.4-3.1.4 4 .4-2.5.4-3.2.4 7.1.4 1 .4-2.8.4 6.1.4-10.4.4.5.4 4.8.4 2.5.4-3.2.4-.8.4-1.9.4 8.5.4-7 .4 3.6.4-1.2.4-4.9.4 6.7.4-4.4.4 3.1.4.4.4-2.1.4 5.6.4-.9.4-4.3.4 2.7.4 1.2.4 1.6.4-6.1.4 6.9.4-8.7.4-.9.4 5.5.4-4.8.4 7.9.4-10.6.4 5.6.4 1.8.4-6.8.4 8.1.4-7.4.4 5.2.4-.3.4.1.4 1.8.4-.1.4-4.8.4-.4.4 3.1.4-5.2.4 8.8.4-4.5.4 7.5.4-5.2.4-3.5.4-1.2.4 6.8.4-13.3.4 8.2.4 7.5.4-6.4.4 2.2.4-2 .4 1.7.4-4.1.4 2.7.4 3.4.4-3.7.4.4.4 3.2.4-.4.4-2.5.4-3 .4-.8.4 3.8.4-.6.4 5.1.4 4.2.4-4.5.4-6.3.4.7.4-3.9.4 5.5.4 0 .4 2 .4-5.6.4 3.7.4-.9.4 2.9.4-7.1.4 8 .4-3.7.4-.3.4-3.5.4 3 .4 1.5.4-1.7.4 1.3.4-4 .4 3.4.4-2.7.4-2.8.4 1.4.4 3.3.4 1.9.4-.8.4 3.8.4-3 .4-.8.4-1.7.4 3 .4-1.8.4-5.3.4 5.4.4.1.4-.3.4 8.5.4-6.3.4.7.4-.7.4-3.2.4 2.1.4 0 .4.1.4-3 .4 3.1.4-1.9.4-2.6.4.4.4 1.8.4 1 .4-3.6.4-.8.4 1.6.4 1.3.4 6.1.4-3.1.4-8.1.4 5 .4 2 .4 2.6.4-3.4.4 5.5.4-7.3.4 8.1.4-7.1.4.8.4 1.3.4-2.7.4-1.7.4 4.4.4-.7.4 3.9.4-2.1.4-4.5.4 3.4.4-4.2.4-2.5.4 3.9.4-1.2.4-.6.4 4.6.4-3.2.4-2.8.4.9.4 1.7.4-7.2.4 6.8.4-1.4.4-.1.4 1.5.4-1.3.4-6.4.4 3 .4-4.4.4-6.1.4 1.1.4-2.9.4-.9.4-6.7.4-3.3.4.1.4-6.3.4-2.5.4-3.7.4.2.4-2.6.4-3.5.4-7.8.4 10.2.4-3.8.4 4.7.4.5.4-1.1.4 9.9.4.2.4 4.6.4 3.9.4 9.5.4-5 .4 3.4.4 1.5.4 3.4.4 3.8.4.3.4 2.8.4.8.4 1 .4.8.4 8.5.4-8.6.4 3 .4-2.3.4 5.1.4.4.4-2 .4-2.1.4 5.1.4 1.7.4-7.9.4 2.5.4 2 .4.4.4.4.4 1.9.4-2.6.4.9.4 2.1.4-2.6.4 5.1.4-3.5.4 2.6.4-1.9.4 1.5.4-1.9.4.5.4.9.4-2.4.4 5.7.4-6.2.4 5.4.4-4.3.4 3.6.4-1.1.4 2.2.4 4.8.4-1.1.4-8 .4 1.4.4-2.3.4 2.7.4-4 .4 4.6.4-5.2.4 8.3.4-5.2.4-2.4.4 2 .4 1.7.4-3.5.4 7.8.4-3.4.4-2.7.4-1.9.4 4.1.4.6.4.9.4-2.3.4-2.2.4 4.8.4-2.6.4-2.4.4 2.8.4-.6.4-.7.4 3.3.4-9.3.4 9.5.4-3.3.4-.3.4.4.4 2 .4-4.2.4 3.1.4 3 .4-.5.4-5.1.4.7.4-1.8.4.2.4 6.3.4.3.4-6 .4 8.7.4-1.5.4-2 .4-2.8.4-.2.4 3.7.4-.8.4-5.5.4 4.8.4-.1.4 3.3.4-6.1.4 1.4.4.5.4 0 .4-1.1.4 5.3.4-6 .4 1 .4-1.3.4 2 .4 3.6.4-2.3.4 1.5.4-.4.4-2 .4-4.5.4 5.5.4-.6.4-.5.4-.6.4.7.4-1.3.4-.2.4.4.4 2.4.4 4 .4-2.9.4-6.8.4 5.6.4 1 .4.9.4-3.8.4-2.7.4 6.6.4-3.5.4 6.3.4-8.2.4 8.6.4-8.6.4 8.5.4-4.6.4 2.1.4-1 .4 1.4.4-2 .4 1.4.4-5.3.4 2.8.4-3.1.4 3.2.4.8.4-.8.4 3.2.4-.6.4-.6.4.9.4 1.5.4-6.2.4 1.2.4 1.1.4-2.7.4 1.2.4-2.8.4.9.4 6.9.4-4.3.4-4.5.4 5.8.4-1.7.4-4.2.4 3.1.4 1.3.4 1.4.4-2.2.4 4.6.4-3.6.4 6.9.4-3.7.4 1.5.4-.5.4-6.8.4 6.7.4 3.7.4-2.4.4-3.7.4-3.8.4 5.9.4-4.3.4 2 .4 1.7.4.7.4-5.3.4 4.8.4-1.2.4-2.2.4-.1.4 1.9.4 3.6.4-5.6.4 3.4.4-4.6.4.8.4 1.3.4-.2.4-.1.4-1.7.4.4.4.5.4 2.9.4-.8.4 1.1.4 1 .4-3.2.4-1.6.4-.2.4 6.3.4-2 .4 1.7.4-.9.4-3.5.4 1.7.4-1 .4 5.6.4-4.4.4 2.7.4-3.9.4 3.2.4-2.8.4-2.3.4 5.2.4-5.4.4 1.1.4 2.8.4-1 .4-2.1.4 1.2.4 3.4.4-5.4.4-5 .4 9.6.4-4.2.4.6.4 2.9.4-3.3.4.6.4 3.6.4-1.3.4-1.9.4-2.1.4-.3.4 5 .4-.9.4-4.1.4 3.2.4-6.3.4 7.4.4-1 .4-2.8.4 5 .4-2 .4-1.9.4-.1.4.1.4 3 .4-.5.4-2.9.4-2.1.4 2.7.4 1.6.4-3.2.4 0 .4 1.7.4 1.2.4.9.4 1.2.4-7.8.4 7.6.4-1.8.4-2.4.4 3.6.4-7.6.4.4.4 10.3.4-8.9.4 4.1.4-3.6.4 1.7.4-1.5.4 5.5.4-8.2.4 5.3.4-2.7.4-.1.4 5 .4-4.7.4 2.1.4 1.6.4-1.1.4 1.5.4 1.1.4-2.2.4-1.6.4.7.4-1 .4 3.7.4-4.6.4 2.8.4.8.4-3.7.4-2.3.4 6.3.4-2.1.4-.6.4.1.4.4.4.4.4-1.4.4-1.6.4 2.8.4.3.4-3.8.4-3.7.4 7.6.4-.8.4-.6.4-3.6.4 3.8.4-2.4.4-2.5.4-1.7.4 5.7.4-4.6.4-1.2.4-3.2.4 3.8.4-3.3.4 4.4.4-4.8.4.3.4-3.9.4-1.3.4.5.4 1.2.4-1.9.4 1 .4-.1.4 5.2.4 1.8.4-3.4.4 6.7.4-1.9.4-.1.4 1.3.4 4.6.4-2 .4 1.8.4 5.5.4-7.9.4.7.4 2.2.4-3.3.4 1.2.4 0 .4 7 .4-2.9.4-2.2.4-.8.4 4.2.4.9.4-3.2.4 3.5.4-3.7.4 4.8.4-1.6.4-1.9.4-2.6.4 3.7.4 1.2.4 3.6.4-5.8.4.9.4-1.7.4 3.5.4-1.8.4-1.8.4 1.8.4.1.4-1.3.4 2.9.4-2.2.4.4.4 1.2.4-4 .4 4.6.4-1.3.4-1 .4 6.7.4-3.5.4-3 .4-1.7.4 1.9.4 5.2.4-8.7.4 6.6.4-3.8.4 3.3.4 5.1.4-2.6.4-2 .4-1.5.4 2.6.4-4 .4-.4.4 2.8.4 4.3.4-3.7.4 2.2.4-4.3.4 1.8.4-3.9.4 4.1.4-2 .4 4.6.4-1.3.4-.1.4 1.5.4-3.9.4-4.8.4 1.3.4 4.3.4-3.1.4 1.2.4.4.4 2.2.4-7.5.4 8.4.4-.1.4-1.6.4-.1.4 4.8.4-4.4.4-6.2.4 9.4.4-6.1.4 3 .4 3.9.4-6.4.4 1.7.4 2.4.4-2.1.4 2.3.4-3 .4.2.4.9.4-.1.4 1.4.4 1.3.4 1 .4-6.5.4 2.3.4 1.1.4 2.4.4-.3.4-4.6.4 7.4.4-5.3.4 6.2.4-7.7.4.6.4 5.2.4-4.8.4 1.2.4 2.7.4-1.4.4 3.7.4-6.6.4 2.1.4-2.2.4 3.5.4.6.4-1.1.4-3.9.4 3.9.4-3.6.4.6.4.7.4 1.4.4.8.4-2.9.4 1.2.4 5.2.4-5 .4 1.4.4-2.6.4 7.1.4-7.2.4 1.2.4-.2.4.1.4 2.6.4-2.7.4 2.2.4 3.2.4-7.4.4 1.6.4-1.3.4 2.5.4-1.4.4 2.5.4-9.3.4 10.3.4-3.9.4 2.2.4-5.6.4 7.9.4-7.9.4 1.7.4 3.7.4-3 .4.7.4 6.8.4-3.9.4-2.1.4-.4.4 3.2.4 0 .4-2.6.4-4 .4 3.1.4-4.4.4 3.5.4 3.9.4 2 .4-.3.4-1.7.4 1.1.4-6 .4 5.1.4-5.8.4 1.9.4 3 .4 4.7.4-6.5.4-.8.4 3.7.4.4.4-4.6.4 3.3.4-2.2.4 3.5.4-.7.4-.6.4-.6.4 1.3.4-3.1.4 6.2.4 1 .4-2.8.4-4.6.4 6.8.4-7.6.4 5.2.4.1.4-1.3.4 1.9.4 1.2.4-6.4.4 5.6.4-4.4.4 1.6.4-2.5.4 1.7.4.9.4-1.1.4 1.5.4-1.2.4 0 .4.3.4-.8.4 4.8.4-6.4.4 6.9.4-4.8.4-2.2.4-.6.4 2.3.4 1 .4 1.2.4 3.4.4-7.4.4 4.9.4.1.4-4.2.4 3.5.4 2.7.4-.9.4-4.4.4 5 .4-3 .4-.9.4-.4.4 2.8.4-1.9.4 1.4.4-2.1.4.5.4 1.2.4-.1.4-1.7.4.8.4-.9.4 1.2.4-3.6.4 1.9.4 4.1.4-2.1.4-.6.4-2.8.4 3.2.4-.9.4-.7.4 4.8.4-8 .4 4.9.4 2.2.4 0 .4-1.2.4-.9.4-.9.4 1.2.4-.7.4-.2.4.3.4 2.5.4-2.6.4-1.7.4-1 .4 3.3.4-5.1.4 7.1.4-4.6.4 3 .4 2.3.4-1.7.4 2 .4 2.3.4-3.8.4-4.8.4 6.4.4-2.6.4 1.9.4-.3.4-5.2.4 5.7.4-5.3.4 1.5.4-2.9.4 7 .4-4 .4 1.4.4-5.4.4 2.4.4 3.8.4 1.3.4-3.3.4-1.9.4 1.7.4.7.4.5.4-1 .4 3.4.4-5.1.4 3.3.4-.5.4 1.5.4-5.5.4 2.7.4 1.3.4 1.4.4-1.7.4 1.7.4-2.2.4-.8.4-2.2.4 5.5.4 5.4.4-11.6.4 2.9.4-1.3.4 2.8.4 4.2.4-5.6.4 3.8.4-2.6.4-2.8.4.2.4 4.8.4-3.2.4 4.2.4-2.4.4-.2.4-3.6.4 1.9.4-3.5.4 5.6.4-1.6.4 3.8.4-4.8.4 2 .4-1.8.4 3.4.4-5 .4 2.9.4-1.1.4-4.2.4 3.1.4 5.3.4-.6.4-2.9.4 3.9.4-2.5.4.7.4-1.7.4-1.9.4 1.6.4 3.6.4-3.9.4-5.8.4 7.2.4-2.1.4-4.9.4 5.5.4 0 .4.5.4 1.3.4-1.9.4 1 .4-2.3.4-.7.4 2.9.4-1.3.4-.3.4-.7.4 2.1.4-3.4.4 1.7.4-.4.4 5.7.4-2.5.4-.7.4 3.8.4-7.5.4 4.3.4 1.9.4-3.2.4-.6.4 0 .4 1.8.4-.2.4-1.5.4 3.7.4.1.4-1.2.4-5.9.4 4.5.4-.6.4-2.5.4 3.9.4-3.7.4 4.6.4.3.4-2.5.4 4.1.4-6.7.4 6.8.4-3.3.4-1 .4-.1.4 4.3.4-3.6.4-.9.4 6.2.4-5.1.4 5.1.4-5.8.4 1.6.4-3.5.4.4.4 1.5.4-3.4.4 2.4.4-1 .4 1.1.4 3.7.4-3 .4-.3.4-1.4.4 3.3.4-.5.4 2.9.4-2.4.4 1.1.4-1.5.4 3 .4-7 .4 4.3.4-3.3.4-1.3.4 3.3.4-2 .4 4.3.4-1.5.4-2.3.4 0 .4 3.6.4-1.5.4 2.7.4-4.6.4 7.1.4-7.1.4-3.5.4 5.5.4 3.6.4-5.7.4-1.4.4-2.3.4 2.6.4 2.2.4.6.4.8.4 2.5.4-5.6.4 4.2.4-2.2.4 3.9.4-2.9.4.2.4 0 .4-2.5.4-.6.4 2.2.4-2.4.4 6.1.4-7 .4 3.8.4.1.4-1.8.4.4.4 1.3.4 1.7.4-1.8.4.5.4-.7.4 6.2.4-9.2.4-2.7.4 8.9.4-.4.4-2.2.4-4.1.4 6.6.4-1.2.4-.3.4 1.4.4-4.5.4-1.2.4 2.9.4-.6.4-1.3.4 1.8.4-3.1.4 2.5.4 2.6.4-5.7.4 1.4.4-.4.4-1.7.4 4.6.4-1 .4-2 .4 3.6.4-2.6.4 1.7.4-1.5.4 1.9.4 1.7.4-5.5.4 3.3.4-1 .4-.5.4.9.4-.9.4 4 .4-3.2.4-.1.4 4.4.4-2.3.4-2.9.4.6.4 1.2.4-1 .4-.8.4 1 .4-1.5.4 5.4.4-.6.4-4.8.4 3.9.4-2.8.4-1.8.4 2.3.4 2.1.4 1.2.4-3.3.4.1.4 2.1.4.7.4-6.4.4 6.6.4-5.4.4 5.2.4 1.1.4-3.5.4-1.8.4.9.4 3.5.4-4.6.4-2.1.4 5.1.4-1.1.4-1.5.4 3.7.4-.2.4-1.8.4-.7.4-1.3.4 1.4.4-4.9.4 1.8.4 1.7.4 2.7.4-6 .4 4.2.4 2.7.4-1.9.4-1.9.4 4.8.4-.5.4.3.4-2.9.4-1 .4-1.7.4 1.9.4.4.4.7.4 2.6.4-2.2.4-.2.4-2.6.4.2.4 1.9.4 1.3.4 0 .4-1.8.4 0 .4-4.3.4 10 .4-5.2.4-2.6.4.1.4 2.8.4-1.5.4 1.8.4-3.8.4 3.1.4 3.4.4-4.5.4-.9.4-.1.4.5.4 1.2.4 3.6.4-.4.4-6.2.4 3.2.4-2.3.4 2.3.4-1.4.4 3.3.4-1.7.4 3.3.4-2.4.4 3.3.4-3.6.4-2.3.4 5.8.4-4.2.4-4.1.4 5.6.4 1.8.4-4.7.4 1.3.4 2.2.4-1.5.4-.1.4-3.8.4 1.1.4-.6.4 5.4.4-1.5.4-.9.4 2.7.4 1.5.4-3.4.4-3.3.4 2.4.4-4.8.4 3.6.4 1.4.4-3.7.4 4.4.4 1.4.4-3.4.4.1.4 3.5.4-.9.4 2 .4-.4.4-5.9.4 1.7.4-1.1.4 1.9.4-3.1.4 3.5.4-.4.4 2.3.4 2 .4.4.4-9.4.4 6 .4-.5.4-3.5.4 7.1.4-4.6.4 2.4.4 1.1.4-3 .4 4.5.4-8.9.4 7.8.4-6 .4 5.2.4-4.4.4 1.5.4 2.8.4.2.4 2.2.4-.5.4-6 .4 1.5.4 2.8.4-1.6.4-2.1.4 2.2.4 1.3.4.3.4 1.5.4-5.5.4 1.8.4 1.2.4-4.3.4 1.7.4.6.4-1.9.4-.5.4 6.3.4-6.6.4 6.1.4-.9.4-3.5.4 3.8.4-3.5.4.8.4-.4.4-.3.4 4 .4-2 .4 1 .4-.7.4 6.7.4-9.9.4 3.9.4 2.5.4-5.4.4 1.6.4 4 .4 1 .4-1.3.4 1.9.4-4.4.4-.6.4 2.5.4 1.3.4-5.8.4 6.7.4-4.3.4-3 .4 6.2.4-4.3.4-1.6.4 4 .4-3.2.4-1.1.4 5.7.4-6.5.4 3.1.4 2.8.4-1.7.4-3.8.4 1.4.4-.3.4 3.6.4-4.9.4 8.4.4-6.2.4.4.4-2.9.4 3.8.4-1.7.4-.3.4-2.6.4 7.5.4-3.3.4-3.1.4 1.3.4 3.5.4-2.1.4 1.2.4-3.7.4 5.1.4-6.2.4 3.5.4-4.1.4 5.4.4.1.4-1.1.4 1.3.4.8.4-4.6.4 1.5.4-1.3.4 5 .4-7.5.4 2 .4 1.1.4.7.4 4.4.4-5.8.4 1.9.4.7.4 1.5.4-1.8.4.8.4-.5.4.6.4-.2.4-4.3.4 4.4.4-.8.4-.3.4 1.8.4 1.1.4 1 .4-2.7.4-.6.4.7.4-3.9.4 2.5.4-1.8.4 7.5.4-2.6.4-1.4.4 2.4.4-.2.4-2.2.4 1.7.4-1.5.4 1.9.4-3.5.4 1 .4.6.4 1.1.4-3.7.4 2.5.4-2.5.4 1.8.4-4.4.4-1 .4 4.1.4 1.2.4-2.6.4 7.8.4-7.7.4 0 .4 2.3.4-1.2.4 2.1.4-3.2.4 4.3.4-5.1.4 1.5.4 1.1.4-1.8.4 3.4.4-.9.4 1.5.4-4.1.4 1.8.4.5.4 2.2.4-1.7.4 1 .4.2.4 1.6.4-2.4.4-4.6.4 3 .4 5.1.4-4.8.4 2.4.4 2.9.4-5 .4.3.4-.9.4 4.1.4-2.6.4-2.2.4.9.4-.5.4-1.6.4 4.9.4.9.4 1.6.4-5.2.4 3.4.4 3.4.4-10.5.4 2.4.4.2.4 6.9.4-3.5.4-1.1.4-.6.4-.8.4-1.2.4 1.8.4-2.3.4 4.5.4-1 .4.3.4 3.7.4-1.6.4-1 .4-.2.4-2 .4 3.3.4-2 .4-1.5.4.6.4 1 .4-2.3.4 3.5.4 4.2.4-8.9.4 1.1.4 1 .4.8.4-2 .4 4.3.4-2.9.4 2.8.4-.6.4-2.7.4 2.1.4 4.2.4-6.3.4-.9.4 6.8.4-5.5.4-1.8.4-2.5.4 6.1.4-.8.4-4.7.4 4.6.4-4.8.4 5.8.4 1.4.4-2.6.4 3.1.4-7.3.4-.9.4 7.1.4-5.9.4 3.2.4 4.6.4-2.7.4-2.1.4.1.4 3.1.4-4.6.4 2.7.4-.4.4.3.4-1.1.4-1.3.4-1.7.4 5.9.4-3.1.4 3.2.4-1.1.4-6.5.4 6.5.4-2.1.4 2.6.4-4.3.4 4.4.4 2.3.4-8.7.4 4 .4.8.4 1.6.4 0 .4-3.6.4 2.1.4 1.6.4-3.9.4 2.1.4-.8.4.6.4-4.5.4 6.1.4-1.9.4 2.2.4.3.4-.3.4.1.4.1.4 1.5.4-4.5.4-3.2.4 4.1.4.3.4 1.6.4-1.1.4-1.4.4 3.1.4-2.8.4-2.7.4-1.7.4 3.4.4 6.4.4-5.1.4-1.1.4 1.4.4-4 .4 7.6.4-6.5.4.3.4 1.3.4 4.2.4-.6.4-.9.4-.3.4-5.8.4 8 .4-2.4.4-2.2.4-1.2.4 3.6.4-4 .4 1.8.4 5.4.4-5.6.4 1.7.4-.8.4 3.4.4-4.4.4 3.6.4.3.4-1.1.4-2 .4 2.5.4-3.7.4-3.5.4 6.7.4-3.6.4 2.1.4.7.4 2.6.4-6.2.4 5.8.4-2 .4-1.7.4.2.4.8.4 2.1.4-1.3.4-3 .4 0 .4 2 .4-3.1.4 7.8.4-.5.4-4.5.4 2.1.4-5.9.4 10.6.4-9.1.4-.4.4 9.8.4-7.4.4 2.8.4-4.2.4 2.4.4 1.6.4-.5.4-.9.4.1.4.3.4.9.4 2 .4-4.6.4.5.4-.9.4.8.4.1.4 1.3.4-1.6.4 5.6.4-3.2.4-.6.4 1 .4-2.4.4 4 .4-5.9.4-.2.4 3.6.4-.7.4-1.1.4-1.1.4.3.4 6.3.4-3.1.4-7.5.4 7.2.4.6.4 0 .4-3.5.4 2.4.4 2 .4-2.5.4-1.6.4.9.4 2 .4-4.3.4 4.3.4-3.9.4 2.1.4-1.4.4 1.5.4-2.7.4 1.3.4 1 .4-2.6.4.2.4 5.6.4-1.9.4-1.3.4.3.4-1.2.4 2.3.4-.8.4-2.4.4 1.3.4.4.4.4.4-3.7.4 4.8.4-2 .4 1.7.4-2.4.4-2 .4-.7.4-1.3.4 2.8.4 2.9.4 2.7.4-4.2.4-2.7.4 3.3.4-.9.4 1.3.4-4.1.4 3 .4-2.3.4 3.4.4-3.8.4 1.7.4 0 .4 1.8.4-4.3.4-.8.4-1.9.4-2.1.4 3.9.4.4.4.2.4-1.9.4 4.6.4-3.2.4-2.5.4-.9.4.2.4-4.8.4 3.1.4-1.6.4.5.4.4.4 1.1.4-2.2.4.3.4.6.4 4.9.4-2.6.4-.7.4 5.2.4-1.2.4.3.4.6.4-3.7.4 2.6.4-.5.4.9.4 3.2.4 5.8.4-2.7.4.8.4-5.9.4 5.4.4-2.2.4-2.3.4 1.1.4 3.3.4 5.7.4-7.2.4-.2.4 2.8.4-3.9.4 3.9.4.4.4.9.4-3.1.4-1.2.4-2.4.4 7.8.4-9.9.4 6.3.4 0 .4-1 .4 3.2.4 2.5.4-5.1.4 1.9.4 0 .4-2.2.4.7.4.1.4-2 .4 3.2.4.2.4-2.3.4 3.3.4-6.1.4.3.4 6.7.4-6.4.4 5.2.4-4.9.4 3.8.4-.8.4-1.1.4.5.4-.5.4-3.4.4 5.4.4-3.7.4 5.4.4-1 .4-4.3.4 4.7.4-2.8.4-4.8.4 6.7.4-2.6.4-.4.4 2.3.4 1.3.4-2.4.4.6.4-4.8.4 4.1.4-.8.4.7.4 2.5.4-.8.4 1.2.4-4.8.4-.2.4 4.1.4-3.2.4 4.4.4-5.7.4 3.7.4-.2.4-6.7.4 6.3.4 2.6.4-2.4.4.4.4 0 .4-1 .4.7.4-2.4.4 3.6.4-1.4.4-1.5.4-.4.4 1.4.4.3.4-2.9.4 1.6.4 7.5.4-4.8.4-2.6.4-.3.4-.6.4 1.4.4 1 .4 1 .4 2.5.4-2.1.4-6.4.4 1.2.4-.8.4 3.1.4 1.8.4-.3.4-5.1.4 5.4.4-5.5.4 5.2.4 1.3.4-.9.4 1.6.4-3.9.4.5.4 0 .4 1 .4-3.3.4 4.9.4 2.1.4-3.1.4-2.3.4 1.5.4-2.1.4 2.6.4-2.9.4 2.4.4-.1.4-5.1.4 9.6.4.2.4-4.6.4 3.8.4-2.4.4.7.4.2.4-5.2.4 4.8.4-1.1.4 2.3.4 1 .4-4.6.4-3 .4 3.4.4-3.4.4 6.1.4-2.5.4 3.7.4-3.9.4 5.2.4-9 .4 5.6.4-2.4.4 1.1.4 4.6.4-5.6.4 1.8.4-.2.4 2.4.4-3.6.4-.1.4-1.6.4 4.1.4.2.4-7.2.4 4.5.4 2.3.4-1.7.4.4.4-1.5.4 4.1.4 4.8.4-8.5.4.1.4 1 .4 2.9.4 1 .4-2.6.4-.3.4 2.1.4-4 .4 3.1.4-3.7.4 1.8.4 3.2.4-4.3.4.6.4-1.9.4-1 .4 5.7.4-3.4.4 2.8.4-1.8.4-.8.4 4.3.4-4.8.4 3.2.4-4.3.4 2.8.4.7.4 2.3.4-2.8.4.4.4 2.9.4-4 .4 3.5.4.9.4-1.9.4-.7.4-.3.4 1.5.4-3.5.4-.1.4-.7.4.9.4.6.4 4.9.4-2.7.4-.1.4-2.4.4 3.6.4-1 .4-.9.4-1.2.4-1.3.4 2.9.4-.7.4-1.9.4 2.1.4-.4.4 2.4.4-3.9.4.7.4-.3.4 2.6.4 0 .4-3.8.4 2.4.4-.4.4 1.5.4-2.9.4 3.2.4 0 .4-2.7.4 5.6.4-5.5.4 1.6.4 1.7.4-.5.4-3.5.4 2.8.4-2.8.4 2.1.4-2.6.4 7.2.4-.5.4-2.7.4-3.2.4.9.4 7.5.4-6.7.4-.5.4 4 .4-6.4.4-.8.4 6 .4-4.8.4 4.3"/>
<path fill="none" stroke="#38ae6c" stroke-width="10" stroke-linejoin="round" stroke-linecap="round" d="M132.5,660.4l.4-8.6.4 6 .4 4 .4-6.1.4 2.9.4 3.3.4-6 .4 4.4.4 2.4.4-3.2.4 2.6.4-3.9.4-.7.4 2 .4-4.3.4 5.7.4-2.4.4-3 .4 5.5.4-1 .4-2.3.4-.7.4 2.3.4-4.5.4 1 .4 5.5.4-2.1.4 2 .4-2.3.4 3.4.4-6.2.4 5.1.4-.5.4.5.4 1 .4-4.4.4.9.4 4.5.4-1.7.4-.6.4-5.5.4 7.6.4-3.3.4 1 .4-6.1.4 4.7.4-6 .4 7 .4-1.7.4.5.4-2.8.4 2.9.4-1.1.4-3.6.4 4.6.4-1.2.4-2.9.4 5.7.4-5.5.4 1.4.4-2.6.4.4.4 4.9.4 4.5.4-6.9.4.8.4-.1.4 3.1.4 3.1.4-4.7.4-1.2.4 2.7.4-.7.4-2.2.4.7.4-2.2.4 2.3.4-3.6.4 6.7.4-.1.4-8.3.4 0 .4 2.7.4 1.7.4 2.9.4-3.5.4 3.3.4-6.2.4 3 .4.3.4-2.2.4.2.4 3.8.4-.8.4 1.5.4-7.1.4 8.6.4.7.4.7.4-5.3.4-1.5.4 3 .4-1 .4 1.9.4-8 .4 4.8.4 1.4.4-3.1.4 0 .4 6.8.4-3 .4-3.8.4 6.6.4-5.1.4-1.3.4.2.4.4.4 2.9.4-1.5.4.7.4-1.8.4 2.6.4-3.3.4 2.7.4-3.6.4 5.3.4-.9.4-2.3.4 1.1.4-1.9.4.4.4 1.5.4 2 .4-6.7.4 3.3.4 2.6.4-4.7.4-.3.4 5.6.4-3.6.4 5.7.4-2.5.4-1.8.4-.6.4 0 .4-.3.4-.6.4-2.3.4 2.1.4 2 .4-3.4.4-.2.4.9.4 5.9.4-.7.4-1.9.4-2.9.4 3.7.4-6.8.4 6.1.4-1.4.4 5.3.4-4.1.4-2.7.4 1.7.4-2.5.4 2.9.4-2.2.4 2.9.4.5.4-5.2.4 6.3.4-10.3.4 3.5.4 5.1.4 0 .4 2.8.4-5.3.4.3.4 2.2.4-3.5.4 2.7.4-2.8.4.4.4 3.2.4-.8.4-3.6.4 5.6.4-7.1.4 4.6.4.9.4-3.1.4-2 .4.5.4 3 .4 4 .4-5.2.4-4.1.4 3.3.4-3 .4 7.6.4-1.9.4-.2.4-6.6.4 1.1.4 1 .4 2.4.4 0 .4-.9.4 3.9.4-5.3.4 5.7.4-1.5.4-3.9.4 1.3.4 5.9.4-3.9.4-4.1.4 2.7.4-.6.4 2.6.4-3.5.4 3.8.4-3 .4-.8.4 4.2.4-1.8.4-5.4.4 4.8.4-.5.4.9.4 2.1.4-6.9.4 5.4.4-2.7.4 3.1.4-4.6.4 2.9.4 3.3.4-4.1.4 2.1.4-8.8.4 3.6.4.2.4 1.9.4 0 .4 2.4.4-4.9.4 8 .4.2.4-7.1.4 3.6.4 3 .4-6 .4 1.5.4 2.2.4.2.4-2.6.4-1 .4 1.6.4-1.8.4 3.2.4-3.6.4-.6.4-1.3.4 6.9.4-6.1.4-2.3.4 4.8.4-3.1.4 3 .4-2.1.4.4.4-.2.4.7.4-1.4.4-2.1.4 3 .4.5.4-5.9.4 3.2.4 1.9.4 1.2.4 2.5.4-2.2.4-.7.4-1.9.4.6.4-1.2.4 1.7.4-7.5.4 5.2.4 5 .4-6.5.4-2.4.4 2.2.4 1.1.4 3.2.4-8.6.4 4.7.4 4.2.4-2.5.4-3.6.4 5.9.4-3.5.4-.7.4.4.4-1.8.4 4.1.4.4.4-2.7.4 1.4.4-2.1.4-1.2.4 1.2.4-1.5.4.7.4-.3.4 4.5.4-9.1.4 3.4.4 3.2.4-4.3.4 1.4.4.5.4-.6.4.7.4-2.8.4.7.4-1.8.4 1.8.4-1.4.4-2.5.4 4.3.4.4.4.3.4-.4.4 1.9.4-1.5.4-.5.4 2.7.4-3 .4-2.9.4 4.6.4-2.1.4-5.2.4 3.4.4-2 .4 4.2.4-2 .4-5.2.4 2.3.4 7 .4-3.9.4.3.4-1.5.4 1.1.4 3.1.4-2.5.4-2.3.4 1.2.4 4.4.4-3.1.4-2.2.4 5 .4-8.2.4-3.7.4 6 .4 1.4.4.3.4-5.6.4 4.3.4-1.4.4 4.6.4-.3.4-2.8.4-3.4.4 4.2.4-1.3.4-.4.4.6.4 2.6.4-6.2.4-1.5.4 4.8.4.9.4-1.6.4-5.8.4 4.6.4-1.3.4 1.7.4.3.4-4 .4 1.6.4-1.3.4 1.8.4 3.9.4-6.8.4 4.7.4-.5.4-3.9.4 5.6.4-10.9.4 13.7.4-1.8.4-5.1.4-2.6.4.6.4-1.3.4 9.5.4-9.9.4 5.1.4-6.2.4 4.9.4 1.4.4-3 .4 5 .4-4 .4 2.1.4-2.7.4-3.1.4 2.7.4 2 .4 1.2.4-4.7.4-1.5.4 2.2.4-1.5.4 1.7.4-1.2.4 2.4.4.9.4-5.6.4 4 .4-2.7.4 4.9.4-5.9.4-.6.4-1.4.4 3.1.4 1 .4-3 .4 2.8.4-8.6.4 8.8.4-.7.4-7.2.4 11.8.4-3.2.4.3.4 1.7.4-6 .4-2.2.4 10.6.4-8.8.4-4.4.4-.4.4 14 .4-7 .4.7.4-.5.4.8.4 5.1.4-8.5.4 5.1.4-3.1.4-2.4.4-1.3.4 2.5.4-1.9.4 5.5.4 2.6.4-4.4.4-3.8.4-2.9.4 1.1.4 6.6.4-.7.4 1.9.4-8.1.4 3.1.4 4.5.4-3.4.4-5 .4.5.4-2.5.4.7.4 9.6.4-9.2.4 9.1.4-1.3.4-2.6.4-4.4.4 10.5.4-4.7.4.7.4-3.9.4-5.7.4 7.3.4.5.4-7.8.4 4.9.4.7.4-5.6.4 5.1.4-.7.4 1.4.4-1.9.4-1.2.4.5.4-1.2.4 7.1.4-4 .4-4.2.4 1.9.4 4.1.4.9.4-7.6.4 5.7.4-.6.4-.4.4-5.4.4 7.8.4-6.4.4-2.6.4 12.5.4-7 .4.2.4 6.7.4-15.4.4 3.6.4-4.8.4 5.7.4 7.9.4-4.6.4.9.4-5.6.4-.6.4-.3.4 10.9.4-7.4.4 2.2.4-9.9.4 9.1.4-8 .4 4.9.4 3.1.4-.9.4 1 .4-5.8.4-.5.4 5 .4 3 .4-5.2.4.4.4.1.4-1.8.4 1.9.4-3.1.4 1.3.4 3.3.4-7.2.4 3.9.4.2.4.3.4-2.6.4 2.7.4 1.8.4 1.5.4-11.3.4 8.6.4-3 .4 6.9.4-9.5.4 2.4.4 2.5.4-8.9.4 14.8.4-3.7.4-4.9.4-4.1.4 6.3.4 1.4.4 0 .4 0 .4 2.1.4-.9.4-15.3.4 18.3.4-2.4.4-6.6.4 2.4.4 3.2.4-8.6.4 12.4.4-8.8.4 1.6.4-3.9.4 4.6.4 5.6.4-1.5.4-5.7.4-7.6.4 6.9.4-1.8.4 2.8.4-4.6.4 10.5.4-3.8.4-3 .4-.1.4 1.6.4 2.8.4-7.7.4 2.3.4 2 .4-1 .4 4.1.4-3.4.4 4.6.4-6.9.4-2 .4 3.5.4-8.2.4 6.7.4 5.5.4 2.6.4-10.6.4 4.4.4 2.3.4-8.8.4 10.4.4-.8.4 1.6.4-.4.4-6.5.4-2.4.4 6 .4.5.4 11.8.4-18.4.4.7.4 4.5.4-2.3.4-3.5.4 2.3.4 7.4.4-4.3.4 3 .4-2.5.4 9.1.4-11.4.4 4.5.4-4.6.4-1.3.4-.7.4-.8.4 2.5.4-.2.4-2.1.4 1.2.4 5 .4-6.2.4 8.9.4-1.2.4-2.9.4-1.2.4 6.2.4 0 .4 2.6.4-1.8.4-5.3.4-5.1.4 2.4.4-5.4.4 6 .4.1.4 3.5.4-4.8.4 6.3.4-1.2.4-4 .4 1.4.4-1.4.4.7.4-1.4.4-1.8.4 1.3.4 4.4.4-5.8.4.2.4 3 .4 8.3.4-5.4.4-2.5.4 3.7.4-1.9.4-11.8.4 10.8.4 2.2.4 1.4.4-1 .4.1.4-9.7.4 4.7.4 2.3.4 6.5.4-9.6.4 6.3.4.7.4 2.5.4-3.5.4 2.7.4-4.4.4-5.2.4-1.4.4 7.9.4-7.3.4 11.7.4-3 .4-2.2.4-2.8.4 1.3.4 3.7.4-2.2.4-5.6.4 10.3.4-6.5.4-1.4.4 2.3.4-.6.4 6.1.4-5 .4-2.1.4 1.5.4 1 .4-5.1.4-2.2.4 4 .4 2.5.4-6.6.4.5.4 4.1.4 2.4.4 1.4.4-5.7.4 7 .4-9.5.4 5.1.4.8.4 8.5.4-4.4.4-8 .4 7.4.4-3.7.4 1.3.4 4.1.4-5.1.4-3 .4 3.5.4 1.8.4-1.3.4-3 .4 1.8.4.6.4.6.4 3.3.4 1.5.4-5.4.4-3.4.4 6.3.4-4.5.4 8.1.4-3.8.4 1.1.4-11 .4 7.9.4 3.2.4-7.8.4 4.9.4 5 .4-2 .4-6.4.4 7.4.4-.6.4.1.4-1.5.4-.1.4-2 .4-1.3.4-4.1.4 8.3.4-.5.4-1.4.4 2 .4.6.4-5.2.4 3 .4 2.2.4 3.9.4-6.8.4 2 .4-2.9.4 0 .4 7.3.4-13.7.4 12.7.4-6.3.4 1 .4 1.9.4.5.4 2.1.4 1.2.4.4.4-9.7.4 5.9.4 1.3.4.3.4-6.8.4 11 .4-1.9.4-3.7.4 11.3.4-14.8.4 3 .4.4.4 3 .4-4.6.4.2.4 6.7.4-4.9.4 4.4.4 1.7.4-6 .4-2.3.4 1.8.4 3.7.4 2.4.4-2.9.4-5.5.4 5.5.4 5.5.4-.5.4-8.1.4 3.5.4.6.4-7 .4 7.2.4-7.7.4.6.4 2.7.4-2.2.4 5.9.4.9.4-3.4.4 1.1.4 4 .4-1.5.4 6.5.4-2.5.4-11.2.4 5.5.4-1.9.4-1.7.4 8.8.4-3.7.4-4.2.4 9.9.4 0 .4-6.2.4 3.2.4-4 .4 2 .4-5.4.4 4.3.4 2.2.4-3.5.4 8.1.4-8.7.4 4.7.4 0 .4-6.4.4 9.9.4-3.4.4 3.1.4-2.9.4.7.4 5 .4-6 .4 1.2.4-3 .4 3 .4-1.4.4.5.4 4.7.4-6.2.4 2 .4-1.3.4 9.8.4-8.4.4-1.1.4 1.8.4-5.6.4 10.6.4-8.5.4.4.4 5.2.4-6.1.4 9 .4-3.9.4 4.1.4-10.9.4 5.5.4 2.6.4-4.2.4 8.4.4-4.9.4-1.5.4 1.7.4 2.4.4-3 .4.2.4-1 .4 2.9.4-1.6.4-.3.4 4.3.4-4.9.4-2.5.4 2.8.4-1 .4-.9.4 5.1.4-2.1.4.4.4 4.5.4-2.5.4-1.3.4-2.1.4 4.7.4-4.6.4 6.1.4-.9.4-4.5.4 3 .4.5.4-2.4.4 1.5.4 3 .4-10 .4 6.6.4.7.4-.1.4-3.7.4 1.3.4.6.4 6.7.4-8.4.4 5.1.4 1.1.4-3.8.4 6.7.4-7.1.4-1.9.4 1.2.4 2.3.4 2.3.4-6.6.4.4.4 6.9.4-1.5.4-4.2.4-1.9.4-1.7.4 2.6.4 5.9.4-4.5.4 6.1.4-3.6.4-4.6.4 7.6.4-2.9.4-.2.4 2.5.4-4.3.4 12.1.4-12.1.4 1.6.4.5.4 6.2.4-4.9.4-4.3.4 6.6.4-4 .4.4.4-2 .4 6.6.4-2.6.4-3.4.4.9.4 4.2.4-7.6.4 7.8.4-9.5.4 7.8.4-2.7.4 2.7.4-1.9.4 7 .4-7.4.4-1 .4 2.1.4-3.3.4-2.1.4 3.6.4 1.1.4-3.1.4 5 .4-2.9.4 5.2.4-1.7.4-9.6.4 8.1.4.1.4-5.3.4 7.2.4-6.8.4 3.4.4-.1.4 6.5.4-8.2.4 5.2.4-2.3.4.1.4-4.4.4 14.7.4-15.5.4 4 .4 5.5.4-4.7.4 1.9.4-3.2.4 4.4.4-.2.4.1.4-3.8.4.2.4.3.4-7 .4 7 .4 6.5.4-8.9.4 6.8.4-3 .4-.3.4-4.3.4 8.8.4-6.4.4 3 .4 1.7.4 1.6.4-2.7.4-.4.4-1 .4 4.8.4-8.5.4 3.5.4-.2.4 2.3.4-.4.4 1 .4-4 .4.8.4 4.3.4 3.4.4-6.5.4-1.5.4 4.5.4-2.2.4-5.3.4 9.2.4-4.4.4 3 .4-4.7.4-2.8.4 5.6.4.3.4 1 .4-.3.4 4.4.4-2.2.4-1.8.4-2.7.4-2.4.4 5.6.4-2 .4.8.4-2.3.4 2.3.4.3.4-.4.4-.7.4-1.3.4 3.8.4-.3.4-5.3.4 1.3.4.1.4.3.4 0 .4-1.1.4-2.3.4 9.2.4-5.9.4 1.6.4 4.5.4-2.1.4 2.4.4-6.3.4 2.7.4 3 .4-3.6.4-1.8.4 3.5.4 2.8.4-8.9.4 7.7.4-.9.4-5.1.4 1.7.4 3 .4-7.5.4 5.6.4 1.2.4-1.7.4.2.4-5.8.4 2 .4 3.6.4 8.9.4-7.4.4 1.1.4-.9.4 1.9.4-5.6.4 10.4.4-8.6.4-3 .4 3.7.4 1.8.4 0 .4-4.7.4 5.4.4-2.3.4 6.2.4-5.7.4 5.8.4-9.5.4 5.2.4 4.9.4-1.9.4-1 .4-1.9.4 1.4.4 1.2.4-7.3.4 6.6.4.1.4-4.6.4 4.5.4-4.9.4 1.1.4 3.7.4-9.6.4 5.3.4-1.9.4 2.2.4-1.9.4 2 .4 1.8.4 1.5.4.1.4 2.6.4-.6.4-.2.4-4.4.4 1.4.4 2.1.4-7 .4 3.3.4 1 .4-.6.4 1.3.4-.1.4 5.1.4-6.2.4-3.7.4.9.4.8.4 3.5.4 2.5.4-1.3.4-4 .4 4.3.4 3.8.4-6.4.4.5.4 3.1.4-1 .4-4.7.4-4.8.4 3.7.4 8.2.4-8.1.4 4.5.4-.5.4-1.6.4-2 .4 2.5.4-.3.4 5.5.4-3.2.4 7.3.4-4.1.4-2.4.4-5.7.4 4.3.4-1.7.4 2.4.4-2.4.4.2.4 7.3.4-5.7.4.8.4-1.8.4 1.9.4 4.8.4-8.8.4 3.7.4-1.3.4 3.3.4-6.3.4 8.6.4-2.6.4-.9.4-3.8.4 3.4.4 4.8.4-3.1.4-4.4.4-.4.4-1 .4 7.5.4-6.1.4.7.4 2.5.4-6.3.4 5.2.4 3.1.4 1.7.4-2.7.4-3.7.4 3.7.4-1.8.4.2.4 2.1.4-6.5.4.7.4 9.5.4-8.8.4 3.1.4-4.9.4 5.2.4 1 .4-5.7.4 8.4.4-4.6.4 6.7.4-8.8.4 4 .4 3.4.4-.7.4.5.4-1.5.4-2.3.4 2.1.4-1.1.4-3 .4 3.5.4 1.3.4-.7.4-10.2.4 7.8.4 0 .4.9.4 1.4.4.9.4 0 .4-2.1.4 2.9.4-6.1.4 3.3.4 4.2.4-3.7.4-3.9.4 2.8.4-.6.4-2.8.4 3.2.4 1.7.4-4.9.4 4.9.4-8.9.4 5.1.4 3 .4.1.4 1.5.4-3.3.4-.9.4-4.7.4 4.4.4-1 .4 5.9.4-.9.4-1.3.4 2.5.4 1.4.4-2 .4-3.6.4-1 .4 4.8.4 3.9.4-4.7.4-3.3.4 3.2.4-4 .4-2.4.4 5.7.4-2.5.4 5.8.4-12.5.4 6.7.4 2.1.4-1.6.4 1 .4 3.9.4-7.8.4.5.4 0 .4 6.6.4-4.3.4 1.6.4-4.7.4 1 .4 2.7.4 9.2.4-10.5.4-1 .4 5.5.4-1.1.4-8.9.4 8.6.4-3.2.4 3.1.4-1.1.4 4.4.4-3.9.4-2.5.4 4 .4-5.7.4-.9.4 5.6.4-4.2.4 5.4.4-.9.4-.7.4 2.9.4-.6.4-1.1.4.6.4-.3.4-.5.4-4.4.4-4.6.4 2.9.4 2.5.4 4.3.4-6.4.4 3.9.4.4.4 1.2.4 1.3.4-2.1.4.4.4-5.3.4 3.8.4 0 .4 6.2.4-.7.4-.3.4-3.4.4-.8.4-1.9.4 1.4.4-3.8.4 2.8.4-.5.4 1.8.4 11.2.4-6.1.4-7.1.4 6.9.4-6.1.4-1.4.4 3.4.4-1.7.4-1.6.4 1.9.4 1 .4 6.5.4-8.9.4 1.6.4 5 .4-5.8.4.9.4-1.8.4 2.3.4 1.3.4-3 .4 6.5.4-8.1.4 2.7.4-.2.4.8.4-3.7.4 1.8.4 1.8.4 3.1.4-1 .4-1.7.4-.2.4 5.4.4-5.1.4.9.4-.2.4.6.4.3.4-1.5.4 3.3.4-.6.4-1.5.4 4.5.4-8.5.4 3.7.4 1.7.4-4.2.4 3.6.4-2.1.4-2.5.4 5.1.4-4.6.4.9.4 1 .4-1 .4-.1.4.9.4-.5.4 4.5.4-3.4.4 4.4.4-5 .4 3.9.4-4.9.4-2.3.4 3.9.4-5 .4 8.5.4-1.7.4-.6.4-1.9.4 1.1.4-1 .4 5.6.4-3.5.4-2.8.4-.6.4 4.7.4-2.5.4 3 .4-2.5.4 1.9.4-8.8.4 7.7.4-3.4.4 4.5.4.2.4-1.1.4-1.4.4.1.4.1.4.1.4-4.1.4 5.1.4-1 .4-1.8.4 4.8.4-4.4.4 2.6.4 1.4.4 2.6.4-5.5.4 1.8.4-6.4.4 4.2.4-1.2.4 2.3.4-5.5.4 6.6.4-.6.4 1.9.4-3.1.4-.4.4.3.4 1.6.4-5.8.4 7.3.4-4.3.4-4.1.4 6.1.4 4.5.4-7.2.4-1.3.4-4.5.4 2.5.4 5.8.4-2.9.4 3.4.4-3.2.4 3.5.4-3.9.4 5.7.4-5.2.4 7.7.4-7.5.4.1.4 4.9.4 1.2.4-7.8.4-1.7.4 8.1.4-4.8.4-2.2.4 7 .4-7.9.4 4.4.4 1.4.4 1 .4.5.4-5.6.4 3.8.4-.1.4 3.2.4-2.8.4-4.7.4-.6.4 2.2.4 8 .4-7 .4-2.5.4 3.4.4 2.3.4-1.8.4-1.8.4 5.5.4-1.8.4.3.4-6.2.4.6.4.2.4 1.6.4.5.4-4.5.4 1.1.4 3.4.4.6.4 4 .4-5 .4 2.7.4-8.4.4 6.6.4-5.5.4 1.7.4 2.8.4-.1.4-2.2.4 3.7.4-6.9.4 3.4.4 1.9.4-2 .4 1.9.4 4.9.4-7.2.4 1.1.4-2.4.4-1 .4 2.9.4 3.1.4-5.1.4 5.3.4-2.4.4-4.3.4-.8.4.3.4 4.3.4-1.9.4 3.9.4-4 .4 1 .4 1.4.4 3 .4-9.9.4 6.9.4-3.4.4 1.9.4-3.7.4 4.5.4-6.6.4 3.1.4-.5.4 1 .4-6.9.4-2 .4 8.8.4-2.4.4-5.2.4-.5.4-4.7.4 6.7.4-10.7.4 3.7.4-3.6.4.5.4-2.4.4-9.3.4-3.1.4-.3.4-9.5.4 2.8.4-6 .4-12.2.4 5 .4-12.5.4-.3.4-9.9.4 3 .4-7.6.4-3 .4 5.3.4-2.7.4 1.2.4 4.1.4 7.8.4 5.6.4 3 .4 5.2.4 6.4.4 3 .4 10 .4 4.2.4-2.1.4 4.3.4 12 .4-2.7.4-1.8.4 5.4.4-.2.4 2.4.4 5.5.4-3.6.4 1.4.4 2 .4 2.6.4-.9.4 6.9.4-6.7.4 5.4.4-5.1.4-.2.4 3.5.4.3.4-4.4.4 2.7.4 5.8.4 1.7.4 1.6.4-.9.4-5.5.4 2.9.4 0 .4-1.7.4 3.9.4-2.1.4 3.2.4-.3.4.7.4-1.3.4-3.3.4-.3.4 3.3.4-.7.4 3.1.4-6.4.4 6.2.4-2 .4-4.4.4 6.6.4-1.5.4-2.1.4-.5.4 5 .4-5 .4 6.6.4-5 .4 2 .4-.6.4-.2.4.8.4-3.7.4 6.7.4-1.7.4-.5.4-1.3.4-.2.4 3.7.4-3.7.4-.9.4-1.2.4-1.3.4 6.1.4-1.4.4-4.6.4 3.9.4.6.4 3.5.4-3.1.4 1.6.4 5 .4-11.4.4 8.7.4-3.1.4-.7.4-2.9.4 1.6.4 3.1.4-5.1.4-.4.4 6.4.4-3.6.4-.3.4-2.8.4 3.2.4 0 .4 0 .4-.1.4 1 .4 1.8.4-5.2.4 3.1.4.6.4-1.9.4.4.4-2.9.4-.2.4 2.5.4 1.5.4 1.8.4 3.3.4-3.5.4 1.9.4-4.8.4 1.1.4-.7.4-1 .4 6.1.4-5.2.4 1 .4 3.6.4-4 .4 2 .4 1.3.4.9.4-2 .4-3.2.4 1.2.4 1.2.4-1.8.4-1.2.4 5.1.4 2.4.4-4.5.4-5.1.4 11.4.4-7.1.4.7.4.9.4-2.2.4 4.6.4-1.4.4.7.4-1.6.4-1.2.4 3.1.4-5.5.4.3.4 3.1.4-.4.4-3.6.4.6.4.2.4 5.5.4-5.1.4-1.2.4-.6.4 4.2.4-3 .4 1.8.4 5.1.4-3.5.4-5.9.4 7.1.4-5.9.4 2.4.4 3.2.4-4.1.4-1.8.4 5.6.4-9.3.4 5.3.4 2.8.4-.8.4-5.2.4 5.3.4 2.5.4-7.9.4 5.5.4.5.4 3 .4-1.1.4-4 .4-.2.4 3 .4-5.9.4 7.7.4.5.4-.7.4-3.2.4-.9.4-1.2.4 2.3.4 3.1.4-2.9.4-1.2.4 3.7.4-2.5.4 1.2.4-2.4.4 4.3.4-1.3.4-4.2.4 5.9.4-3.5.4 2.4.4-1 .4-5.7.4 3.2.4 7.5.4-6 .4-1 .4 0 .4-.8.4 2.1.4 4.2.4-5.8.4-1.9.4 3.7.4-3.6.4 2.9.4 5.3.4-2.4.4-4.1.4 8.4.4-7.4.4 4.4.4-4.2.4-1.8.4.8.4.8.4 3 .4-2 .4 2.2.4-3.8.4 6.7.4-.7.4-5.4.4.2.4-.3.4-3.9.4-2.7.4 6.6.4-.9.4 5.1.4-3.8.4 3.9.4-2.2.4-4.1.4 8 .4-2.8.4-2.1.4 5.3.4-8.7.4 5.8.4 1.1.4-2.1.4 1.8.4-6.1.4 2.6.4.7.4-1.4.4 5.4.4-7.3.4 5.2.4-3 .4 1.5.4-1.1.4-1.9.4 4.3.4-6.8.4 3.9.4 2.4.4-4.4.4 2.8.4-1.3.4-4.3.4 4.9.4 2 .4-2.9.4 4.2.4-7.5.4 3.7.4 2.1.4-3 .4 1 .4-1.8.4-.9.4 4.2.4 6 .4-8.6.4 1.5.4 1.5.4-3.6.4 4.7.4-3.4.4 4.4.4-4.1.4-3.3.4 4.9.4-6.4.4 6.8.4-5.8.4 0 .4.4.4 4.9.4-3.8.4 4.8.4-1.9.4-1.6.4.4.4-2.3.4.7.4-2.5.4 2.2.4-2.5.4 3.8.4-1.5.4-.8.4 2.2.4-5.1.4 4.6.4-1.6.4-7.4.4 5.2.4.5.4-3.1.4 3.9.4-7.4.4 1.9.4-.9.4 5.8.4-3.2.4-5.3.4 7.4.4 0 .4-1.8.4-8.6.4 2.1.4 1 .4.4.4.6.4-2 .4 1.9.4-2.2.4-3.7.4 2.6.4-2.5.4 1.7.4 3.9.4 1.3.4-.9.4-5.1.4 1.6.4 4.4.4 1.6.4-6.5.4 1 .4 3.8.4 1.8.4 1.1.4-2.3.4 6.2.4-7.9.4 5.6.4 1.3.4 1.3.4-1.3.4 3.1.4-2.1.4-4.1.4 3.8.4 1.7.4-3.7.4 8.9.4-9.4.4 5.1.4 3.1.4-4.7.4 5.4.4-7 .4-.3.4 4.7.4 1.4.4 1.8.4-.1.4.6.4.5.4-1.6.4-.2.4-3.1.4-2.2.4 7.3.4 1.8.4-5.7.4.6.4 1.5.4-4 .4 2 .4.6.4-3.7.4 7.3.4-4.2.4 1.9.4-4.4.4-1.3.4 4.7.4.2.4-.4.4.5.4.4.4-1.8.4 1.9.4 2.9.4 1.6.4.4.4-6.9.4 2.6.4-.9.4-.1.4 5.2.4-5 .4-.4.4-.9.4 1.6.4-1 .4 2.2.4-1 .4 5.1.4-2.5.4-5.3.4 3.2.4 1.3.4 1.2.4-5.2.4 0 .4 2.1.4 3.2.4-.8.4-.1.4-6.7.4-1.6.4 5.5.4 1.4.4-.2.4.9.4-3.6.4 8.8.4-9 .4 5.6.4 1.2.4-7 .4 2.7.4 1.3.4-1.4.4-2.3.4 3.8.4-1.1.4-.7.4 2.3.4.3.4-1.6.4-.7.4 1.7.4-4.2.4 1.4.4 3.6.4-.3.4.5.4-3.8.4 2.8.4-2.8.4 2.2.4 1.3.4-4.9.4 3.5.4-1.1.4 1.8.4 4.1.4-5 .4 2 .4 1.6.4-4.7.4 1.2.4 1.8.4-1.1.4.9.4.3.4-1.6.4-2.6.4-.2.4 2 .4 2.9.4 1.5.4-3.4.4-1.8.4-.1.4 2.4.4-1.8.4 1.3.4.9.4 3.4.4-.6.4-6.8.4 4 .4-3 .4 5.5.4-.3.4-5.9.4 5.7.4-1 .4 1.1.4 3.2.4-2.7.4-.9.4-3 .4 1.1.4 1.3.4 2.4.4-4.9.4-2 .4 7.5.4-.1.4-5.4.4 7.1.4-3.7.4.7.4-3.8.4 5 .4-4.2.4-1.7.4 2.5.4 3.5.4-.1.4-.3.4-3.5.4 2.8.4-2.8.4 2.9.4-2.8.4-.8.4.8.4.7.4-1 .4 1.9.4-1 .4-1.5.4 3.8.4-2 .4-.4.4-1.3.4 5 .4-2.2.4-3.4.4 4 .4.8.4-3.5.4.9.4.2.4 3.3.4-1.9.4 2 .4-.6.4-2.6.4-.5.4 1.6.4-3 .4 3.8.4-1 .4 2.7.4-2.2.4-1.6.4 5.2.4-1.6.4.1.4 2 .4-3 .4-2.9.4 5.4.4-4.8.4.3.4-1.4.4 2.7.4.8.4 1.4.4-3.5.4.4.4-2.2.4 0 .4 3.2.4-3.4.4 3 .4.9.4-1.5.4 3.3.4-2.5.4-.2.4-.1.4-2.5.4 4 .4-1.9.4 0 .4.4.4.4.4 1.2.4-4.2.4 4.4.4-4.7.4 3.3.4.3.4-.5.4 3.4.4-6.3.4 4.4.4-3.9.4-2.7.4.5.4 4.3.4-.9.4 4.8.4-1.1.4-5.3.4 3.8.4-2.3.4 2 .4 4.2.4-4.6.4-1.6.4.7.4 1 .4-1.4.4 2.5.4-.8.4 4.4.4-8.7.4 2.3.4.5.4 1.4.4-.5.4-.3.4 1.6.4 2.2.4-3.3.4.3.4-4.7.4.5.4 0 .4 3.8.4-3.8.4 4.4.4-.2.4 2.2.4-5.6.4 3.5.4.5.4-6.2.4 4.1.4 1.9.4-2.9.4 3.7.4-1.3.4 5.7.4-8.9.4 3.3.4-.2.4-3.7.4 3.1.4 3.9.4-6.4.4 6.4.4-5 .4-1.2.4.4.4.4.4 1.3.4-1 .4 2.5.4-.6.4 1.1.4-.4.4 1.1.4-2.5.4-3.2.4 2.6.4 2.6.4 3.1.4-9.1.4 5.8.4 2.3.4-1.5.4-3.5.4 2.1.4-2.4.4.7.4 2.8.4-.3.4-1 .4-1.2.4.2.4-1.4.4-.6.4 1.5.4 3.3.4.9.4-2.3.4-1.2.4 2.3.4-1.4.4.6.4-3.9.4 4.7.4.9.4-5.2.4.5.4 6 .4-1.4.4-2.3.4 1.5.4-3.5.4 2.6.4-3.6.4 6.7.4-6.4.4.4.4 0 .4-1 .4 3.6.4-3.4.4 9 .4-7.2.4-.1.4 4.4.4 1.8.4-3.9.4-4.4.4 2.5.4 3 .4-3.2.4.3.4 2.6.4-1 .4 3.7.4-3.2.4-2.3.4 2.8.4-3 .4.5.4 2.4.4 1.2.4-3.5.4 2 .4-2.7.4 1.3.4 1.1.4-2.7.4 4 .4-4.5.4-1.2.4 3.9.4.1.4.2.4-3.8.4 6.4.4-4.2.4 2.4.4-5.6.4 4.4.4-.6.4 1.8.4-1.2.4-3.1.4.8.4 2.6.4.4.4 5 .4-7.5.4.4.4-2.6.4.5.4 2.1.4-.9.4 4.1.4-1.1.4-2.3.4-2 .4 3 .4-1.9.4 3.5.4-1.1.4-3.5.4 3.3.4 3.7.4-8.4.4 3.8.4.6.4 1.3.4-2.4.4-.4.4 2.5.4-.2.4 1.4.4-2.5.4 3.6.4-4.2.4.2.4.4.4-.4.4-.8.4-1.8.4 7.1.4-5.7.4 1.8.4 1.3.4 1.7.4-.5.4-2.8.4-.5.4 1.6.4 2.6.4-6.5.4 1.9.4.1.4.1.4-3 .4 2.2.4 4 .4.9.4 2.4.4-5.4.4-4 .4 5.4.4-2 .4 1.3.4-5 .4 4.8.4-.3.4-3.9.4 3.6.4 3.7.4-4.5.4.5.4-.3.4.7.4 2.1.4-1.3.4-.2.4-4.4.4 6.2.4-1.2.4-2.6.4 0 .4 1.3.4 1.9.4-5.6.4 4 .4-.5.4 3.7.4-3.2.4.1.4-2.6.4-2 .4 3.8.4 1.5.4 2.7.4-1 .4-1.2.4-2.2.4.9.4.9.4-1.4.4 2.6.4-1 .4-3.4.4 1.1.4 4.7.4-5 .4-.3.4-.7.4 2.1.4 1.6.4-3.7.4 3.5.4-5.1.4 3 .4 1.1.4-.8.4 4.5.4-4.5.4 1.5.4-4.1.4 5.4.4-1.9.4-.2.4-.6.4 1.5.4-2.1.4.3.4 2.4.4-3.5.4.9.4-.6.4 6.4.4-3.4.4-.8.4 3.4.4-5.9.4.3.4 3 .4.5.4-1.6.4.4.4 1.9.4-1.5.4-1.2.4-.9.4 1 .4 1.4.4-4.1.4-2.1.4 3.5.4.7.4-1.1.4 3.1.4-2.1.4.9.4-1.9.4 1.8.4-1.1.4 1.9.4-2.6.4 3.2.4-.4.4-2.4.4 4.1.4-2.7.4-1.3.4 1.9.4-1.4.4 2 .4-3.8.4 4.5.4-1.1.4-1.6.4 1.9.4.6.4.6.4-3.9.4-3.1.4 3 .4.3.4-1.7.4 1 .4.9.4-3.3.4 7.7.4 1.6.4-6.3.4 3.2.4-1.9.4-2.5.4 2 .4-2.8.4 9.1.4-8.1.4-.5.4 1.8.4.1.4 1.6.4 1.4.4-2.1.4-.9.4-2.2.4 4.5.4-5.5.4.7.4 1.6.4 4.4.4-5.1.4 3.3.4-1.6.4 1.1.4 4.6.4-8.4.4.2.4 4.7.4-2.2.4 2 .4 1.5.4-6.3.4 3.1.4-.8.4-1.1.4-2.6.4 6.5.4-.8.4-.9.4 1.6.4-1.7.4 1 .4 1.3.4-2.1.4.8.4-2.3.4 1 .4-2.6.4-.7.4 3.1.4 3.3.4-7.4.4 1.7.4-1.7.4 2.5.4 5.1.4-1 .4-.2.4-2.1.4 1.3.4 0 .4-1 .4 3.2.4-6.1.4 2.4.4.9.4-4.1.4 3.2.4-1.5.4 4.6.4-3.9.4-1.4.4 2.1.4 2.3.4-1.7.4 3.4.4-4.8.4-3.4.4 5.1.4-1.3.4 1.6.4 1.7.4-1.9.4-.9.4-1.1.4-.5.4 1.4.4 2.5.4 2.4.4-2.9.4 1.7.4-1.2.4-.4.4-6.2.4 4.2.4-.1.4-.4.4-.4.4-.8.4 2.7.4.4.4-1.2.4 2.1.4 3.4.4-4.2.4-.9.4-2 .4.2.4 4.5.4-1.8.4-4.3.4 4.2.4-4.1.4.8.4 5 .4-1.1.4 0 .4-6 .4 6.2.4 1.4.4-4.6.4 3.3.4-3.7.4 1.4.4.5.4-2.7.4.3.4 4.5.4-4.8.4 2.9.4.3.4 1.2.4-1.1.4-3.6.4 4.2.4-4 .4 5.1.4-6 .4 3.3.4-1.1.4-1.2.4.7.4-1.2.4.6.4-.6.4 3.9.4-3.7.4.9.4 6.9.4-1.5.4-3.6.4 0 .4 4.2.4-4.8.4.7.4 3.2.4-6.5.4 6.5.4-5.1.4.2.4 2.3.4 1.7.4.4.4-7.7.4 5.4.4 1.6.4-.4.4 0 .4-1 .4 3.4.4-3.4.4-.6.4 4.6.4-3.1.4 2.3.4-2 .4.2.4.8.4-9 .4 8.5.4-2 .4 3.9.4-8.2.4 4.2.4-1.1.4 6.4.4 0 .4-9.7.4 6.2.4 2.1.4-.4.4-4.4.4 4.4.4-5.3.4 6.3.4-.1.4-6.4.4.6.4 6.6.4-1.4.4-2.6.4 2.1.4-6.4.4 5.4.4-2.9.4 2.1.4 1.8.4-3.1.4 2.7.4-4 .4 2.2.4 1.6.4-1.3.4-1.5.4 1.7.4-2.1.4 2.6.4-1.5.4 3.9.4-2.2.4 1 .4-3.3.4 4.4.4-1.2.4 1.9.4-4.1.4-2.5.4 3.2.4-2.2.4 2 .4 2.2.4-2.5.4 1.4.4-1.2.4-.5.4 2.2.4-2.5.4 4.5.4-4.2.4.2.4-4.8.4 1.2.4 4.2.4-.8.4.8.4 2.3.4-7.4.4 5.8.4-5.8.4 2.6.4 1.3.4 3 .4-4.8.4 5.2.4-2.7.4 1.7.4.7.4-2.4.4-6.6.4 9.2.4-2.9.4 3.2.4-4 .4-.2.4 2 .4 1.1.4-.6.4-.9.4.7.4-3.3.4-1.2.4-.2.4-1 .4 5.9.4-.9.4 1.3.4-.9.4 4.1.4-6.9.4.5.4-2.3.4 9.2.4-2.5.4-4.8.4-1.7.4-1.1.4 3.7.4 5.7.4-1.3.4-3.3.4-2.1.4 5.5.4-2.9.4 2.8.4-2.1.4-.1.4.1.4-2.5.4 3.5.4-1.9.4-3 .4 7.1.4-2.7.4-3.5.4 5.1.4-3.8.4 1.2.4.7.4.2.4-1.2.4-3.4.4 2.6.4.9.4 1.9.4-4 .4 1.1.4 4.6.4-6.4.4 2.8.4-2.6.4-.2.4.5.4 3.9.4-.8.4-1.2.4 1.2.4.9.4-2.5.4 1.5.4-.3.4 1.8.4-1.6.4-.9.4-1.6.4 8.6.4-8.3.4.5.4 0 .4-2.5.4 3.9.4-.9.4-2.1.4 3.4.4 1.1.4-3.8.4 1.8.4-4.3.4 1.5.4 4.7.4-4.2.4 1.7.4-.2.4-.4.4.7.4-.1.4.6.4-.2.4.1.4-2.7.4-.3.4 5.1.4 2.1.4-7.5.4 2.8.4-.2.4-1.5.4 2.8.4.2.4 2.4.4-6 .4 3.7.4-1.9.4.6.4.6.4-.3.4 2.9.4-3.2.4 2.1.4-6.9.4 5 .4 2.6.4-4.4.4.4.4 3.2.4-.2.4 1.9.4-2.9.4-.8.4-2.7.4 6.9.4-6.4.4-.7.4 2.5.4 3 .4-3.8.4 1.5.4-4.6.4 5.6.4.3.4 1.9.4-1.9.4-2.9.4 4.9.4-8.2.4 5.9.4.5.4 1.6.4-1.8.4-.5.4-3.4.4 1.8.4 2.8.4-3.6.4 1.6.4-1.1.4 1.2.4 1.7.4-.8.4 3.1.4-5.4.4.6.4.9.4 1.4.4-1.6.4-1.7.4.5.4.2.4-.2.4 1.5.4-1.8.4-1.6.4.7.4 3.8.4-1.7.4 3.5.4-3.8.4 2.7.4-1.3.4-1.5.4-.4.4-.6.4 3.9.4-1.1.4-.5.4.9.4-3.2.4 4.6.4.2.4-2.9.4 1.8.4-5.2.4 2.4.4-.9.4.4.4 4.5.4-2.4.4 1.5.4-2.6.4-.1.4.7.4.4.4-5.3.4 2.7.4-2.3.4 3 .4 5.6.4-4.4.4-4 .4 5.5.4-3 .4-1.2.4 4.1.4-2.5.4-1.2.4 4.5.4 1.7.4-4.1.4 2.1.4-4.1.4 1.8.4-2.1.4 2.2.4 1.3.4-3.4.4.4.4.3.4-1.2.4 6 .4.4.4-4.6.4 1.5.4 2.4.4-2.7.4 2 .4-8.4.4 2.4.4 3.5.4 1.2.4.4.4.4.4-2.2.4 1.6.4-.8.4 1 .4-3.5.4 2 .4-.4.4 1 .4-3 .4 5.3.4-2.4.4-4 .4 3.2.4-.6.4-.5.4 1.5.4-1.9.4 5.1.4-.3.4-1.9.4-2.4.4 3.3.4-3.4.4 2.2.4-.3.4 1 .4-2.4.4 5.5.4-2.6.4-1.6.4-.4.4-2.3.4 1.6.4 1.4.4-4.1.4 2.5.4-.7.4.7.4-1.4.4 1.4.4-.6.4-3.9.4 3.7.4 4.2.4-6.5.4 1.1.4 1.5.4-1 .4.7.4-3.8.4 4.3.4-5 .4 3.5.4-2.8.4.6.4.9.4-2.9.4 5.6.4-6.8.4 6.1.4 1.9.4-5 .4-1.7.4-.9.4 4.2.4-4 .4-2.3.4.1.4 3.7.4-3.7.4-1.8.4 1.5.4-3.2.4-.5.4 3.1.4-1.7.4-3.8.4.7.4 2.1.4 1 .4-.7.4-6.7.4 3.6.4 2.6.4 1.4.4.5.4 2.6.4.9.4-1.5.4 1 .4 4.3.4.7.4-.5.4-3.5.4-1.4.4 7.3.4-5.8.4 1.8.4 1.2.4-1 .4.2.4 2.9.4 4.2.4-2 .4-.1.4-3 .4-2 .4 1.5.4 4.2.4.8.4 2.2.4-4.7.4 3.1.4-3.2.4 3 .4-4 .4 1.3.4.9.4 1.4.4-5.4.4 2.4.4 3.4.4-2.9.4 1.6.4 2.9.4-4.4.4.1.4 1.5.4-4.9.4 7.9.4-5.2.4 1.6.4-.4.4 1.5.4-1.5.4.4.4 1.6.4.5.4-.9.4-1.7.4-.4.4 1.8.4 2.7.4-7 .4 4.3.4-.4.4-7.3.4 7.2.4 2.1.4-1.3.4-.9.4-1 .4 1.8.4-.1.4-3.5.4 2.1.4.9.4 1.3.4-.1.4-1.9.4 1.6.4-.5.4 1.1.4 1.4.4-7.7.4-1.2.4 4.8.4 3.9.4-.2.4-1.5.4 1.1.4-4.3.4 1.5.4.4.4-.5.4-.5.4 5.1.4-1.6.4-4.6.4 5.4.4-2.9.4 2.5.4-3.7.4 1.2.4-2.2.4 3.3.4-4.7.4 0 .4 1.3.4 1.4.4 4.5.4 0 .4-1.9.4-1.6.4-.7.4 2.1.4-.2.4-.2.4-.4.4-1.6.4-.5.4 1.2.4 4.5.4-4.3.4 1.2.4-.7.4 2.4.4-.2.4-2.3.4-1.7.4-3.9.4 6.3.4-2.7.4-2.5.4 6 .4-4.8.4 7 .4-5 .4 0 .4 0 .4 2.9.4-2 .4 2.6.4-3.4.4.6.4 1.3.4-.8.4-1.9.4.6.4 2.3.4-2.2.4-.9.4 2.1.4-5 .4 6 .4.6.4-3.5.4 3.1.4-.2.4.2.4-2.4.4 2.5.4-3 .4 3.3.4.6.4-4.4.4-1.3.4 4.7.4-4.4.4-.6.4 3.7.4-2.7.4.5.4 5.6.4-6.7.4-.3.4 4.7.4-1.3.4 2.2.4-6 .4 3.3.4 2 .4.5.4 2.7.4-1.8.4-9.8.4 5.7.4 3.3.4-4.1.4 3.3.4-.1.4-5.4.4-2.2.4 6.1.4-1.8.4 3.4.4.5.4-2.5.4 2.8.4-2.7.4-.9.4-1.1.4 4.1.4-4.2.4-.7.4 2.3.4 3 .4.1.4-3 .4 2.7.4-2.3.4 3.2.4 0 .4-1.1.4-1.5.4-2.1.4-.5.4 3.8.4 1.8.4-2.4.4 2.4.4.5.4 1.5.4-5 .4-1.2.4 4.7.4.1.4.5.4-.9.4-.3.4-2 .4 2.6.4-5.3.4-.7.4.9.4.8.4 2.1.4.8.4-6.1.4 5.7.4-3.1.4 3.3.4 1.5.4 2.6.4-6.6.4-1.1.4 4.9.4-4.1.4-1.7.4 4.7.4-.6.4.3.4-4.7.4.6.4 1.8.4-1.9.4 7.7.4-6.3.4-2.1.4 5.9.4-6.4.4 1 .4 2.6.4 1.2.4 4.4.4-3.3.4-1.3.4-2.5.4 4 .4-3.1.4 4.4.4-2.4.4-3.6.4 4.4.4-6.1.4 1.7.4 5 .4-.5.4-.3.4-2.1.4-.7.4-.6.4 2.4.4-1.9.4 3 .4-5.9.4 5.6.4-1.4.4-3.9"/>
<path fill="none" stroke="#1b70e0" stroke-width="10" stroke-linejoin="round" stroke-linecap="round" d="M132.5,814.4l.4-2.4.4.1.4-1.2.4-.6.4-.5.4 4.4.4 1.3.4-1.5.4-.3.4 0 .4-1 .4 2.4.4-3.8.4 4 .4-2.7.4.2.4-2.6.4 2.8.4 5.2.4-5.6.4-.7.4 1.7.4 1.3.4.1.4-3.8.4-1.1.4.2.4 2.2.4-4.3.4 7.8.4-4.9.4.9.4 4.1.4-5.9.4 2.3.4-1.6.4 2.8.4-2.8.4 2 .4-2.4.4 4 .4-3.4.4-1.7.4 3.4.4-5.3.4 8.2.4-2.5.4-.4.4-.5.4 2.5.4-2.7.4-.5.4-.9.4 1.7.4 3.1.4-6 .4 4.3.4-1.6.4.6.4 2.3.4-1.9.4-3.9.4 2.1.4-3.2.4 3.7.4-2.7.4 5.6.4-2.4.4-6.8.4 8.8.4-4.4.4-.3.4 4.2.4 2 .4.1.4-6.2.4-1.2.4 5.5.4-2.3.4-3.4.4 6.3.4-4.1.4.6.4-3.3.4 2.7.4-.5.4.1.4-1.8.4.5.4 2.1.4-1.3.4 1 .4.3.4.1.4 1 .4-1 .4 2.9.4-2 .4-3.6.4 1.4.4 1.1.4-1.5.4 3.5.4-7.2.4 5.4.4.2.4-4.1.4-.4.4 8.5.4-4.4.4-.3.4-2.9.4 4.1.4-3.1.4 0 .4 2.4.4 1.5.4-2.8.4-3.5.4 3.2.4-3.3.4 6 .4-3.6.4-1.3.4.1.4 1.5.4 1.9.4 1.6.4-1.6.4-5 .4 1.4.4 3.2.4-2.4.4 1.8.4-3.7.4-1.7.4 4.5.4.7.4 2.4.4-3.3.4 1.1.4 3.3.4-1.9.4-2.5.4-1.9.4 3.9.4-3.3.4 5 .4-2.5.4.2.4 2.5.4-3.4.4.9.4-3.1.4 1.5.4.3.4-.8.4 3.4.4-4.5.4 2.2.4-3.5.4 1.3.4-5.8.4 7.6.4-1.5.4-.1.4-2.1.4.1.4.2.4.3.4 3.8.4-6.8.4 12.2.4-5.6.4-2.7.4 5.9.4-7.4.4 2.4.4-5.1.4 8.2.4-4.4.4 1.3.4 1.5.4-5.2.4 3.9.4-.6.4 3.4.4-1.3.4-8.1.4 6.5.4-5.3.4 1.8.4 1.4.4 5.9.4-10.7.4 4.3.4-1.6.4 2.7.4.5.4-2.5.4-2.2.4 4.8.4-2.4.4 3.8.4.2.4.3.4-4.1.4-1.7.4.8.4 1.7.4.7.4.2.4-.1.4 1.4.4-2.2.4 2.9.4.2.4-.1.4-6.3.4 4 .4-4.5.4 1.7.4 4 .4-.8.4-3.8.4 6.3.4.6.4-5.4.4-.2.4-2.6.4 3.9.4 3.5.4-1.3.4-.3.4-1.6.4-.7.4-2.7.4 1.2.4 1.4.4-2.8.4.1.4.1.4 2.4.4-2.2.4 2.9.4-2.9.4-.5.4 1.8.4.6.4.6.4-5 .4 3.9.4 0 .4-1.9.4 3.3.4 1 .4-5.3.4 4.1.4 1.7.4-5.3.4-2.2.4 6 .4-1.8.4-.7.4 8.2.4-5 .4-4.1.4 2.5.4.2.4.4.4-1 .4-6.6.4 5.3.4-.2.4 2.1.4-2.1.4-1.1.4 9.6.4-7.5.4 2 .4-4.2.4 1 .4-6.4.4 5.8.4.2.4-2.4.4 2.9.4 3.6.4-6.5.4 1.2.4.9.4-2.4.4 3.8.4-2.5.4-4.3.4 5.7.4-3.7.4 4.1.4-4.6.4 3.8.4-4.2.4 4.7.4-1.7.4.8.4.2.4-2.5.4-1.2.4-.2.4 1.3.4 1.3.4-1 .4-.4.4 3.8.4-.7.4-3 .4.2.4-4.2.4 6.5.4 2 .4-8.2.4 7.8.4-4.8.4-1.8.4 2.4.4-1.7.4 1.3.4-.2.4-1.8.4 2 .4-2.2.4-2.9.4 2.4.4-.4.4 4 .4-2.9.4 1.8.4-2.7.4 5 .4-.7.4-5.2.4 2.6.4 1.9.4-1.2.4 2.4.4-1.7.4-3.4.4 3.1.4-3.6.4-.6.4.7.4 4 .4-7.4.4 2.2.4 5.4.4.3.4-8.3.4-1 .4 5.2.4-.2.4.4.4 2 .4-4.3.4-2.4.4 3.3.4-.5.4 2.2.4-4.2.4-2.8.4.9.4-.5.4-1.6.4 10.6.4-4.9.4-3.8.4-1.4.4 1.8.4 10.3.4-12.3.4 7.8.4-8.7.4 1.4.4 7.9.4-7.1.4 8.4.4-10 .4 2.5.4-1.2.4 4.2.4 1.4.4-2.3.4-1.5.4-.6.4 10.6.4-9 .4-4.1.4 2.5.4-6.2.4 9.4.4-8.7.4 2.8.4 0 .4.8.4 1.5.4 2.5.4-2.7.4-5.5.4.6.4 2 .4 2.8.4-2 .4-1.2.4 0 .4-1.1.4 2.8.4-2.5.4 1 .4-2.2.4 6.1.4-8.2.4 3 .4-1.8.4-3.7.4 9.6.4 2.4.4-8.6.4 4 .4-6.2.4.3.4 1.7.4 7.5.4-9.3.4 4.8.4-1.9.4 1.3.4-3.8.4-.7.4 2.6.4 5 .4-11.8.4 13 .4-9.3.4 3.7.4-1 .4 7.9.4-15.8.4-2.1.4 6 .4-4 .4 2.6.4 9.7.4-6.5.4-3.3.4-.1.4-1.1.4 3.1.4 1.1.4-4.6.4 2.7.4 1.2.4.8.4-.7.4-6.9.4 3.4.4-.1.4 5.4.4-2 .4-6.6.4 5.8.4 4.6.4-2.8.4.2.4 5.9.4-4.9.4-2.9.4-3.3.4 2.2.4-5.8.4 10.1.4-2.5.4-2.7.4-1.4.4 2 .4-3.6.4-2.4.4.8.4 4.7.4 0 .4 1.6.4-5 .4-2 .4 5 .4-11 .4 11.4.4-3 .4 5.7.4-12.7.4 3.3.4 6.3.4-2.9.4 1.9.4-5 .4 2.2.4 1.9.4-4.5.4 7.1.4-4.4.4 8.7.4-8 .4 2.3.4-.5.4-2.4.4 3.3.4 3.1.4-4.2.4 0 .4-1.4.4 3.4.4-5.4.4.7.4-4.2.4 6.3.4-4.4.4 4.6.4-3.1.4 4.9.4-6.6.4 6.9.4-7.2.4 5.8.4-4.9.4.3.4 2 .4.7.4 2.1.4-7.2.4 4.6.4-.8.4-3.9.4-4.4.4 8.5.4-3.6.4-.2.4-2.7.4 8.2.4-1.1.4 2.2.4.2.4-2.6.4-7 .4 10 .4-5.1.4-2.9.4 2.8.4-5.3.4 4.9.4-2.8.4 1.3.4-1.3.4-.3.4 1.1.4-4.9.4 6.3.4-2.2.4 0 .4 3.2.4-3.3.4 1.8.4 5.2.4-6.9.4 5.9.4-5.1.4-7.7.4 12.4.4-5.9.4-.1.4 5.4.4-2.3.4-4.8.4 1.4.4 0 .4-1.6.4-2.2.4 4.4.4-5.1.4 6.1.4-5.8.4 1.8.4-.5.4 5 .4.5.4-3.5.4-.1.4 10.6.4-8.4.4 5.2.4-7.4.4 1 .4-2.7.4 4.6.4-5.8.4 7.7.4-3.5.4-.3.4 1.3.4-6.1.4 4.2.4.8.4.3.4-1.9.4 7.3.4-7.7.4 5.7.4-4.4.4-4 .4 6.5.4-2.9.4 2.5.4 1.4.4-3 .4-2 .4 8.5.4-10.2.4.1.4 2.9.4-5.1.4 7.2.4-9.1.4 14.9.4-2 .4-2.6.4-2.7.4-2.2.4 1.6.4-3.7.4 1.2.4 2.4.4 0 .4 3.8.4-3 .4 9.3.4-6.9.4-6.4.4 5 .4-10 .4 3.5.4 9.4.4-2.9.4 1.6.4-3.4.4.6.4 7.1.4-.2.4-8.4.4-.3.4 9.7.4-6.4.4 3.7.4 1.1.4-.2.4-4.1.4.2.4 1.6.4 10.1.4-13.7.4-2 .4 1.4.4-3.1.4-.5.4 1.8.4 6.8.4-6 .4 12.4.4-5.2.4-3.7.4-3.8.4 8.6.4-5.6.4-9.7.4 17.2.4-12.3.4 2.1.4 7.3.4-2.2.4-4.1.4 2.2.4-2.9.4 6.1.4 4.6.4-11.2.4-1.7.4 3.5.4 6.8.4-.1.4-.6.4-3.7.4-1.6.4-3.2.4 1.1.4 9 .4-5.9.4-.2.4.4.4-5.6.4 3.3.4 2.4.4 4.5.4-2.3.4.8.4-.8.4-5.9.4 3.2.4-1.6.4 5.7.4-3.3.4 0 .4-5.5.4 10.8.4-2 .4-2 .4.3.4 1.6.4-5.8.4 3 .4 2.6.4-4.5.4 2.1.4-1.3.4 1.3.4-3.9.4 2.9.4-.9.4-.6.4-3.7.4 11.2.4-7.9.4 11.3.4-5.9.4 2.7.4 1.6.4-.4.4-5.7.4-.2.4 5 .4-3.7.4.5.4 2.2.4.9.4-6.7.4 5.9.4-5.4.4 6.1.4-4.8.4 5.8.4 3.2.4-4.4.4 5.3.4-3.9.4-8.9.4 8.4.4-6 .4 5 .4 1.3.4-1.2.4 1.9.4-2.8.4 5.7.4-2.8.4-2.8.4 8.3.4-3.8.4-.3.4-.1.4-1.8.4 2.9.4 2.4.4-7.1.4.4.4-.4.4 3.4.4 1.8.4-2.8.4 2.6.4-1.3.4-7.7.4 7.1.4.5.4-2.8.4 6.3.4-7.3.4 2.4.4-.1.4 3.2.4-3 .4 6 .4-3 .4 1.9.4-2.9.4 2.9.4-2.4.4-3.9.4 4.8.4-3.6.4-1 .4 3.7.4-2.5.4-.3.4 4.3.4-7.5.4-3.6.4 10.9.4 8.5.4-11.9.4 4.1.4-6.6.4 5.4.4 3.9.4-6 .4 1.9.4-2.9.4 2.7.4 3.5.4-3.4.4-4.6.4 5.6.4.6.4 2.8.4-3.3.4-4.4.4 2.7.4-6 .4 8.3.4-1 .4 3.2.4 1.4.4-9.2.4 7.7.4-2.2.4 2.1.4-5 .4-2.9.4 9.6.4-.1.4-4.3.4 4 .4-5.9.4 6.7.4-3.8.4.5.4.8.4-2.9.4 0 .4 7.8.4-6.2.4 6.5.4-9.4.4 5.4.4-.6.4 2 .4-3.4.4 2.4.4-6.1.4 3.5.4-1.6.4 2.6.4 5.5.4-.5.4-1.2.4-7 .4 5.1.4-3.3.4 3.2.4-1.2.4-3.7.4 4 .4.7.4 4.3.4-8.8.4 7.4.4-6.2.4 7.9.4 2.4.4-9.5.4-.6.4 2.1.4 5.2.4-4.1.4.7.4-2.9.4 12.5.4-12.4.4 2.7.4 1 .4-.3.4 3 .4-.9.4 3.7.4-3.9.4-.4.4 2.4.4-5.6.4 1.9.4.9.4.7.4-.2.4-5.2.4 7.1.4-6.3.4-1.3.4 6.2.4.7.4 6.6.4-12.5.4 4 .4-1.6.4-.6.4-2.5.4 1.5.4.9.4 8.2.4-10.8.4 8.5.4-2.7.4-3.1.4 5.4.4-3.2.4 2.9.4-4.5.4 3.4.4-.9.4 2 .4-6.9.4 5.9.4-2.1.4-.8.4 5.9.4-3.2.4 1.7.4 2.5.4-4.8.4-1 .4.5.4-3.3.4 7.4.4-2.8.4 2.2.4-2.7.4 1.8.4 4.3.4-1.9.4-2.7.4 0 .4-.4.4 6.7.4-4.1.4 4.5.4-13.6.4 4.7.4.1.4.6.4 4.9.4-2.5.4 1.5.4-1 .4-3.1.4-2.2.4 8.7.4 2 .4-3.2.4-1.6.4.1.4-2.1.4 7.5.4-14 .4 8.7.4-.5.4-3.5.4 4.5.4-5.3.4 2.5.4 2.3.4 2.6.4-3.5.4-2.5.4.8.4-.2.4 2.2.4-3.8.4.8.4 0 .4-1.6.4 1 .4-1.6.4 6.2.4-3.1.4 1.6.4-3.6.4 8.5.4-.7.4-8.8.4 4.8.4-2 .4 4.9.4.3.4-5.5.4 7.1.4-6.9.4.2.4 2.7.4 1.2.4-2.6.4 8.3.4-5.2.4-2 .4.3.4-1.4.4 1.7.4 2.4.4 2 .4-8.4.4-.8.4 5.8.4-1.1.4-3.6.4 3.3.4 1.7.4 6.7.4-9 .4 2 .4 1.2.4-3.8.4-1.2.4 4.3.4 3.4.4-.5.4-6 .4 4 .4-3.8.4 5.1.4 1.7.4-5.3.4-2.3.4 1.5.4.8.4 5.8.4-7.7.4 6 .4-.7.4-2.3.4 7.3.4-2.6.4-4.6.4-7.6.4 7.4.4 4.6.4-5.6.4 1.4.4 0 .4-1.9.4 5.4.4-3.2.4 4.1.4-10.6.4 5.2.4 9.4.4-8.8.4.9.4-3.2.4 1.7.4 4.5.4-.4.4-6.2.4-2.2.4 5.7.4 2.3.4-3.4.4-.5.4 4.6.4 3.7.4-4.4.4-2.7.4 6.1.4-.5.4-2.5.4-.3.4-1.8.4-.6.4-5 .4 6.2.4-2.4.4-.6.4 2.7.4 2.3.4-1.1.4 2 .4-2 .4-4.6.4 11.7.4-9.3.4-.1.4 1.4.4 1.7.4-5 .4 7.7.4-2.5.4-4.5.4 1.3.4-2.1.4 1.4.4 3.2.4-3.5.4.6.4 6.5.4-4.7.4.4.4-.1.4-.3.4-6 .4 3.1.4 3.7.4-1.7.4 2.6.4-9.2.4 2.7.4 6.3.4-7.7.4 7.2.4-1.6.4 1.4.4 3 .4-2.6.4-.1.4-1.1.4 1.7.4.8.4-4.4.4 5.6.4-5.6.4 2.1.4 1.8.4-2.6.4 3.9.4-4.2.4 3.8.4.2.4-3.1.4-1.7.4 7.1.4-3.1.4-.6.4-4.2.4-5.3.4 9.3.4 1.9.4-2.2.4.4.4-6.1.4 2.6.4 4.5.4-3.5.4 2.3.4-2.3.4 9.4.4-6.3.4-1.1.4-6.3.4 10.3.4-4.2.4-2.4.4 4.6.4-2.5.4 4 .4-4.6.4 3 .4 1.7.4-.7.4-6 .4-.4.4 3.8.4 5.3.4-7.8.4 4.2.4-5.8.4 3.7.4 1.3.4 1.5.4-2 .4-2.8.4 5.8.4-7.6.4 7.2.4-11.3.4 5.5.4 3.2.4-4.9.4-3.8.4 5 .4 1.2.4-1.5.4 4.6.4-3.9.4 4.5.4-2.5.4.9.4-2.2.4-1.7.4 5.2.4-2.2.4 3.7.4-.2.4-2.4.4 1 .4-.9.4-.2.4-3.9.4 5.4.4 3.5.4-6.3.4-2.4.4 6.7.4-2.1.4 1.2.4 1.3.4-1.3.4-4.2.4-2 .4 4.1.4-3.9.4 8.4.4-3.9.4-1 .4-1.1.4 4.4.4.2.4-1.5.4 1.3.4-9.6.4 9.7.4-2.8.4-1.8.4-1.6.4-2.8.4 3.7.4 1.4.4.2.4 2.8.4 5 .4-10.6.4 7.3.4-6.3.4 5 .4.1.4-7.2.4 9.7.4-4 .4.1.4-1.7.4-5.2.4 5.3.4-1.5.4 5.2.4-7.9.4 8.1.4-2.6.4 2.6.4-5.2.4-.5.4 3.6.4-3.5.4 2.1.4-2.9.4 6 .4.8.4-.1.4-.3.4-1.5.4 0 .4-3.5.4 6.6.4-4.4.4 4.3.4-7.7.4 4.4.4-6 .4 1 .4 4.3.4-1.8.4.7.4.2.4 4.9.4-4.5.4-4.5.4 6 .4-.7.4-2.7.4 4.1.4-3.6.4 5.3.4 1.1.4-3.3.4.3.4-1.2.4-2.1.4 2.5.4-2.7.4-.9.4 2.9.4-1.9.4 1.6.4 4.7.4-6.9.4 4.4.4-1.6.4 5.2.4-6.9.4 3.6.4-.4.4-2.4.4 1.3.4-4.3.4 2.7.4 2.8.4-1.5.4 2.3.4-3.3.4 3.1.4-8 .4 6.2.4 4.6.4-7.4.4 3.9.4-1 .4 1.2.4-5.1.4 1.1.4.5.4 2 .4-3.1.4 2.6.4 2.4.4-3.6.4 1.1.4 1.5.4 3.6.4-8.2.4 4.6.4.7.4 1 .4.9.4.6.4-7.5.4 4.7.4 1.4.4-2.6.4 2.9.4-6.3.4 1.6.4-2 .4 5.9.4-.8.4-4.2.4.7.4.4.4 6.4.4-7.5.4 3.9.4-1.7.4 1.8.4-3.4.4-4.6.4 5.1.4.4.4-.3.4-1.4.4 4.9.4-6.2.4 5.6.4 2.3.4-1.8.4-1.4.4-1.5.4 1.5.4-2.4.4 6.8.4-4.6.4-6 .4 5.1.4 1.4.4 4.9.4-10.2.4 9.4.4-3.4.4-5 .4 5.1.4 3.2.4-3.5.4 2.1.4-3 .4-.4.4-3.4.4 3.6.4 1.5.4 2.1.4 0 .4-4.9.4 3.2.4-6.8.4 4.6.4-4.3.4 4.9.4-2 .4 1.8.4 4.7.4-8.3.4-1.5.4 4.7.4 4.8.4-2.4.4-1.9.4 1.4.4 1.5.4-3.4.4-3.4.4 6.5.4-1 .4-.8.4 6.8.4-3.2.4-5.7.4 3.8.4-2.5.4-.2.4-2.3.4-1.8.4 1.6.4 4.5.4 3.4.4-5.1.4-1.5.4 4.9.4 1 .4-3.9.4.6.4-2.6.4 3.5.4-.5.4-4.3.4 7.4.4 1.9.4-4.9.4-1.4.4-.3.4.5.4 2.5.4-.2.4-4.4.4-4.5.4 6.5.4-.2.4 1.5.4-.4.4 3.3.4-4.5.4 3.2.4-4.6.4 2.8.4 7.2.4-9.1.4-2.2.4.3.4.2.4-.3.4.8.4 2.4.4 3.3.4-5.8.4-.5.4 3.6.4-4.5.4 1.3.4-1.4.4-.1.4 4 .4-.9.4 1.5.4-3.8.4 4.4.4-2.6.4 3 .4 5.1.4-7 .4-.3.4-.8.4-2.5.4 6.9.4-3.9.4 2.1.4-.8.4-.5.4-2 .4 2.9.4-.2.4-3 .4-1.1.4 7.3.4-3.6.4-3.3.4 9.3.4-1.5.4-3.4.4-3.3.4 3.1.4-3.5.4 4.1.4-3.4.4-1.3.4 1.6.4 1.2.4 7.4.4-9.1.4 2.6.4.9.4-4.5.4 3.1.4-1.4.4 1.5.4.2.4 2.8.4-5 .4 4.7.4-6.9.4 5.6.4-6.1.4 1.6.4 4.6.4-4.2.4 2.9.4-.8.4 5.1.4-9.9.4 3.7.4 1.1.4 4.4.4-3.8.4-1.5.4-3.7.4 3.1.4-.8.4-3.8.4 5.3.4-2 .4-2.9.4 8.3.4.1.4-8.7.4 11.4.4-3.5.4-.6.4-.5.4-.2.4.2.4-3.8.4-.3.4 5.3.4-2.5.4 5.1.4-7.5.4 3.7.4-4.5.4 0 .4-1.5.4 8 .4-6.4.4.9.4-1.5.4 5.4.4-4.9.4.1.4.3.4 2.3.4 4.6.4-10.3.4 7.4.4-.1.4 1.2.4-4.1.4-1.8.4 1.7.4 2.8.4-.8.4-4.3.4.1.4 3.2.4 3.4.4-4.4.4 2.5.4-4 .4 2.8.4-2.9.4 2 .4-2.9.4 4 .4.6.4-2.4.4-3 .4 3.9.4-.2.4.2.4-1.5.4 2.3.4-7.1.4 4.7.4-2.2.4 3 .4-3.6.4.3.4-1.9.4 1.1.4 1.8.4-1.2.4-3.9.4 1.1.4 1.6.4-5.5.4 5.2.4 1 .4-7.7.4.8.4 2.4.4-5 .4 2 .4.6.4 2.6.4-4 .4 1.5.4-4.9.4.5.4-2 .4-3.7.4-.9.4-2.6.4-.1.4-6.9.4-1.2.4-5.4.4 2.5.4-6.3.4-10.5.4 6.7.4-10 .4-4.6.4-7.3.4-7.7.4-5 .4-2.7.4-10.4.4.8.4-14.4.4 3.6.4-7.4.4-5 .4 3.6.4 1.1.4 2.3.4 1.5.4 11 .4-3.1.4 4.7.4 12.3.4 3.6.4 1.9.4 5.5.4 12.8.4 2 .4 6.8.4-1.2.4 9.9.4 1.9.4 4 .4 3.9.4.3.4 4.9.4 3.2.4-4.6.4 8.1.4.6.4 7.2.4-2.7.4-1.1.4 3.6.4 1 .4-4.2.4 6.6.4-.7.4 3.4.4-2 .4-.9.4.7.4 1.1.4 2.2.4.1.4-.1.4-.1.4 5 .4-1.5.4-5.9.4 3.7.4 2.2.4-3 .4.1.4-3 .4 7 .4 2.6.4-1.3.4 5.3.4-2.4.4-7.4.4 5.3.4-6.5.4 5.6.4 6.7.4-3.2.4-3.1.4.9.4-.6.4 0 .4-1.6.4 5 .4 1.4.4-5.7.4 5.4.4 2.3.4-7.8.4 3.1.4-1.5.4-.5.4.7.4.9.4 2.4.4-3.9.4.3.4-5.1.4 6.1.4.4.4-6.1.4 1.1.4 5.3.4 0 .4 1.8.4-9.2.4 7.6.4-2.3.4-.9.4-.6.4 4.5.4-1.9.4 1.7.4.6.4-.8.4.3.4-1.1.4-1.2.4-1.3.4.2.4 1.1.4 2.6.4-2.3.4 1.1.4 3.6.4-2.2.4-.5.4 1.3.4 3.2.4-6.1.4.8.4 5.2.4-.7.4-1.3.4-1 .4.6.4-4.3.4.8.4 2.8.4-1.3.4.7.4 3.1.4-4.4.4 3.6.4-7.6.4 2.1.4 2.2.4-2.5.4 7.1.4-2.2.4 1.9.4-.3.4-.7.4 1 .4-3.7.4 5.6.4-8.1.4 5.1.4-1.3.4-.8.4 2.3.4-.5.4-3.9.4 5.1.4-3.2.4 3.6.4-2.3.4-.1.4 1.3.4-3.7.4 0 .4 1.8.4-4.7.4 7.4.4-2.8.4-2.1.4 2.3.4-1.7.4 1.9.4-1.4.4 3.8.4-4.4.4 3.8.4-3.4.4 5.2.4-1.6.4.9.4.6.4-5 .4 2.3.4-3.3.4 3 .4-3.5.4-2 .4 3.1.4 2.2.4 2.2.4 4 .4-7.9.4 1.7.4-1.3.4.6.4 2.4.4-1 .4-3.6.4-.2.4 1.6.4-1.6.4 2.9.4.5.4-1.8.4-2.6.4 4.9.4-3.5.4 3.9.4-3 .4.2.4 3.1.4-2.4.4-.5.4 7 .4-7.5.4 1.4.4-1.1.4-.7.4 2.6.4 1 .4-1.8.4 2.3.4-3.5.4-2.2.4 5.4.4.8.4-5.4.4 3.5.4-4 .4 5.6.4 1 .4-2.2.4-2.9.4.1.4-3.4.4 11.2.4-9.1.4 3.2.4 1.7.4-4.7.4.1.4 7.1.4-6.2.4 4.2.4-8 .4 5.4.4-5.3.4 10 .4-4.9.4-.3.4-4.1.4 6.8.4 1 .4-.8.4.4.4-3 .4-2.5.4 7.7.4-5.7.4 1.4.4-.4.4-2.3.4 6.3.4-5.6.4 4.7.4-2 .4-4.9.4 4.1.4-5.2.4 3.5.4.5.4.8.4-.2.4.2.4.3.4-2.8.4-2.6.4 6.8.4-3.4.4.8.4 4.2.4-4.1.4-3.2.4 6.9.4-8.4.4-2.8.4 12.4.4-7.7.4-1.2.4 4.6.4 3.4.4-6.7.4-2.1.4 8.1.4.6.4-5.4.4 3.4.4-1.1.4.8.4 1 .4-1.1.4 0 .4-2.7.4-.7.4 2.2.4 2.7.4-1.2.4-4.2.4 2.4.4-1.9.4-.6.4 5 .4.3.4 1.8.4-2.1.4-5.5.4 3.2.4-.9.4 1.6.4-3.8.4 2.3.4 1.2.4.6.4-3.5.4 1.7.4.9.4-1.1.4-3.3.4.3.4 1 .4 3.6.4-2.2.4-2.9.4-1.5.4.4.4 5.7.4-2.3.4-5.4.4 5.3.4-2.5.4-.1.4-.7.4-2.6.4 6.4.4-5.4.4 4.8.4-1.8.4-2.8.4-6.5.4-.1.4-1.6.4.9.4 5.8.4-9 .4 3.6.4-6.1.4-1.1.4-1.4.4 5.3.4-4.2.4-4.2.4-.1.4-3.1.4 3.9.4-5.3.4 1.8.4.7.4-4.3.4 4.9.4-4.2.4 2.9.4 2.7.4 1.9.4-.1.4 4.2.4-2.4.4.5.4 6.2.4 1.2.4-2.6.4 6.6.4.8.4 0 .4 1.7.4-1 .4-1.7.4 3.2.4-1.1.4 3.4.4 1.8.4-3.6.4 3 .4-1.4.4 1.5.4-.4.4 3.5.4-1.4.4.7.4-3.7.4 5.5.4 2.3.4-4.7.4 1.5.4 1.3.4 1.3.4-3.1.4 0 .4.4.4 1.8.4 1.1.4-6.2.4 4.3.4-6 .4 8 .4 4.1.4-9.2.4 2.9.4.4.4-2 .4 5.8.4-1.9.4-1.1.4 2.1.4-1.3.4-4.2.4 4.5.4-1.2.4-1.2.4-1.6.4 6.5.4 1 .4-4.8.4 1.3.4-1.7.4.5.4 3.7.4-5.4.4-3.3.4 6 .4-1.5.4.1.4-.7.4 3.3.4 4.4.4-6.1.4.7.4-.7.4-.5.4 4.2.4-4 .4 2.7.4-1.6.4 4.1.4-6.1.4 4 .4-1.5.4.3.4.2.4-.5.4 2.8.4-4.4.4.8.4-1.7.4 3.5.4-6.3.4 5.7.4-2.7.4 2 .4 4.2.4-1.8.4-5.3.4 3.4.4-4 .4 3 .4-.3.4-3.2.4 2.5.4-.5.4 3.1.4-4.8.4 5.8.4-2.3.4-3.3.4 3.6.4.9.4 4.7.4-7.8.4 1.7.4 5.3.4-2 .4-10.1.4 3.6.4 7.6.4.6.4-1.1.4-1.6.4.9.4 1.7.4-3.7.4.5.4-3.4.4-1.9.4 5.1.4 2.4.4-1.3.4-.2.4-.2.4-1.2.4 3 .4-3.5.4 0 .4 1.1.4-2.2.4 2.1.4 1.7.4-1.7.4-1.1.4.5.4 1 .4-2.9.4.2.4.7.4 4.3.4 1.3.4-5.5.4 2.1.4-2.1.4 2.2.4 2.2.4-2.5.4-1.6.4 1 .4.1.4-.6.4 1.6.4-1.5.4.7.4-4.5.4 6.2.4-.9.4-4.6.4 5.5.4-2.5.4 1 .4 3.3.4-5.5.4 1.8.4.8.4-2.8.4.5.4.4.4.4.4 2.5.4-1 .4-3 .4-.4.4.7.4-.9.4 3.7.4-.8.4 1.8.4-2.4.4 2.4.4-4.4.4 2.7.4-1.1.4-2.6.4 1.8.4 2.9.4 1.1.4-.8.4-1.5.4-2 .4-2.6.4 3.6.4 3.7.4-1 .4 2.2.4-4.5.4-.5.4 4.7.4-3.1.4.7.4-.1.4 2.2.4.9.4-5.5.4-.3.4 2.4.4 4.4.4-2.2.4-2 .4.7.4 1.8.4-4.6.4.1.4.5.4 1.3.4-1.7.4 1.4.4 1 .4-2.1.4 1.3.4.7.4-2.5.4-2.2.4 1.3.4 3.8.4-2.3.4.6.4.8.4-3.9.4-2 .4 6 .4-3.4.4 1.5.4-3.7.4 7.6.4-3.7.4-2.6.4-3.6.4 4.2.4 2.9.4-2.7.4 6.9.4-2.9.4-1 .4 2.2.4-3.1.4.2.4 3.1.4-1.2.4 0 .4-1 .4-.3.4 2.9.4-3.3.4 1.7.4-.9.4 1.6.4 3.3.4-6 .4 1.1.4-.8.4-2 .4 6.5.4-.2.4-3.1.4 3.1.4-2.8.4.8.4-1.9.4-.8.4 1.9.4-1.5.4.4.4 6 .4-4.9.4-2.4.4-.2.4 1.8.4 2.5.4-5.7.4 3.8.4-.2.4-.6.4-1.3.4 9.1.4-6.7.4-2.2.4 2 .4 4.5.4-8.9.4 3.9.4.8.4.4.4.5.4-.7.4 1.7.4-3.8.4 2.7.4-3.7.4 2.9.4-6.2.4 5.7.4-2.8.4-.1.4 6.9.4-5.8.4 3.5.4-2.9.4 1.2.4 2.9.4-4.6.4 1.7.4-.5.4 5.7.4-5.9.4 2.4.4-.9.4-.7.4.9.4-.9.4-2.8.4 4.2.4-1.5.4.1.4 3.2.4-4.1.4 3 .4-1.9.4 1.1.4-5.9.4 5.5.4 0 .4-.1.4 3.3.4-2.3.4.1.4-2.5.4-1.6.4 3.9.4-2 .4-2.1.4 2.1.4-4.6.4 6.8.4-.3.4 2.2.4-4.7.4 6.7.4-7 .4 1.1.4 5.5.4-4.7.4-1.1.4.6.4-1.2.4 4.8.4-1.2.4-3 .4 1.4.4.3.4-4.1.4 2.7.4-4.4.4 8.1.4-1.9.4-2.7.4-.9.4 3.9.4-.1.4.3.4-6.8.4 4.1.4 4.8.4-1.8.4-1.5.4-.9.4-.1.4.4.4-.2.4-.3.4-.3.4-1.8.4.2.4 2.8.4-3 .4 5.7.4.6.4-4.2.4-3 .4 1.9.4-.9.4 3.2.4 1.2.4-7.3.4 5.1.4.3.4.8.4-2.3.4 1.7.4 1.8.4-.4.4-1.4.4-.1.4 1.8.4 2.1.4-4.8.4 1.3.4-.3.4 1.4.4.8.4-3.3.4 2.3.4.4.4-5 .4 4.4.4-1.2.4-3.8.4 3.9.4-.4.4 1.8.4-1.8.4-2.4.4.1.4-1.8.4 1.5.4.5.4 2.2.4-1.9.4-4.4.4 6.1.4-3 .4 5.7.4-2.8.4 3 .4-8.8.4 6.2.4 3.1.4-5.8.4-.7.4 3.3.4 4.1.4-3.2.4-2.3.4 3.5.4-1.5.4-.8.4 1.8.4-.4.4 1.8.4-5.5.4 3.3.4.5.4.4.4 0 .4-4.8.4 1.2.4 1.1.4.7.4.5.4-1.5.4 3.1.4-.9.4-1.1.4 2.4.4-7.5.4 5 .4-2.6.4 4.6.4-2.3.4.7.4-1.7.4 5.7.4-4 .4-2.5.4 1.1.4-1.7.4 3.1.4-1.1.4.6.4 1.5.4-2.5.4 2.3.4.9.4-4.9.4 1.2.4 3.4.4-4.5.4 4.8.4-2.3.4-1.5.4-1 .4 5 .4-1 .4 2.6.4-4.2.4-2.9.4 4.3.4-2.4.4 3.3.4-3.1.4.2.4 2.7.4-4.6.4 6.9.4-7.6.4 3.7.4-2.4.4-.8.4 2 .4 6.1.4-5.3.4 3 .4-5 .4-.8.4 5.6.4-3.4.4 1.8.4-.7.4 4.1.4-1.5.4.1.4-2.7.4-1.9.4-1 .4 4.7.4-3.2.4.5.4-1.8.4 1.3.4 2.5.4 4.2.4-6.3.4 1.3.4 3.2.4-2.5.4-1.3.4.3.4-2.8.4 2.7.4 5.2.4-3.4.4-1.8.4 1.8.4-2.7.4.6.4 2.4.4-3.6.4.6.4 5.2.4-2.8.4-7.3.4.5.4 4.2.4.5.4-5.2.4 5.8.4-2.9.4 3.1.4.1.4-.2.4-2.3.4 4.9.4-1.4.4-5.8.4 6.1.4.6.4.2.4-6.8.4 0 .4 2.8.4 4.1.4-5.5.4 3.7.4.5.4-1.6.4 1.1.4-.4.4-1.8.4 1.8.4 3.5.4-1.4.4-3.2.4-3.7.4 6.5.4-3.5.4 2.4.4.5.4-4.9.4 4.6.4-.1.4 3.4.4-9.6.4 3.8.4-.8.4 3.7.4-1.6.4-.3.4-1.8.4-1.7.4 3.3.4-2.7.4-2.2.4 6.3.4-5 .4.5.4.4.4 3.7.4 1.3.4-5.3.4 2 .4 1.8.4-4 .4 4.3.4-1 .4 2.8.4-3 .4-4.6.4 2.9.4 1.9.4-1.7.4.3.4.2.4-1 .4 3.3.4-3.3.4 1.8.4 1.6.4-3.1.4 5.1.4-2.8.4-2.3.4-1.4.4 3.5.4-2 .4 1.4.4-1.5.4.4.4.7.4 1.1.4-.8.4-1 .4 4.3.4-.4.4 4.7.4-11 .4 4.3.4 1.6.4-5.9.4 5.3.4-1.4.4-1.6.4 1.8.4-1.8.4-1.2.4 3.2.4-1.1.4 2.8.4-4.7.4 2.6.4-.8.4 1.7.4 4.3.4-5 .4-2.2.4-.2.4 5.1.4-.1.4-6.2.4 2.8.4 1.7.4-2.3.4 3.7.4-3.6.4.9.4-2.5.4 0 .4 1 .4 2.9.4 1.7.4-1 .4-.1.4.4.4-2.3.4-1.2.4 1.2.4 1.7.4-4 .4-5 .4 13.6.4-8 .4 1.6.4 1.1.4 2.7.4-3.9.4-3.7.4.5.4 6.6.4-6 .4-1.5.4 6.2.4-7 .4 8.2.4-3.8.4-.8.4 1.6.4 3.3.4-2.6.4-.4.4-4 .4 2.8.4-1.4.4.4.4 4.4.4-1.1.4 1.6.4-4.9.4 0 .4-1.4.4.8.4-2.8.4 1.3.4 3.6.4 3.7.4-3.6.4.8.4 2.5.4-4.4.4 1.7.4-3.5.4.5.4-.1.4 2.9.4 2 .4-2.1.4-3.7.4 3.3.4 2.9.4-2.1.4-3.2.4 4.9.4-6.9.4 6.5.4-5.5.4 2.4.4 2.9.4 5.7.4-7.3.4-1.8.4 2.8.4 1.7.4-2.5.4 2.9.4-6.1.4 4.6.4-5.2.4 4.5.4 2.3.4-1.8.4-.1.4-1.3.4 1.5.4 4.2.4-7 .4-.3.4-.4.4 3.1.4 1.7.4-2.4.4 2.8.4-1.8.4-1 .4 2.7.4-3.1.4 3.1.4.2.4-3.2.4 1 .4-.9.4-2.9.4 1.7.4.7.4-2.6.4 4.5.4.2.4-3.2.4-4 .4 9.7.4-3.9.4 2.3.4.5.4-1 .4-1.5.4 3.5.4-3.1.4 3.2.4-4.2.4 2.6.4-4.7.4 3.8.4 2.3.4.2.4-7.8.4 3.2.4-.2.4 4 .4-5.2.4 4.1.4-2.3.4 3.9.4-2.4.4-.8.4 2.7.4 1.7.4-8.5.4 6.2.4-2.3.4 1.4.4-.1.4.1.4 2.3.4.1.4-4.5.4.6.4.6.4.3.4-.7.4 1 .4-3.3.4 4 .4-5.3.4 5.9.4-1.1.4 2.6.4-2 .4 1.4.4-.7.4-1.5.4.4.4-3.8.4 3.8.4-.5.4-1.6.4 5.2.4-2.8.4-2.8.4 1.4.4-2.2.4 1.1.4 5.5.4-4.6.4-2.4.4.8.4 2.1.4-1.3.4-.7.4 2 .4.4.4-1.9.4 2.7.4 4.4.4-6.2.4-2.9.4.1.4 2.4.4 1.8.4 2.9.4-5.3.4 3.9.4-.6.4-1.7.4-.8.4-4.7.4 7.8.4.5.4-6.3.4 1.4.4 2.7.4-1.9.4 2.1.4-1.6.4-3.5.4 1.7.4 1 .4-.1.4-.3.4 2.3.4 3.9.4-6.4.4 4 .4-3 .4-3.4.4 6.2.4 0 .4 1 .4-5.1.4 5.5.4-5 .4 3.5.4 3 .4-4.3.4-2.2.4 3.8.4-5.3.4 2 .4 5.9.4-2.9.4-2.4.4-1.6.4 6.7.4-7.1.4-.1.4-.5.4 1.8.4-1.1.4 1.6.4 3.7.4-7.2.4 9.9.4-6.1.4.9.4.8.4-7.4.4 6.3.4 1.2.4-1.8.4.6.4 0 .4-1.3.4 3.3.4 3.2.4-9.3.4 1.4.4.8.4 5.8.4-7.3.4 7.2.4-4.3.4 4 .4-1.8.4 3 .4-9.2.4 2.8.4.9.4 1.6.4 3.9.4-2.6.4.4.4-1.3.4-1.1.4 2.4.4 1.1.4-3.6.4.5.4-.9.4 2.4.4-.6.4-1.4.4 1.9.4-1.1.4 0 .4 4.7.4-6.1.4-.8.4 2 .4-2.5.4 4.5.4-1.1.4-4.3.4 3.8.4-4.4.4 3.5.4.1.4 3.6.4-2.6.4.2.4-.4.4-1.6.4.4.4 2.9.4-1.4.4-8.8.4 11.4.4-3.3.4 2.5.4-3.6.4-2.7.4 4 .4-3.7.4-3.4.4 4.6.4 1.6.4.7.4.9.4-4 .4 1.2.4-2.3.4 1 .4 4.4.4.7.4-2.3.4-1.1.4-2.1.4 1.4.4 2.6.4-.2.4.9.4-2.7.4 2.4.4 2.7.4-2.1.4-2.9.4-.5.4-.8.4.1.4 3.2.4-4.2.4 5.1.4.8.4.5.4-.5.4-5.1.4.8.4-.6.4 1.5.4.1.4-1.5.4 3.5.4-4.2.4 5.1.4-6.2.4 1.7.4-2.5.4 1.7.4 3.9.4 2.9.4-.5.4-3.6.4 1.8.4-4 .4 2.3.4.3.4-.7.4-1.7.4 3.9.4 4.7.4-2.7.4-4.6.4.9.4 4.1.4-5.2.4 4.8.4-2.7.4-.1.4 1.2.4-4.6.4 5 .4-4 .4-1 .4 3.7.4.5.4-2.9.4 3.4.4-1.4.4-.7.4-3.1.4 4.5.4-5.1.4 2.1.4 6 .4-2.4.4-1.4.4.8.4 2.3.4-.4.4 1.9.4-2.9.4-1.8.4-2.6.4 1.4.4 3.3.4-1.6.4 4.9.4-5.8.4-2.2.4-.7.4 2.1.4-.9.4 1.9.4 0 .4 1.1.4-1.4.4.7.4 4.4.4-10.5.4 2.1.4.5.4 4.4.4-4.1.4 1.2.4 3.1.4-1.4.4-2.4.4 1.3.4.4.4 2.5.4-4.8.4 1.4.4 3.5.4-.1.4-.1.4-1.6.4 1.6.4-3.2.4 4.4.4-6.5.4 1 .4 1.3.4-1.3.4 4.8.4 1.7.4-4.7.4 1.1.4.8.4-4.5.4 5.2.4-3.7.4 1.5.4-2.7.4 3.1.4 1.2.4.4.4-3.3.4-.8.4 1.3.4-1.1.4 2.6.4-2.1.4 1.9.4-6.2.4 5.1.4-.2.4-1.6.4-4.1.4 3.8.4-2 .4-2.5.4 1.2.4-.5.4 4.2.4-7.3.4 1.8.4 3.4.4-6.9.4.2.4.6.4-5.1.4.4.4 0 .4-2.7.4 4.1.4-7.9.4 6.7.4-4.5.4 2.9.4-1.8.4-4.2.4-.8.4-1.4.4 1.8.4-5.4.4 3.8.4 1.3.4.6.4 3.6.4-4.4.4 5 .4 4.2.4-4 .4 1.7.4-2.1.4 1.5.4 3.1.4 3.3.4-1 .4 3.5.4.6.4-.2.4 2.4.4-1.3.4-.6.4 3.3.4 1.5.4-.8.4.1.4.5.4 3.6.4-5.3.4 1.9.4-.3.4 2.9.4-2.1.4-1.7.4-1.1.4 3.3.4.1.4-.3.4.2.4-3.5.4 3.7.4-3.7.4 6 .4-2.3.4 4.3.4 0 .4-3.9.4-3.8.4 5.6.4.3.4.8.4-3 .4-1.2.4 2.5.4-1.9.4-.1.4 1.2.4 1.7.4-3 .4.2.4-.5.4 3.3.4 2.3.4-3.9.4-2.1.4 1.8.4-.9.4-1 .4 1 .4 2.8.4-.9.4-1.1.4-.2.4-.9.4-1.9.4 6.8.4-5.3.4 3 .4-.8.4-2.8.4 2.8.4-1.8.4.5.4 3.3.4-2.2.4-1.7.4 1.7.4 1 .4-5.5.4 3.1.4 4 .4-3.7.4-2.2.4 4.6.4-1.8.4-2.3.4 2.7.4-1.7.4.8.4 3.8.4 1.6.4-3.8.4 4.9.4-6 .4-2.3.4 2.4.4-1.9.4 2.8.4-3.1.4 5.4.4-.1.4-.1.4-1.4.4-1.7.4 3.2.4-.1.4-1.2.4 1.2.4-5.1.4 6.2.4.6.4-3.5.4-6 .4 7.5.4 3 .4-6.3.4-.6.4 9.2.4-8.1.4-.2.4.8.4 3.4.4-4.1.4-1 .4 1.5.4-1.5.4.7.4 1.4.4 2.1.4-4 .4-1.8.4 4.5.4-.5.4-.6.4 4.5.4-1.9.4-3.7.4 1.7.4-3.4.4 1.5.4-1.7.4 5.5.4-.4.4-.7.4.7.4-4.6.4 1.5.4 4.5.4-.3.4-5.8.4 4.8.4-3.2.4-.2.4.6.4 1.7.4-.2.4-1.1.4.7.4 3.7.4-5.5.4 8.2.4-5.7.4.2.4 2.1.4-.4.4 2.2.4-3.5.4-.2.4-.7.4-1.8.4 2.9.4-5.3.4 3 .4.6.4 5.1.4-7 .4 4.6.4.3.4-2.7.4 2.8.4 1.7.4-7.4.4 5.3.4-5.5.4 6.9.4-4.3.4.6.4 1.1.4.1.4-3.2.4 3.5.4-2.5.4-1.8.4 3.4.4 1.5.4-2 .4 1.1.4-.3.4 3.4.4.6.4-4.7.4-3.9.4 2.9.4-.3.4 2.8.4-2.2.4-.7.4 1.4.4.9.4 4.2.4-2.6.4-2.1.4 0 .4-2.9.4.2.4 3.2.4 3.1.4-6.7.4-.6.4 3.7.4 1 .4-2.5.4.1.4 3 .4-2 .4-1.1.4 1.8.4-2.9.4 2.1.4 4.3.4-5.1.4 3.4.4-2.3.4-1.5.4 6.2.4-3.3.4-5.5.4 4.9.4 1.6.4-2.5.4-4 .4 4.3.4 1.5.4.9.4-1.1.4-2.8.4 2.6.4 1.4.4.3.4-6 .4 2.5.4-2.9.4 2.9.4-2 .4 5.1.4-1.4.4-1.9.4 1.1.4 3.3.4-5.7.4 3.9.4-1 .4.8.4 2.9.4-5.5.4 1.3.4 3.2.4-2.3.4.1.4-3.6.4 1 .4 2.5.4-.6.4 2.9.4-1.3.4 1.1.4-.5.4-1.2.4.2.4-1.4.4-2.5.4 3.5"/>
<path fill="none" stroke="#f04040" stroke-width="10" stroke-linejoin="round" stroke-linecap="round" d="M132.5,914.8l.4-2.3.4 7.3.4-9.7.4 5.1.4-1.8.4-.5.4 3.2.4-6.6.4 1.9.4 1.9.4 4.2.4-3.8.4 1.8.4-6.2.4 1.4.4 4.9.4-3.6.4 1.3.4 1.7.4-6.7.4 2.3.4 2.5.4-3.4.4 1.9.4 1.5.4-1.4.4.9.4.7.4 2.9.4.5.4-4.5.4-1 .4 3.9.4-.9.4-.6.4-2.7.4 3.5.4.6.4-6.2.4 6.4.4-2.5.4-1.6.4-1.9.4 2.8.4.6.4-.7.4-2 .4 0 .4 4.4.4-1.5.4.5.4.8.4.2.4 2.3.4-4.2.4-.5.4-1.6.4 2.8.4 0 .4-2.4.4 1.7.4 0 .4 8.6.4-9.8.4 4.1.4-2 .4-1.2.4 1.2.4-.2.4-.9.4-.5.4-.4.4 0 .4 1.5.4-.9.4 2.5.4 1 .4-3.4.4-.6.4 3.8.4-3.3.4.6.4-1.4.4 1.2.4 2.7.4-.9.4-4.8.4.6.4 1 .4.3.4 2.3.4-6.7.4 8.1.4-5.8.4 5.2.4-5.5.4 2.5.4 2.5.4-2 .4 2.7.4 3.2.4-7.3.4-1.1.4-.4.4-.9.4 3 .4-3.2.4-2.6.4 4.8.4 5.4.4-3.2.4-3.8.4 1 .4 4 .4-1.4.4-1.5.4 3.7.4-2 .4-1.7.4.9.4.8.4 2.3.4-5.7.4 2.2.4-.3.4-4.2.4 3.2.4-2.3.4 4.2.4-.8.4 1.2.4-.1.4-4.6.4 3.9.4 1.1.4 1.2.4-2.3.4-1.5.4 2 .4 2.7.4-2.7.4-4.7.4 5.3.4-1.1.4-.1.4-1 .4 1.1.4.1.4-3.7.4 5.4.4-2.7.4.4.4-.6.4 4.4.4-1 .4 1.1.4-4.4.4-2.6.4 2.6.4 3.5.4.3.4-5.2.4 5.2.4-6.6.4 3.2.4.5.4 3.4.4-8.3.4 1 .4-2 .4 3.1.4-2.5.4 5.9.4-3.9.4 1.2.4 6.7.4-3.9.4-2.5.4 2.6.4.2.4 1.4.4-4.7.4 2.4.4-.7.4-.2.4-.8.4 3.1.4-.2.4-5.8.4 2.1.4 1.5.4 2.2.4-1.4.4 1.6.4-2.7.4-.8.4 1.8.4 2.8.4-5 .4.7.4-.8.4 1.4.4 2.7.4-2.4.4-.5.4-.5.4-2.1.4 2.3.4-6.4.4 7.7.4-2.1.4 2.7.4-1.2.4-.2.4-2 .4 4.4.4-.2.4-5.4.4 3.5.4 3.5.4-3.4.4-2.8.4-2.4.4 8.1.4-6.8.4-1.7.4 7.6.4-1.2.4-1.4.4.8.4-1.2.4 1.4.4-1.1.4.3.4-.5.4 1.3.4-3.1.4 2.1.4-4.9.4 3.3.4 4.1.4-3.4.4-1.2.4.5.4 2.6.4-3.8.4 6.3.4-4.2.4.8.4 4.5.4-.4.4-6.6.4-.4.4.8.4 1.2.4 2.6.4-5.2.4 2.1.4-3.5.4 7 .4-.6.4-9.3.4 6.5.4-1.2.4 1 .4.2.4-.8.4 1.2.4-1.9.4 4 .4-.8.4-9.1.4 8.9.4-2.5.4-3.5.4 2.1.4 1.9.4 2 .4.2.4-4.4.4.5.4 3.5.4-2.9.4-1.4.4-4.7.4 7.2.4-.8.4-2 .4.9.4-4.3.4 5.6.4 2.3.4-.9.4-5.5.4.4.4.4.4.2.4 2.5.4 1 .4-4.7.4.8.4-2.2.4 10 .4-9.9.4 7 .4-3.1.4.2.4.3.4-3.7.4 4.8.4-7.2.4 3.4.4 4.3.4-2.9.4-4.3.4 1.4.4.2.4 6.7.4-5.1.4 0 .4 1.7.4 1.3.4-3.5.4.8.4-3.7.4 3 .4-5.6.4 6.5.4.9.4-5.1.4 1.1.4-.3.4-2.8.4 7.3.4-5.2.4-1.9.4 2.6.4 3.3.4-3.9.4 2.8.4-1.4.4-.1.4.6.4 3.3.4 0 .4-1.2.4-2.2.4-1.9.4-1.2.4 8.1.4-2.7.4-3.6.4 1.9.4-.5.4 3.6.4-.3.4-11.3.4 9.9.4-4.2.4.8.4-3.4.4 1.5.4.4.4 3 .4-4.3.4-2.8.4 4.6.4-1.1.4-.2.4 2.4.4-6 .4-1.1.4 6.3.4.8.4 1.5.4-2.2.4 3.2.4-6 .4 7.1.4-.3.4-4.3.4-1.1.4-2.2.4 3 .4-2.7.4 3 .4 2.6.4-1.9.4-6.8.4.2.4 8.4.4-2.4.4 2.5.4 2.9.4-7.4.4.2.4-3.4.4 5.8.4-7.5.4 2.7.4-1.2.4-3.1.4 3.1.4 5.1.4 1.5.4-.8.4-3.8.4 3.1.4-3.5.4 3.2.4-4.7.4-1.1.4 2 .4 3.7.4 2.8.4-3.3.4-10.4.4 8.8.4-2.8.4-.2.4 1.7.4-.8.4 2.8.4-.2.4-3.3.4-1 .4 7.3.4-5.2.4-4.9.4 6.4.4 4.4.4-2.9.4 2.5.4-8.3.4 1.9.4 7.8.4-9.5.4-4.6.4 10.7.4-7.2.4 8.6.4-1.9.4-8.8.4-1.7.4 6.9.4-4.6.4 4.4.4 3.2.4-6.8.4 4.7.4.4.4-5.8.4 3.2.4-2 .4 2.2.4 1.2.4-3.6.4 3.3.4-2.1.4 1.9.4-2.2.4-1.6.4-5.5.4 1.7.4-2.4.4 16.7.4-8.2.4-4.3.4.3.4 4.8.4-3.5.4.4.4 4.7.4-6.2.4.9.4-.2.4 5.3.4-.5.4-4.2.4 3.3.4-5.6.4 3 .4.1.4 1 .4-12.7.4 10.1.4-3.1.4 3.4.4 0 .4 3.8.4-2.2.4-.1.4-1.2.4 4.9.4-8.5.4 3.3.4-4.8.4 9.2.4-9.3.4 8 .4-13.3.4 12.1.4-9.3.4 6.4.4 1.6.4-3.2.4-3.3.4-3.7.4 4.4.4-.3.4 6.6.4-5.9.4.7.4-2.1.4.4.4 3.3.4 3 .4-5.6.4-2.7.4-.4.4.9.4 6.2.4 1.1.4-10.7.4 4.3.4-3.1.4 2.9.4 1.1.4 5.3.4-.9.4-6.7.4 3 .4-5.9.4 8.5.4-2.2.4-.8.4.1.4.4.4-1.5.4 2 .4 1.9.4-2.2.4-2.3.4-.6.4 3.6.4-4.6.4 1.5.4 1.9.4.2.4 6.9.4-11.8.4-4.1.4 6.1.4 3.4.4 2 .4-1.7.4-6.5.4 6.1.4-4.5.4 3.6.4-1.2.4-8.7.4 2.4.4 3.7.4 1.8.4-3.3.4 1.2.4 2.2.4-.3.4 3.7.4-7.3.4.8.4-.5.4 3.3.4-5.3.4-3 .4 5.3.4-2.7.4 5.9.4 1.9.4-10.8.4 8.4.4-.4.4 4.7.4-2.2.4-10.1.4 11.2.4 1.4.4-8.6.4 9.9.4-11.3.4 3.9.4-3.5.4 10.4.4-2.4.4-.8.4-3.9.4.2.4 3.4.4-3.3.4 1.7.4 1.3.4-3.7.4 2.5.4-1.9.4-4.7.4 12.6.4-7.9.4-.2.4-1.3.4-1.7.4.7.4 8 .4-2.4.4-2.3.4 4 .4-4.1.4-.8.4 2.1.4 1 .4-5.6.4 0 .4 5.5.4 4.2.4-6.3.4-5.2.4 7.6.4-3.4.4 0 .4-6.8.4 14.8.4-5.8.4-6.7.4-3.4.4 13.5.4-8.3.4-1.5.4-1.3.4 2.4.4 4.3.4 1.4.4-.1.4-.4.4-3 .4 2.5.4-2.7.4 8 .4-8.4.4 4.3.4-7.4.4 8.7.4-2.9.4 1 .4.9.4-1.2.4.7.4.4.4-4.9.4 4.4.4-1.1.4-5.1.4 11.1.4-6.3.4 1.1.4-2.3.4 1.9.4.9.4-.4.4 2 .4-10.4.4 14.8.4-3.3.4-4 .4-1 .4-2 .4-3 .4 8.4.4 3.6.4-8.4.4 3.9.4-12.8.4 8.2.4 2.9.4-3.4.4 7 .4-3.3.4-5.5.4 11.1.4-12.2.4 12.1.4-1.3.4-1.1.4 3 .4-10.5.4 3.8.4 3.6.4-1.3.4 5.2.4-3.8.4-5.6.4-1.2.4 7.2.4-6 .4 3 .4-4.1.4 7 .4-.5.4-8.4.4 4 .4 1.2.4.1.4.3.4.2.4-3 .4 5.5.4-4.8.4-4.9.4 5.8.4 2.7.4 2.6.4-7.7.4 5.9.4-2.2.4 7.1.4-6.2.4 1.5.4 5.9.4-10.1.4-8.2.4 2.9.4 1.9.4 4.3.4-2.4.4 9.2.4-3.8.4.6.4-.2.4-6.2.4 16.8.4-6 .4 0 .4-4.9.4-3.2.4-.2.4 10.3.4-2 .4-3.3.4-3.7.4 4.3.4.7.4-4.7.4.9.4.2.4 0 .4-3.3.4.7.4 11.7.4-2.6.4-3.6.4-1.7.4-1.1.4-2.5.4 6.3.4-4.7.4 6.6.4-9.6.4 6.8.4-1 .4-2.1.4 4.1.4.1.4 9.5.4-11.4.4 6.7.4-6.7.4 1 .4 1.2.4.2.4-3.1.4 2.6.4-.5.4 10.1.4-10.1.4-1.8.4 3.7.4 6.4.4-8.5.4 2.1.4-5.5.4 8 .4-.2.4 1.7.4-2.1.4 2.9.4-.4.4-6 .4 3.1.4-4.1.4 11.9.4-11.6.4-.2.4 3 .4 4.3.4-8.4.4 1.4.4.2.4 8.5.4-5.4.4-.2.4-1 .4 9.6.4-11.9.4 7.1.4-.6.4-5.9.4 5.4.4.8.4-5.7.4 6.6.4-5.4.4-3 .4 3.1.4 3.1.4-5.1.4 5 .4 0 .4-4.7.4 2.9.4-1.9.4 1 .4 1.7.4.8.4-2.3.4-.2.4 3.1.4-6.1.4 5 .4 1.5.4.6.4-2.7.4 4.5.4-2.6.4 1.4.4-7 .4.2.4-1 .4 2.9.4 1.2.4-3.9.4 5.5.4-.1.4-3.6.4.9.4 3.8.4.2.4.8.4-.3.4-5.4.4 4.9.4-4.3.4 4.9.4.6.4 2.3.4-6.1.4-1.8.4 1.1.4 3.6.4-1.7.4 5.2.4-8.5.4 3.5.4-2.1.4 2.8.4.7.4-.7.4.9.4 1.5.4 2.4.4-2.4.4-4.9.4 2.6.4 3.5.4-3.1.4 4.9.4-3.3.4 0 .4 3.4.4-9.5.4 9.2.4.7.4-5.4.4.6.4 1.3.4 1.2.4-3.4.4 2.5.4.7.4-5.3.4 1.5.4 4.8.4-5.9.4 5.4.4-4.6.4 1.7.4-2.2.4 1 .4 2 .4.4.4-2 .4 5.7.4-2.6.4-.4.4-2.9.4 1.5.4 5.3.4-5.4.4 3.2.4-4.6.4 4.7.4 4.8.4-1 .4-9.1.4 6.3.4-7.7.4 4.7.4 5.1.4-3.6.4-4.7.4 8.7.4-5.7.4 1.9.4-1.2.4 1.9.4-4.8.4 6.6.4-1.4.4-6 .4 5.9.4-4.6.4 1 .4 4.3.4-1.9.4-2.5.4-3.2.4 7.6.4 1.2.4-3.3.4-3.3.4 8.5.4-2.4.4 4.7.4-9.6.4-1.2.4.5.4 7.1.4-5 .4-2.5.4 6.5.4 2.4.4.6.4-3.2.4.4.4-.4.4-5.7.4 1.8.4-1.8.4 4 .4 2.8.4-5.4.4.9.4 4.8.4 1.9.4-2 .4-3.6.4 3 .4-5.9.4 11.4.4-4.1.4-10.8.4 7.9.4 2.4.4-8.4.4 5.7.4-4.6.4 5.5.4-2.7.4 2.8.4-3 .4 1.6.4 3.7.4-4.7.4 4.6.4 1 .4-6.6.4.1.4-5.6.4 10.7.4-.1.4-5.5.4 2.1.4 2.2.4-4.4.4 8.3.4-1.2.4-4.7.4 5 .4-2.9.4.2.4 5.2.4-1.2.4-.6.4-3.9.4 1.5.4-3.3.4 5.3.4-1.1.4-2.1.4 1.2.4-1.5.4.1.4 2.2.4 2.6.4-2.6.4-1.1.4 2.5.4-1.2.4.2.4-6.9.4 5.8.4-3.2.4 4.2.4-5.5.4 7.5.4-4.3.4-2.2.4-2.1.4 3.9.4-3.6.4 3.8.4 5.9.4-2.8.4-1.2.4-2.7.4 5.1.4-3.6.4 3.4.4-.2.4 1.4.4-6 .4.9.4 4.7.4-6.9.4 7.3.4-7.9.4 7 .4-6.4.4 3.2.4 3.3.4-2.3.4-3.4.4 6.5.4-5.1.4 4.6.4-5.1.4 10.1.4-6.9.4 2.1.4-.4.4-4 .4 5.1.4-3.4.4-3.4.4 7.7.4-6.4.4 6.6.4-6.4.4 3.2.4-5.6.4 4.3.4 6.3.4-6.4.4 1.3.4 2.1.4-.8.4 3.2.4-1 .4-4.8.4 2.4.4-8.7.4 12 .4-1.3.4-3.4.4.9.4 3.1.4-6 .4 4.8.4-6.9.4 7.5.4-8 .4 1.8.4-.8.4 3.2.4 1.3.4 3.2.4-4.2.4-1.4.4 2.7.4 3.6.4-4.1.4 2.6.4-.4.4-4 .4 5.4.4-3.9.4 3 .4.4.4-1.8.4-.7.4.7.4-4 .4 7.3.4-2.1.4-6.8.4 5 .4-3.6.4 9.7.4-8.2.4.7.4 3.2.4-1.4.4-1.1.4-1.7.4 5.3.4-4.1.4.9.4-4.3.4 2.8.4 2.8.4-.2.4-2.8.4 2.8.4-.8.4-4.8.4 4.5.4.4.4 2.5.4-3.9.4.9.4 4.1.4-3.1.4.8.4-.1.4 1.8.4-4.1.4.7.4-1.3.4-2.8.4 2.8.4-5.4.4 10 .4-6.3.4 3 .4-.7.4 2.1.4-9.6.4 11 .4.9.4-.2.4-4.3.4 1.4.4 4.3.4-4.9.4 4.4.4-2.7.4-1.9.4-1.7.4 3.7.4-2.2.4 6.1.4-2.6.4-4.7.4 4.1.4-3 .4.5.4 1.7.4-2.4.4 1.9.4 3.5.4-1.7.4-2.1.4 3.2.4 2.7.4-2.3.4-3.2.4 2.1.4-2.7.4.1.4-.2.4 4.9.4-2.6.4 2.1.4 1.4.4-6.2.4-1.9.4 1.7.4 4.1.4 2.1.4-5.1.4 3.7.4-5.8.4 1.6.4 5.1.4-5.1.4 2 .4-.4.4-2.1.4-.2.4-.1.4 2.3.4-2.1.4 2.4.4-2.3.4 4.6.4-5.3.4.6.4-5.4.4 6.7.4-5.9.4 5.5.4 1.3.4 1.3.4-2.4.4 2.7.4 1.1.4-4.6.4 2.1.4 3.1.4-2.8.4-1.7.4-2 .4 4 .4-2.2.4 1.5.4-1.7.4-5.9.4 6.5.4-4.7.4 6.9.4-4.6.4 2.8.4 1.1.4.8.4-6.2.4 6.9.4-6.5.4 2.6.4 3.7.4-2.8.4-2.5.4 1.4.4 10.5.4-6.4.4.5.4-8.3.4 4.7.4 3.1.4 3.3.4-5.7.4-3.9.4 2.3.4 3 .4-4.2.4 3.5.4-2 .4-.7.4 2.2.4 3.9.4-2.6.4-7.9.4 9.2.4-7.2.4 7.7.4-2.6.4-3.6.4 3.2.4-1.6.4-3.8.4 1.7.4-1.1.4 7.3.4-3.2.4.5.4 3.9.4-1 .4-3.7.4-2.9.4 2.6.4 4.3.4-.1.4-3 .4-2.7.4-1 .4 8.4.4-5.8.4 3 .4 1.3.4-1.6.4.3.4.4.4-.4.4-5.1.4 5 .4-1.8.4.4.4-.7.4-6.1.4 7.4.4 1.6.4 6.4.4-14.9.4 9.1.4 1.2.4-6.2.4 4.2.4-2.1.4-.8.4 3.4.4-.6.4-3 .4 1.1.4 1.3.4.7.4-.1.4 2.9.4-5.2.4-1 .4 1.6.4-1.7.4 5.5.4-1.1.4-.7.4-7.8.4 7.1.4-3.7.4-.6.4.4.4-2.2.4 3.5.4-.9.4 7.3.4-5.6.4-5.8.4 4.1.4.7.4 3.4.4-2.9.4 3.5.4-5.4.4 2 .4 1.7.4-6.8.4 3.2.4 3.3.4-4.2.4-.7.4 2.5.4 8.3.4-3.9.4-3.4.4 1 .4 0 .4.5.4-1 .4 2.2.4-1.5.4 5.5.4-4.8.4-.8.4-1.4.4 1.6.4.1.4 3.2.4-1.2.4-2.9.4-2.6.4 4.6.4 1 .4 2.1.4-4.3.4-1.5.4 2.2.4 3.5.4-4.5.4 1.6.4.2.4-2.1.4 2.4.4.9.4 0 .4-1.3.4-.6.4.4.4-.5.4 5.3.4-1 .4-2.5.4-5.6.4.9.4.7.4 2.4.4-5.8.4 5.4.4 5.4.4-3.3.4.7.4-3.6.4 2.6.4-.4.4-2.7.4.9.4-3.4.4 8.1.4-2.1.4-3.6.4.9.4-.2.4-2.5.4 5 .4-1.8.4-1.8.4-1 .4 4.3.4-.6.4 1.2.4-1.3.4 2.6.4-4.6.4 3 .4-3.1.4-1.2.4 2.5.4-1.4.4-.6.4-3 .4 6.2.4-1.3.4-2.8.4.7.4 4.4.4.1.4 1.7.4-3.3.4.1.4-3.3.4 1.4.4 0 .4 5.7.4-3.3.4.7.4-6.4.4 4.6.4-1.9.4 7.4.4-10.3.4 1.8.4 3.8.4 2 .4-3.2.4 2.7.4-4.9.4 6.2.4-3.4.4.3.4-1.4.4 3.4.4-1.9.4 2.2.4.5.4-1.6.4-2.4.4.4.4-4 .4 3.8.4.7.4 3.9.4-5.3.4 3.4.4.3.4-2.4.4-.3.4.5.4-.7.4.6.4-2.9.4 3.7.4-1.8.4 2.7.4 2.7.4-3.4.4.2.4.1.4-.5.4 1.8.4-5 .4-1.7.4-.7.4 6.8.4-1.5.4 2.9.4-2 .4-2.5.4 0 .4-1.5.4 2.7.4 1.7.4.5.4-.4.4-1.4.4-9 .4 9.8.4-6.9.4 7.9.4-1 .4-3.4.4.5.4 8.6.4-6.7.4 2.5.4-4.8.4 4 .4-4.2.4 4.3.4-.7.4.8.4-.6.4-3.5.4-2.2.4 4.3.4-3.1.4 4.4.4-5 .4 3.2.4-3 .4 1.9.4 3.4.4-3.2.4 2 .4-3.3.4-2.6.4 6.4.4-3.1.4-.4.4-5.4.4 9.7.4-2.1.4-3 .4 4.4.4-3 .4 5 .4-1.8.4-.4.4 1.5.4-3.5.4-.1.4-6 .4 3.8.4 3.2.4-.1.4 1 .4-2.2.4-2.2.4 2.8.4-.6.4 1.6.4 1.3.4 2.4.4-8.6.4-.1.4 4.8.4-2.5.4 1.8.4 4.3.4-7.9.4 6.5.4-3.8.4-3.2.4 6 .4-10.5.4 4.6.4 8.2.4-6.7.4 2.8.4 2.3.4-5.8.4-.7.4-.2.4 6.8.4-4.2.4 5.9.4-8.7.4 4.6.4-4.2.4 2.4.4 3.1.4-6.4.4 1 .4 2.5.4-1 .4-2.3.4 5.5.4-2.1.4-2.9.4 3.4.4-3.2.4 4.9.4-4.8.4-3 .4 5.2.4-1.8.4.6.4-6 .4 2.2.4 5.6.4-1.5.4-6.3.4 4.3.4-2.6.4 2.5.4-3.2.4 1.9.4-1.4.4-5.9.4 7.7.4.7.4-6.2.4 1.3.4-3.1.4-.2.4-2.9.4-3 .4 3.2.4-1.4.4-5 .4-1.4.4 1.5.4-6.3.4.2.4-3.5.4-5.8.4-7.5.4-1.1.4-5.1.4-3.5.4-7.2.4-.3.4-3.2.4-1.4.4 1.1.4-8.5.4 5.7.4-.2.4 3.2.4 3.9.4 5.8.4-1.9.4 11.7.4 5.3.4-2.2.4 8.8.4 3 .4 3.7.4 3.5.4-.7.4.9.4 5.7.4.3.4 3.3.4 4.1.4-1.1.4-.8.4-.4.4 5.3.4-2.8.4-.2.4 2.2.4-1.7.4 2.2.4 1.1.4 3.3.4-2.1.4.4.4-3.8.4 6.9.4-4.6.4 6 .4-6.8.4 4.1.4-1.3.4.5.4-.1.4-.6.4 6.5.4-3.2.4-.9.4-3.3.4 4.6.4-1.1.4.6.4 1.8.4-4.7.4 2 .4-3 .4 1.6.4 2 .4 5.3.4-6.1.4 2 .4-3.5.4 1.9.4 5.7.4-.8.4-2.1.4-3.3.4 8.6.4-9.6.4 2.8.4.8.4-.1.4-2.2.4 4.5.4-6.9.4 6.9.4 2.1.4-5.1.4 3.2.4-3.7.4 3.1.4-5.1.4 3.6.4 3.8.4-4.4.4 3.8.4.6.4-4.7.4 2.4.4-1.7.4 2.9.4 3 .4-2.6.4-3.3.4 2.7.4.6.4-.8.4-7.5.4 3.5.4 5 .4-5.8.4 7.2.4-.8.4-7.5.4 3.1.4 1.2.4-1 .4 1.6.4 1.6.4-2.9.4 1.4.4-2.9.4-2.7.4 5.5.4 2.2.4-1.1.4-5.7.4 4.8.4 1.7.4-1.7.4 3.6.4-9 .4 4.8.4 1.3.4-3.4.4 6.3.4-5 .4 2.3.4-2.6.4 2.6.4-2.7.4.3.4 6.1.4-6 .4 2.6.4.5.4 1.9.4-2.2.4 1.3.4 1.2.4-4.2.4 2 .4-3.1.4 3.4.4-.5.4.6.4-2.8.4-.1.4-.4.4.7.4-1.9.4 5.5.4-6.6.4.9.4 4.7.4-1.3.4 1.6.4-2.5.4-.7.4 0 .4 1.2.4 2.6.4-1.4.4-3 .4-1.6.4.3.4 5.4.4-3.2.4-.8.4 2.2.4-3.1.4 4.7.4-.7.4.6.4.3.4-2.4.4-2.3.4.1.4 3.5.4-2.4.4 1.8.4-.8.4-1 .4-.2.4 4.1.4-2.3.4 1.6.4-2.9.4 4.4.4-5.9.4.2.4-.6.4 1.6.4-1.8.4 4 .4 1.7.4-1.6.4-2.7.4 3.3.4 1.5.4-.5.4.3.4-6.8.4 3 .4-.2.4 1.3.4.4.4-.9.4 1.9.4-1.1.4 3.2.4-2.6.4-2 .4 2.6.4-4.6.4 4.1.4-.7.4 3.2.4-5.7.4 2.9.4 2.4.4-4.6.4-2.4.4 6.3.4-.1.4 1.3.4-1.2.4-4.4.4 2.3.4.2.4.6.4-3.1.4 1.1.4-1.1.4 7.2.4-1.7.4-2 .4-1.8.4-1.3.4 5.6.4-3.8.4 2.2.4-1.3.4.7.4-2.1.4 2.5.4.5.4-4.2.4.1.4-1.7.4-.9.4 3.4.4-.2.4 6.4.4-3.2.4-2.2.4-3.7.4 6.1.4.4.4-1.8.4-.4.4-2.8.4 2.8.4-.7.4-.4.4.6.4-.2.4-2.6.4 4 .4-4.8.4-.4.4 5.5.4-2 .4 1.8.4 2 .4-3.4.4-1.8.4-1.6.4 6.3.4-3.4.4 4.5.4-1.5.4-4.8.4 2.5.4-1.3.4 2.2.4-3.8.4-.5.4-1.5.4 1.6.4-3.1.4 2.9.4 2.5.4-2.8.4 3.9.4-.7.4-2.6.4.3.4-1.1.4 4 .4-3.4.4 5.3.4-1.7.4-1.7.4 0 .4 5.3.4-9.7.4 6.8.4-2.7.4 1.2.4-6.3.4 8.4.4-2 .4 1.2.4-4.2.4 2 .4 1.5.4 1.6.4-4.9.4 5.7.4-1.8.4-3.5.4 1.8.4 2 .4-1.7.4 3 .4-6.9.4 4.1.4-.9.4 5.1.4-10 .4 1 .4-1.2.4 2.4.4 3.1.4 2.3.4-7.9.4 2.5.4-4.9.4 6.4.4-1.1.4 1.2.4-3.4.4-2.3.4-2.7.4 2.7.4 3.9.4-8.1.4 3.7.4-4.5.4 0 .4-.7.4 3.3.4-2.9.4-2.1.4-4 .4-1.8.4 1.8.4 2.6.4-.6.4-.2.4-.6.4 1.2.4.1.4-1.2.4 5.8.4-2.4.4 3.1.4 2 .4.2.4-1.3.4 7.6.4-3.8.4 3.8.4-5.8.4-.2.4 2.3.4.2.4 4.4.4-4.6.4 3.6.4-1.9.4 6.3.4-5 .4 4.1.4-2.1.4.1.4-.5.4 2.1.4-2.1.4-.7.4-1.1.4 2.8.4.3.4-2.2.4-3.5.4 6.6.4-1.6.4-2.1.4.5.4 2.8.4 3.5.4-5.4.4.1.4 2 .4-2.3.4 4.2.4-3.7.4 4.6.4-1.2.4-.1.4-3.6.4.1.4 2.7.4-3.9.4 2.9.4 1.9.4-4.1.4 5.7.4-12.1.4 16.5.4-5.7.4-1.9.4 2.2.4-4.5.4-.6.4 5.3.4 1.1.4-3.6.4 0 .4-.9.4 1.5.4-3.2.4-1.2.4 4.5.4-1.2.4 4.8.4-4 .4 2.7.4-2.9.4-.1.4-1 .4-1.7.4-.7.4 6.5.4-2.8.4 2.4.4-1.2.4-5.6.4 1.9.4 3 .4.7.4-1.8.4 3.2.4 4.7.4-3.3.4-3.3.4-2 .4 5.5.4 1.4.4-4.6.4-1.2.4.3.4 1.9.4-.1.4-1.3.4-.7.4-2.2.4.8.4 3.1.4.6.4 2.1.4-2 .4-5.1.4 4 .4.5.4-2.7.4 4.2.4-3.5.4 1.2.4 1.7.4-6 .4 9.3.4-6.2.4.4.4-.7.4 2.7.4 3.2.4-1.9.4 1.3.4-7.8.4 1.9.4 2.1.4 4.4.4-4.7.4.1.4-1.1.4 1.5.4 2.4.4-1.8.4.8.4-6.3.4 6.7.4-1.9.4 1.5.4.6.4-1.4.4-2.4.4-.7.4 2 .4-5.9.4 5.5.4 1.5.4-4.7.4 5.9.4.1.4-5.7.4 2.8.4 1.9.4-.7.4.3.4.2.4-1.2.4.7.4 4.3.4-3 .4.5.4-2.5.4 2.5.4-.3.4-1 .4-2.7.4-.9.4 4.5.4 2.9.4-4.4.4-2.4.4 4.8.4-.9.4-2.5.4 4.9.4-6.1.4 2.5.4 4 .4-6.8.4 4.5.4-.1.4-5.9.4 5 .4-1.7.4 1.2.4-1.9.4 2.9.4-2.4.4 2.2.4-2 .4 2.7.4-7.1.4 7.5.4-.1.4-1.3.4.3.4-1.8.4 3.3.4-.2.4-4.3.4.4.4 2.4.4 3.7.4-3.8.4.5.4 2.2.4-1.6.4-1.4.4 0 .4.1.4-4.9.4 4.6.4-1.5.4 2.6.4-4.9.4 7.3.4-6.3.4 4.2.4-3.8.4-1.9.4 5.9.4-1.1.4 1.1.4-5 .4 3.9.4-1.2.4 2.9.4-2.5.4-.2.4-1.3.4 2.1.4 0 .4-1.8.4 2 .4-2.2.4-1.1.4 6.9.4-6.8.4 3.2.4 2.6.4-4.3.4 3.1.4-3 .4 3.5.4-3.2.4-1.3.4 5.1.4-1.5.4-4.3.4 3.1.4-1.1.4 5.2.4-7.4.4 7.5.4-5.9.4 4.9.4.6.4-3 .4-.3.4.1.4-2 .4 2.3.4-1.5.4 2.6.4-2 .4 1.3.4-2.6.4 5.6.4-1.7.4.7.4-3.6.4 1.3.4 1.2.4-1.3.4 3.8.4-4.3.4-4.4.4 2.2.4 1.1.4 2.1.4-1.5.4 2.4.4-.1.4-4.9.4 5.1.4-5.8.4 1.9.4-1.3.4 4.6.4-1.4.4 3.1.4-.6.4-6.4.4 5.7.4-1.5.4.3.4-2.5.4-1.1.4 1.7.4-.6.4 1.7.4 1.7.4-4.4.4 4.2.4-.3.4.9.4.4.4-2.3.4-2.6.4 2.3.4-6.7.4 9.8.4-2.1.4-2.8.4 5 .4.3.4 0 .4-3.3.4-.8.4-3 .4 1.4.4 4 .4.1.4-2.1.4-.3.4 5.9.4-5.3.4.1.4-3.9.4 4.9.4-7.2.4 5.4.4 3.2.4-4.4.4 2.3.4-1.6.4 3.7.4-.5.4-1.8.4 2.4.4-1.3.4 3.4.4-7.7.4 4.6.4-.1.4 1 .4-3.6.4-.9.4 3 .4-1.1.4-.7.4 3 .4-1.8.4 2.6.4-4.2.4 3.4.4-2.3.4-1.8.4 3.8.4-4.8.4 6.5.4-1.9.4-.3.4.3.4-2 .4 2.6.4-1.6.4-1.3.4 1 .4-3.3.4 7.5.4-8.5.4 1.3.4 4.8.4-1.8.4 1.2.4 1.9.4 3.4.4-10.8.4 6.7.4-2.1.4 1.4.4-2.6.4.2.4-1.8.4 3.5.4-2.2.4.5.4-1.1.4 3.8.4-3.2.4-3.4.4 4.1.4.1.4-2.8.4 6.8.4-4.4.4 1.5.4-.6.4-2.2.4 5.4.4 1.6.4-4.8.4 1.2.4-2.5.4 2.9.4-4 .4 5.6.4-6.1.4 2.2.4 2.2.4-.3.4-.7.4 4.9.4-8.7.4-.5.4 5.4.4-7.3.4 4.6.4.5.4-.1.4 4.8.4-5.8.4 1.4.4-1.6.4.6.4.4.4 1.8.4-2.1.4-.5.4 2.5.4-2.5.4 2.8.4 1 .4-2.9.4-.7.4 2.7.4-1.5.4-5.6.4 4.8.4 3.9.4-6.4.4 7.8.4-7.6.4.7.4 5.1.4-4.4.4 4.9.4-2.9.4-2.2.4-.6.4 2.8.4-2.2.4 4.5.4-1.9.4-3.1.4.7.4 1.8.4-1.4.4 2 .4 1.8.4-1.2.4-3.6.4.5.4 4.1.4.1.4-2.4.4 3.8.4-6.1.4 1.3.4 3.1.4-4 .4.7.4 3.7.4-3.8.4.9.4 1.3.4-.9.4 1.1.4.9.4 3.1.4-6.7.4 8 .4-5.4.4-2.3.4-.9.4 6 .4-4.9.4 1.6.4-1.6.4-1.2.4.5.4.4.4 4.1.4-3 .4-1.3.4-2.3.4 4.7.4 1.6.4-7.1.4 2.7.4 1.6.4 4.4.4.1.4-7.9.4 5.6.4-1.1.4-.1.4-1.4.4-.2.4-.3.4-.1.4 3.5.4-1.1.4.1.4-1.5.4 1.3.4-.6.4 2.9.4-5.7.4 4.4.4-2.2.4.6.4 1.4.4-5.5.4 4.7.4-3 .4 4.9.4-2.5.4-.4.4 1.3.4-.9.4-3.6.4.6.4.2.4 2.4.4 1.4.4-3.1.4.2.4 4.8.4-8.7.4 3.4.4 2.4.4 2.4.4-4.4.4.5.4 1.2.4 1.6.4-6.4.4 7.3.4-1.2.4 1.6.4-2.6.4.1.4-.5.4 3.1.4-2.5.4 1.2.4-1.3.4-2.3.4-1.5.4-.4.4 4.9.4-.8.4 2.3.4-4.2.4.8.4.7.4-.7.4 3.4.4-4.3.4 2.8.4-3.1.4 2.5.4-.5.4-2.4.4.4.4 4 .4.4.4-.9.4-2.2.4 1 .4.4.4-2.1.4-1.5.4 3.2.4 9.5.4-14.2.4 1.5.4 1.3.4 2.6.4 1.9.4 1.3.4-3.1.4-2.2.4 2.8.4-2.7.4 3.2.4-5 .4 4.7.4.9.4-3.3.4 2.5.4-4.6.4 4.9.4-4.5.4 2 .4-.1.4-1.5.4-.1.4 5.5.4-3.6.4.2.4-2.6.4 3.1.4 3.5.4-3.8.4.4.4 1.8.4-1.6.4 3.1.4-5.9.4 5.9.4-1.6.4-3.7.4 5.3.4-3.7.4-2.7.4 7.6.4-7 .4 4 .4-3.3.4 3.5.4-4.2.4 1.7.4-3.8.4 5.9.4-4.4.4 5.2.4-.8.4-2 .4-4.4.4 7.1.4-2.9.4-2.1.4 1 .4.6.4-2.9.4 6.7.4-3.6.4-2.1.4 3.1.4-1.1.4-2.6.4 6.4.4-1.3.4 1.3.4-4.7.4 4.8.4-6.7.4 4.4.4 2.3.4-1.8.4-.5.4-2.6.4 1.8.4.6.4 2.4.4-1.7.4 3.8.4-6.9.4-3.7.4 7.9.4-.9.4-.9.4-5.1.4 3.5.4-.9.4 7.7.4-2.6.4-2.6.4-3.9.4 4.4.4.8.4-.1.4.3.4-3.1.4 1.1.4 1.5.4 1.4.4-.6.4.2.4-.6.4 1.3.4-2.2.4 1.3.4-3.5.4.8.4-3.2.4-.3.4 5 .4 2.7.4-6.9.4 2.7.4 5.8.4-5.7.4-1.7.4 1.2.4-5.9.4 8.8.4-4.6.4 2.5.4 2.1.4-2.4.4.9.4-2.1.4 1.8.4 1.1.4-4.4.4 4.5.4-.7.4 1.6.4-2.6.4 2.5.4-5.5.4 2.9.4 1.8.4-4.1.4-1.4.4 1.5.4 1.1.4 1.8.4-2.1.4 1.2.4 1.3.4-1 .4-1.1.4 3.6.4-1 .4-3.3.4 2.7.4 1 .4-2.4.4 1.1.4-.2.4-.1.4 2.8.4-4.7.4 3.7.4-.5.4.7.4-3.7.4 5.7.4-3.8.4 6.4.4-9.5.4 2.8.4.1.4.5.4 1.9.4-3.1.4 5 .4-5.3.4-.9.4-1.7.4 2.4.4-1.5.4 3 .4-1.2.4 4.3.4-4 .4-.8.4 3.9.4 2.2.4-3 .4-3.3.4 2.2.4.6.4 1.9.4.8.4-5.1.4-3.5.4 9.7.4-5.4.4.3.4 2.4.4-.1.4-.5.4-1.4.4-1.4.4.8.4-1 .4-2.1.4 5.1.4-.5.4 1.5.4-4.2.4 2.8.4 3.6.4-2.4.4 2.1.4-4.8.4 4.4.4-3.1.4.1.4-1.6.4 2 .4-1.8.4-2.1.4 2 .4.5.4 1 .4-2.5.4-5.1.4 4.2.4 3 .4-1.3.4 3.2.4 1.5.4-6.2.4-1.5.4 5.2.4-1 .4-.3.4-2.5.4 3.8.4-2.3.4.3.4 0 .4 3.9.4-5.5.4 3.9.4-.9.4-2.4.4 2.5.4-3.8.4 1.7.4-.4.4 5 .4 1.2.4-6.7.4 2.1.4-5.1.4 8.5.4-1.3.4 2.5.4-7 .4 3.5.4 2.7.4-2.1.4-2.9.4.3.4 3.3.4-2.4.4-.1.4-3.2.4 5.3.4-1.9.4.9.4.8.4-2.8.4-.2.4 1.4.4-1.1.4-2 .4 1.7.4-1.8.4 3.6.4 2.1.4-1 .4 1.9.4-4.4.4 2.8.4-6.2.4.3.4 6 .4 3.6.4-1.4.4-3.3.4.3.4-4.3.4 4.1.4-1 .4-2.2.4 6.9.4-3.3.4-1.5.4 2 .4-2.6.4 4.9.4-2 .4-.1.4-.1.4-2.4.4-.4.4 2.5.4-.3.4-.9.4-1.7.4 2.3.4-2.3.4 2 .4-.6.4-1.4.4 3.2.4-3.1.4 3 .4 1.6.4-4.9.4.2.4 1.3.4 2.5.4-.5.4-2.5.4.3.4 2.6.4.8.4-2.4.4 1.6.4-5.9.4 5.6.4-2 .4 5.6.4-5.8.4-1.1.4-.7.4 3.9.4-2.4.4.8.4-1.8.4-.5.4-.1.4 4.1.4-3.3.4 6.9.4-3.4.4-4.8.4 7.6.4-2.7.4-.6.4.5.4-2.3.4-1.2.4-1.2.4 1.4.4 1.4.4.2.4-.6.4.1.4 1.1.4 1.9.4-1.3.4-4 .4-1.4.4 1.5.4 1.6.4-3.1.4 4.8.4-1.7.4.8.4-2.6.4-2.3.4 8.4.4-7.2.4.5.4 5.9.4-8.1.4 4.8.4 4.9.4-6 .4-1 .4 3 .4-.6.4-1.8.4 1.6.4 4.9.4-4 .4-.9.4-1.9.4 1 .4 4.4.4-3.2.4-2.1.4-2 .4 3.2.4 1 .4 0 .4 2.5.4 4.2.4-7 .4 0 .4-3.8.4.1.4 1.8.4 1.8.4 4.5.4 1.1.4-5.1.4 2.3.4-1.7.4.4.4.6.4-2.2.4 2.9.4-.5.4-2.3.4 1.5.4 1.1.4-.2.4.7.4-2.2.4-.9.4 1.6.4-.7.4.5.4 1.7.4 2.2.4-2.4.4 1.6.4-3.6.4-.2.4 2.7.4-2.4.4-2.3.4-3.3.4 6.9.4-3.2.4 4.4.4-6.7.4 1.8.4 4.6.4-.9.4-1.1.4-1.2.4-.6.4 6.9.4-5 .4 0 .4-.5.4.7.4-2 .4 3.5.4-4.6.4 2.3.4 2.6.4-5.1.4 1.4.4 2.9.4 4.3.4-6.8.4.9.4-1.7.4 4.2.4-5.9.4 4.9.4-2.9.4-2.7.4 5.2.4-7.2.4 6.5.4-.7.4 2 .4-4.7.4 3.2.4.7.4 1.3.4-1.8.4-5.4.4 5 .4 3.9.4-6.4.4-1.9.4 1.8.4-1.9.4 3.3.4 3.2.4-4.6.4-.7.4.4.4 2.2.4 2.1.4.2.4-1.8.4-2.8.4 2.5.4-1.7.4 3 .4.9.4-3.1.4-2.8.4 5.4.4-2 .4-1.8.4 1.9.4.9.4-1.4.4 10.9.4-7.6.4-3.4.4 2.3.4.3.4-1.6.4-3.7.4 1.6.4 3.3.4.9.4.3.4-2.2.4-.6.4 4.9.4-5.8.4-2.1.4 3.2.4.5.4-.8.4-1.6.4 2.1.4-1.2.4 5.5.4-5.2.4 1 .4-4.2.4 4 .4-1.3.4-.5.4 4 .4-.5.4-3 .4 5 .4-.7.4 1.5.4-6.3.4-1.5.4 3.2.4-.4.4.9.4-2.3.4-.5.4 4.4.4.6.4-1.7.4-2.7.4-1.6.4 4.8.4.6.4-6.8.4 5.1.4-5.6.4 8.8.4-4.5.4 1.3.4-1.4.4-1.1.4-1.4.4 2.4.4-.3.4-4.6.4 4.3.4-.5.4-6 .4 10.3.4-7.4.4-1.3.4-.3.4-.5.4 1.2.4 2.4.4-3.1.4-5.2.4.9.4 4.2.4-.1.4-4.4.4-1.5.4.4.4-4.4.4 8.1.4-.8.4-4.7.4 6.1.4-2.6.4-1.6.4.5.4.4.4-.9.4 4.2.4-1.1.4-2.2.4-.9.4 4 .4 3.6.4-4.1.4 4.2.4.8.4-.7.4 5.3.4-4.5.4-.4.4 1.8.4 3.4.4-5.3.4 6 .4-.1.4-3.1.4-1 .4 1.8.4 1.2.4-.4.4 1.3.4 4 .4-6.7.4 1.3.4-1.5.4-1.1.4 3.2.4-1.3.4 1.8.4-5.1.4 5.3.4.3.4-3.9.4 4.1.4-2.3.4-.9.4-4 .4 5.3.4.2.4.9.4-2 .4-2.9.4 2.8.4 5.7.4 1.7.4-2.9.4-2.1.4-1 .4.9.4-2.9.4 1.1.4 2.6.4-4.1.4 4.4.4 1.5.4 1.2.4-9.5.4 5 .4.9.4-1.3.4 3.1.4-3.6.4-1.2.4-4 .4 8.7.4-2.1.4-1.9.4 6.1.4-3.6.4 1.2.4-2.1.4-3 .4 3.3.4-1.2.4 1.2.4-.2.4-4 .4 6.6.4-3.1.4-4.4.4 1.9.4 3.6.4.4.4-1.9.4.9.4-3.3.4 3 .4 1.1.4-3.1.4-2.2.4 5.2.4 1.6.4-2.2.4 1.2.4-2.6.4 2.2.4-3.4.4-2.2.4 3.2.4 2.7.4-.7.4 2.1.4.8.4-4.9.4.7.4 5.1.4-3.1.4-3.6.4 1.6.4 1.2.4-3.5.4 4.7.4-.9.4-2.8.4 1.4.4 4.1.4-1.1.4-4.5.4 5.1.4-4.1.4-2.1.4 5.2.4-2.9.4 4.5.4-5.1.4.4.4 1.4.4.5.4-.9.4-.5.4 1.1.4 4.5.4.2.4-7.5.4 2.2.4-.6.4 2.2.4-.8.4-1 .4 2.5.4 1.5.4-2.3.4-1.6.4-4 .4 3.6.4 4.8.4-7.3.4 3.9.4 4.3.4-7.8.4 2.9.4.3.4 6.1.4-5.4.4-.2.4-.3.4-1.5.4 1.1.4-1.6.4 1.9.4-4.6.4 2.2.4 5.1.4-2.1.4 3.2.4-3.8.4 3.6.4-4.1.4-4.4.4 3.9.4 2.8.4.2.4-2.5.4-3.9.4 2.1.4 2.4.4-.3.4 1 .4-1.5.4 3.9.4-.6.4-1.9.4-.3.4-.9.4 0 .4 2.5.4-2 .4-2.4.4 2.5.4 0 .4-2.8.4 1.8.4-4 .4.7.4 5.1.4-3.1.4 3.3.4.7.4-2.4.4-1.7.4 3.2.4 1.3.4-3.3.4 2.4.4-5 .4 2.7.4 4 .4-6.1.4 6 .4-5.6.4 5.1.4 1.7.4-4.1.4 4.3.4-6.1.4 3.6.4 2.3.4-3.1.4-1.4.4 1.2.4 1.7.4-2 .4 1.3.4-2.8.4-3.1.4 2.9.4.2.4 3.5.4-3.3.4-1 .4 3.5.4 1.2.4-2.9.4 1.7.4-2.2.4-.1.4-2.5.4 6.1.4-3.7.4 2.1.4 3.9.4-6.8.4-.7.4 3.2.4.8.4-1.4.4 3.2.4-3.6.4-.2.4-.8.4 7.5.4-5 .4-.5.4 3.1.4-1.3.4-1.4.4-.6.4 3.7.4-3.7.4-.1.4 1.6.4-5.6.4 8.2.4-4.4.4 1.2.4-3.3.4.3.4 2.4.4.8.4-3.3.4 1.1.4 1.9.4-.4.4-3.2.4 3.1.4 1.4.4.5.4 1.7.4-6.8.4 2.4.4-1 .4 2.6.4 4.3"/>
<path fill="none" stroke="#525252" stroke-width="10" stroke-linejoin="round" stroke-linecap="round" d="M132.5,997.5l.4.3.4-.7.4 2 .4-1.1.4 1.7.4.1.4-2 .4 2.7.4-3.4.4-.6.4.7.4.5.4 1.7.4 1.7.4-3.3.4 1.4.4.1.4.2.4-.5.4.7.4-1.3.4 0 .4-.4.4 2.1.4-3.3.4 1.1.4-1.2.4.7.4 1.1.4 1.2.4-2.4.4 3.1.4-2.8.4 2 .4 1.5.4-2.9.4 2.3.4-2.1.4-.6.4.4.4.6.4-1.1.4 2.8.4-1.6.4 1.5.4-2.7.4-.4.4 1.5.4-1.4.4.3.4 2.5.4-1 .4-2.3.4 3.7.4-2.7.4 2.1.4-1.8.4-.1.4-1.2.4 1.7.4.1.4.4.4.5.4-3.5.4 1.4.4.7.4 2.6.4-1.2.4-1.5.4 1.4.4-2.3.4 2 .4.5.4-1.3.4.4.4-.4.4-.5.4.9.4-.7.4-.8.4.9.4-.4.4 1.2.4.2.4-2.6.4 3.2.4.2.4.1.4-1.2.4-.5.4 1.3.4-.7.4.6.4-1.9.4 1.8.4-.5.4-1 .4 4.4.4-4.1.4.2.4-1 .4 1.3.4-2.1.4 2.5.4.1.4.4.4.7.4-1.9.4.3.4-1 .4-.1.4.9.4-.7.4-1 .4-.4.4 1.1.4-1.1.4 1.7.4 1.3.4-2 .4 1.1.4.9.4-2.7.4 1.8.4.6.4-1.5.4-1.1.4 4.5.4-4.5.4-.4.4 2.5.4-1.3.4.9.4-.3.4-.7.4 1 .4.7.4 1.8.4-3.2.4.9.4 1.2.4-3.4.4 1.4.4-.5.4.3.4-1.4.4 4.2.4-1.4.4-1.6.4 1.9.4-2.8.4-1.2.4.6.4 2.7.4-.2.4-1.4.4 4.9.4-3.2.4.9.4-1.3.4-2 .4 3 .4-.1.4-3.2.4.2.4 1.3.4 2 .4-1.5.4-.7.4-1.2.4 1.1.4 1.6.4-.2.4-1.4.4-.4.4.5.4.4.4-.3.4 1 .4-.6.4-.7.4-1.2.4-.7.4 1.1.4-.6.4 1.5.4.2.4-.4.4-2.5.4 3.9.4-1.2.4-.3.4-1.9.4 2 .4-1.1.4 1.4.4-.2.4.7.4-.5.4 1.5.4-2.1.4-.2.4-.3.4 2.6.4-4.5.4 3.4.4-.8.4.7.4-.8.4.5.4-1.4.4.8.4.7.4 1.4.4-.9.4 2.3.4-3.8.4-2.5.4 2.6.4 1.6.4-.6.4.5.4.2.4-1.7.4 1.5.4-1.2.4 1.1.4-1.7.4-.8.4 2.4.4-3.4.4.1.4 0 .4 5.1.4-3.9.4.8.4.1.4-.5.4-.1.4-1.2.4.4.4-.1.4 1.3.4-.9.4-1.6.4 2 .4 1.2.4-1.3.4-2.4.4.5.4 1.4.4-2.8.4 2.8.4 1.6.4-.8.4 1 .4-.8.4-.9.4-.6.4 1.9.4-1.7.4.7.4-.8.4.7.4-3.6.4 3.6.4-2.7.4 2 .4-1.3.4 3.8.4-3.7.4-2.7.4 2.2.4 4.6.4-.7.4-3.2.4 4.4.4-5.2.4 1.1.4-1.6.4 2.8.4.2.4-3.2.4 1.9.4-2.8.4 3.2.4.8.4-2.6.4-.5.4 2.4.4-.9.4-4 .4 1.2.4 4.7.4-.7.4-.1.4-4.2.4 4.3.4-2.3.4.4.4-1.2.4 3.9.4-1.3.4-2.2.4 2 .4-1.3.4 2 .4-4.1.4 1 .4 2.7.4-3.3.4 1.9.4-.8.4-.5.4-.2.4-2.8.4 3.5.4-1.5.4 3.6.4-1.8.4-.3.4 1.6.4-1.7.4-.2.4 2.4.4-2.3.4 1.1.4-.9.4-1.2.4.4.4.6.4-.3.4 2 .4-1.1.4-.3.4 4.4.4-2.7.4-2.7.4 2.5.4-1.3.4-3.3.4 1.2.4.1.4-.8.4.3.4 2.4.4-.6.4 2.9.4-5 .4 1.6.4.1.4-1.3.4 4.1.4-5.7.4.8.4.6.4 1.3.4-.5.4-.2.4-1.6.4-2.3.4 3 .4 1.8.4-3.5.4 1.8.4 1.1.4.7.4-.9.4-1 .4-1.3.4 4.8.4-6.6.4 4.6.4 1.3.4-1.4.4-.2.4.8.4-1.1.4-2 .4-.6.4 4.8.4-4.8.4.8.4-.2.4.3.4 1.6.4-1.4.4.2.4.5.4-2.6.4-.1.4 1.4.4 1.5.4 1.9.4-2.3.4-3.3.4 2 .4.6.4 1.7.4-2.1.4 1.7.4-2.5.4-2.4.4.7.4-1.3.4-2.1.4 3.5.4 1.7.4 0 .4-.5.4-4.9.4 5.8.4-.6.4-1.1.4-1.7.4 4.5.4-4.4.4 1.9.4.7.4.6.4 6.8.4-5.1.4-4 .4 2.3.4-.7.4 3.8.4-6.5.4 4.8.4-1.4.4.3.4-1.4.4-.3.4-1.1.4.9.4-1.4.4 2.8.4-2.6.4.3.4-1.1.4.3.4-1.9.4 4.2.4-.4.4 1.2.4-4 .4.7.4 1.4.4-.3.4.2.4-.7.4-1.8.4-.6.4 1 .4 3.2.4-2.8.4.3.4 1.8.4-.7.4-2 .4 1.6.4-5.4.4 4.7.4-2.2.4-4.1.4 9.2.4-6.9.4 4.3.4.3.4-3.9.4 2.5.4 1 .4-6.2.4.8.4 5.2.4-3.6.4 6 .4-1.2.4-4.3.4 1.8.4-.4.4.1.4 1.6.4-1.9.4 5.5.4-5.8.4-.1.4-2.4.4 1.5.4 2.1.4.2.4-.1.4-3.5.4-.9.4 4.4.4-5.3.4 1.6.4 3.8.4-1.3.4-1.2.4 1.1.4-2.6.4-.8.4-2.2.4 3.7.4-.4.4 3.6.4-2.9.4 2.3.4-6.1.4 6.1.4-2.9.4 4.3.4-3.6.4-.6.4-6.6.4 8.4.4-.8.4-1.3.4-1.6.4.5.4 5.1.4-8.7.4 6.9.4-.4.4-.7.4-3.1.4 3.1.4-6.9.4 2.9.4 1.4.4-2.4.4 5.7.4-2.8.4 4 .4-4.1.4-.4.4.3.4-1.6.4-.8.4.6.4-3.3.4 7.6.4-3.9.4 2.9.4-1.6.4-4.4.4 6.1.4.6.4-2.5.4-2.5.4 1.1.4-.4.4 2.2.4-1.9.4 3.3.4-4.7.4 3 .4-7.8.4 12.3.4-3.7.4-1.5.4-1.9.4-1.4.4 2.5.4-1.3.4 3.6.4-5.7.4 2.4.4-1.1.4 5.7.4-5.8.4-3.7.4 5.7.4 3.2.4-3.9.4-1.4.4.8.4-1.1.4-3.4.4 9.9.4-4.5.4-2.7.4 3.4.4-4.8.4 1.9.4-1.8.4.7.4.2.4 2.8.4-.2.4 3.1.4 4.1.4-8.3.4.6.4-.2.4.6.4-1.1.4-4 .4-.2.4 5.1.4 2.9.4-2.5.4 2.9.4-.1.4-3.4.4-2.7.4 1.6.4 2.5.4-8.2.4 11 .4.9.4-8 .4 1.4.4 3.4.4 1 .4-4.9.4 3.1.4-.6.4-.2.4 4.2.4-3.2.4-4 .4 4.5.4-2.4.4 2 .4.4.4-4.8.4-2 .4 5.2.4 1.2.4-.8.4 3 .4-2.8.4-2.8.4 2.2.4.7.4 2.1.4-6.8.4 6.4.4 1.5.4.6.4-3.9.4-2 .4 1.5.4-1.4.4-1.6.4 2.3.4 0 .4 2.6.4-4.1.4 2.8.4-2.5.4 1.5.4-2.4.4.5.4 3.6.4 1.4.4-2.3.4-1.1.4 1.8.4-1.5.4 1.7.4-1.3.4 1.6.4 1.5.4-2.6.4-3.8.4 4.9.4-.8.4-1.9.4 3.1.4-.6.4 1.4.4-.5.4-1.7.4-.6.4-.5.4 4.7.4-2.8.4-.8.4-4 .4 8.4.4-1.5.4-.5.4-1.9.4-3.4.4 4.8.4.5.4-3.2.4-1.6.4 4.3.4-2.5.4-1.1.4 0 .4 1.7.4-1.6.4-3.3.4.5.4.3.4 7.3.4 1.5.4-6.9.4 0 .4-2.5.4 9.2.4.3.4-5.5.4.3.4.7.4-.4.4-2.3.4 5.8.4-3.1.4 2.1.4-1.9.4 2.6.4-1.7.4-4 .4 4.8.4-2.4.4-3.2.4 1.8.4 1.3.4-2.2.4.7.4 1.6.4-1.7.4-.3.4 2.2.4 5.5.4 1.7.4-7 .4 1 .4-2.1.4 6 .4-2.7.4 3.7.4-8.4.4 2.1.4-.2.4 1.1.4-.6.4 2.6.4 1.6.4-5.2.4 5.2.4 0 .4-4.6.4 3.2.4-2.1.4-.3.4 2.6.4-2.3.4-2 .4 5.9.4-3.6.4-2.6.4-.5.4 4.9.4-3.6.4 4.6.4-2.9.4 6 .4-6.8.4 1.8.4-.7.4 1.5.4 2.7.4-1.5.4-2.5.4 2.4.4.2.4.4.4 1.1.4-2.3.4 1.2.4 2.9.4-2.7.4.9.4.8.4-2.5.4 2.5.4-5.8.4 3.8.4 4.6.4-5.4.4-2.2.4 5.1.4-1.7.4 3.5.4-5.8.4-1.1.4 5.8.4-.9.4-1.2.4-.6.4 2.5.4 2.2.4-6 .4 2.9.4-1.5.4 1.8.4-1.4.4 1.5.4 1.3.4-5.8.4 1.7.4 1.1.4-1.4.4 2.6.4.3.4 3.7.4.1.4-4 .4 2.8.4-2.2.4-.3.4-3.5.4.4.4 4.7.4-.3.4-6.6.4 4.3.4 1.8.4.8.4-1.8.4-.8.4 4.8.4-7 .4 3.2.4-2.7.4 3 .4-.4.4 1 .4 0 .4-3.8.4 3 .4.7.4-1.5.4 1.7.4-1.2.4 1.9.4-3.4.4 6.8.4-1.8.4-4.1.4 2 .4-.7.4 2.7.4-2 .4-.6.4 2.9.4-7.3.4 8 .4-4.4.4-1 .4 6 .4-6.8.4 7 .4-1.4.4-1.5.4-6.7.4 6 .4.9.4-1.5.4-1 .4 1.8.4 2.9.4-1 .4-.5.4 4.2.4-10.3.4 3.3.4 2.7.4-2.1.4.5.4-1.4.4 3 .4-5.3.4 9.4.4-.2.4-2.8.4-1.2.4-2.6.4-.5.4 1.9.4 1.1.4-2.3.4 2.7.4-.2.4.4.4-1 .4-.2.4-.8.4 4 .4-3.3.4-.9.4 3.3.4-.3.4-1 .4-2.1.4 4 .4-5.2.4 2 .4 1.6.4-3.3.4 4.4.4 1.3.4-2.2.4-1.3.4-1.2.4-.5.4 2.2.4-4.6.4 6.2.4-3.4.4.6.4.1.4.2.4-2.6.4 5.2.4-3.7.4-1 .4-.4.4 2.7.4.3.4.8.4 2.3.4-3.8.4-.6.4 0 .4 2 .4 1.8.4-.3.4-4 .4-1.2.4 6.3.4.8.4-4.5.4-.1.4 2.8.4-2.2.4-.3.4-.4.4 2.6.4-1.1.4-1.8.4 4.5.4 1 .4-2.7.4-.6.4-3.8.4 5.2.4-2.3.4.2.4 2.7.4-5.3.4-.2.4 2.3.4-.9.4 5.8.4.4.4-4.4.4 1.3.4-.4.4 4.3.4-4.7.4-2.1.4 1.6.4-.1.4 3.8.4 1.8.4-3.6.4.8.4-3.5.4 4.6.4-4.1.4 4.3.4-5.9.4 9.2.4-3.5.4-2.4.4-2.7.4-.6.4 7.3.4-3 .4 3.1.4-4.1.4 2.5.4-3.3.4.5.4.9.4-.5.4-1.1.4 3.4.4 1.4.4-4.2.4-.7.4 2.1.4-1.5.4 2.2.4-.2.4.1.4-.2.4-.6.4.1.4 1.1.4-2.2.4.8.4 3 .4-2.3.4-3.8.4 2.5.4 2 .4-4.5.4 2.6.4.1.4 2.9.4-.8.4 1.1.4-4.4.4 1.2.4.1.4.3.4-2 .4 6.1.4-1.7.4 2.8.4-4.2.4-3.9.4 1.4.4 4.6.4-.8.4 1.4.4-4.2.4 2 .4 2 .4-4.4.4 2.8.4 4.5.4-3.1.4-1.9.4 2.1.4 1.7.4-4.3.4 1.4.4.2.4-.8.4 2.8.4-1.6.4.4.4-.3.4-1.8.4 2.8.4-.2.4-.3.4-.5.4 1.6.4-2.2.4 3.5.4-5.1.4-1.6.4-.2.4.4.4 5.8.4-3.2.4-1 .4 2.7.4-4.1.4 3 .4.4.4 1.9.4-4.2.4 3.3.4-2.8.4 3 .4 1.9.4-3.6.4-2.8.4 8.2.4-4.3.4 1.1.4 3.5.4-6.3.4 2.3.4-1.4.4 1.6.4-.3.4 2.1.4.3.4-3.4.4-1.5.4 3.6.4-3.1.4.1.4 1.9.4-.9.4.3.4 2.4.4-1.5.4.5.4-2.6.4 1.4.4 3.5.4-2.2.4-.7.4 3.7.4-1.7.4-1.5.4-2.5.4.6.4 2.5.4-.4.4 1 .4-2.7.4 3.2.4-3.8.4-2.1.4 5.6.4-2 .4-.1.4-1.8.4.6.4.9.4 2.1.4-1.5.4 1.3.4-.5.4.1.4-1 .4-.6.4.7.4-3 .4 6.1.4-2.5.4-2.7.4 3.3.4-.8.4 2.2.4-.1.4-1.8.4-4.9.4 3.2.4 3.1.4-3.4.4 2.9.4-2.4.4 1 .4-.6.4-.1.4.9.4 2.5.4-1 .4-2.5.4-.5.4 1.1.4-.8.4 1.5.4 1.1.4-.5.4-6 .4 6.1.4.5.4.4.4.1.4-.8.4-.4.4 1 .4-3.1.4 3.6.4-2.9.4.9.4.2.4.6.4-.7.4 3.5.4-8.5.4 3.7.4.9.4 1.4.4-2.8.4 4.1.4-.7.4-1.5.4 1 .4-1.5.4-.1.4-3.2.4 2.7.4 4 .4-4.3.4 2 .4-.2.4.2.4.4.4-1.3.4.7.4-.1.4 1.6.4-3.6.4 1 .4-.9.4 1.9.4-.6.4 2.7.4-6.4.4 2.5.4 4.1.4-6.4.4 1.6.4 2.7.4-.6.4-.1.4 2.8.4-1 .4-1.6.4 3.1.4-2.9.4-.7.4-2.5.4 6.3.4-2.1.4 2 .4-4.5.4.2.4 2.3.4-6.3.4 3.7.4.6.4-1.7.4 7.8.4-6.4.4-.6.4 1.4.4.5.4-2.7.4 2.8.4 1.9.4.5.4-1.2.4-.3.4.2.4.2.4-1 .4.2.4 2 .4-2.9.4 1.2.4.2.4-.8.4 1.5.4.5.4-1.9.4-.2.4-1.1.4-.4.4 2.6.4 1.3.4-4.9.4 1.8.4 1.2.4 3 .4-5.2.4 2.4.4.3.4.4.4-4.5.4 4.1.4 1.2.4-5 .4 3.9.4.7.4-.8.4-3.2.4 2.4.4 1.9.4-3.6.4 3 .4-2 .4 5.6.4-4.2.4-2.5.4 3 .4-3.4.4 3.5.4-2.4.4 1.9.4-1.7.4 3.5.4-.8.4-.9.4.3.4-2.3.4 4.4.4-3.8.4-.6.4-.9.4 4.7.4-2.7.4 3.1.4 0 .4-3.4.4-.3.4.6.4-1.9.4 4.2.4-.6.4 2.6.4-1.4.4-3.6.4 2.9.4-4.2.4 1.6.4-1.2.4 1.4.4-1.4.4 1.1.4.3.4 2.2.4 1.7.4-2.6.4-5.3.4 4.4.4.5.4-1.7.4-2 .4 1.7.4 1.3.4-.1.4.3.4 1.5.4-.2.4-3.5.4 3.8.4-1.8.4 1.2.4 1.6.4-3 .4-1.8.4 1 .4.6.4 0 .4 2.1.4-5.7.4 5.7.4-4.7.4.8.4 2.3.4-3 .4 1.3.4.1.4-.4.4-.7.4 3.3.4-2.1.4 3.1.4-.2.4-.9.4-2.5.4.6.4-.6.4.8.4-2.5.4 2.5.4.4.4-1.2.4-.8.4 6.4.4-7.2.4 1.2.4.6.4-1.6.4.7.4-.4.4-2.9.4 2.1.4 1.9.4-4.3.4-.5.4 3.5.4-2.5.4-3.5.4-.1.4-1 .4-1.3.4 2.3.4.8.4-5.3.4-3.6.4-.4.4-4.6.4-3.5.4.5.4-2.5.4-6.8.4-3.2.4-4.9.4-2.8.4-3.6.4-1.7.4-3.9.4-.2.4-1.2.4-.9.4.1.4 6.5.4.8.4 5.4.4 4.3.4 3.1.4 3.1.4 5.5.4 1.4.4 4.2.4 3.8.4 2.6.4 3.5.4.8.4 2.9.4 1 .4 1.2.4-.3.4-1.6.4 2.2.4 2.9.4 1.5.4-1.9.4-.3.4 2.6.4-.3.4-2 .4 1.8.4-.8.4 6.2.4-5.8.4 1 .4.4.4 2.5.4-3.4.4 4.3.4-1.1.4-2.5.4 2.6.4 1 .4-1.5.4 3.3.4-4.3.4 1.6.4-1.5.4.9.4 2.8.4-1.3.4 0 .4.6.4-.3.4-2.1.4-1.3.4 2.5.4 2.3.4-2.6.4-3.6.4 5.2.4-.5.4-.8.4.1.4 1.2.4 1.1.4-1.1.4-.6.4 3.3.4-2.9.4 1.1.4-2.7.4 1.7.4-.5.4-1.1.4.3.4 1.2.4.3.4-1 .4 1 .4-1.7.4 1.7.4 2.4.4-1.9.4 1.6.4-5.1.4 4 .4-1.5.4-.8.4-.5.4-2.3.4 2.6.4 2.7.4.6.4.8.4-2.7.4 1.9.4-3.6.4.4.4.4.4 3.1.4-.4.4-.6.4-.8.4-1.1.4.1.4 4.7.4-3.1.4-2.9.4.9.4 1.6.4-.8.4 3.2.4-.2.4-3.4.4.7.4.7.4-1.3.4 1.2.4-2.2.4 3.6.4-.3.4-.1.4 1.2.4-4 .4.4.4 3.5.4-1.3.4-.6.4.1.4-2.8.4.3.4-.9.4 2.6.4 3.6.4-3.2.4-.8.4-.8.4 2.6.4-.8.4-.8.4-1 .4 1.3.4-.5.4.9.4-.7.4-.6.4 1.6.4-.8.4 2 .4.4.4-1.4.4-.3.4-2.1.4 0 .4 4.6.4-5.5.4 1.3.4 2.1.4-.2.4-1.4.4.4.4.4.4-2.1.4 3 .4.4.4-3.8.4 2.3.4.1.4 2.1.4-1.2.4-1.6.4.3.4-.3.4.8.4-1.8.4 2.5.4-1.7.4.5.4 1.5.4-1.3.4-1 .4 2.5.4-3.3.4-.1.4 2.8.4-.2.4 2.8.4-2.2.4-.5.4 0 .4-3.4.4 1.8.4-3.2.4 4 .4-2.7.4 1.5.4 0 .4 2.9.4-4.3.4 1.9.4.3.4-.3.4.8.4 2.3.4-3.5.4 1 .4-1 .4-1.2.4 4 .4-1.4.4-.6.4 1.8.4-2.3.4 1.8.4-2.7.4 7.7.4-7.6.4 3.2.4-3.6.4 2.9.4.1.4-1.5.4-1.9.4 3 .4.3.4.5.4-3.1.4 1 .4-1 .4.3.4.9.4-1.6.4-1.7.4 5 .4 2 .4-2.8.4-5.1.4 5 .4 2.3.4-4.4.4 2.3.4 0 .4-1 .4.2.4-2.1.4 1.6.4-2.2.4-.1.4 3.8.4.2.4.4.4-3.3.4 1.9.4-1.9.4 3.3.4-1.1.4-.2.4.9.4-.9.4-2.1.4.1.4 2.8.4-2.3.4 1 .4 2.3.4-2.5.4 0 .4-.4.4 1.2.4-.6.4.7.4 1.4.4-1.8.4-.9.4.3.4-.6.4 2.3.4-2.9.4.1.4 1.5.4-3.2.4 3 .4-4 .4 3.1.4-1.9.4 2.4.4-3.3.4-2.3.4 2.9.4-.7.4-.3.4-3 .4 2.3.4.2.4-2.7.4 1.8.4-2.7.4-1.2.4-.8.4-.6.4 2.4.4-5.2.4-.6.4-1.7.4.2.4.4.4-2.6.4-2.8.4 1.6.4-3.2.4 2.6.4-2.5.4.6.4-.1.4 2.7.4 2 .4-.3.4-1.6.4 4.1.4-.2.4 2.4.4 1 .4 3.4.4.3.4-1.1.4 2.1.4-.7.4-.3.4 1 .4 1.8.4.9.4 1.6.4-.4.4 1.7.4-1.2.4-.4.4 1.7.4.4.4-.6.4-.8.4 1.3.4 0 .4.7.4-1.6.4 2.1.4-1.4.4 1.7.4-.7.4-.4.4 2.9.4-1.2.4-2 .4 2.5.4 1.8.4-1.5.4-2.6.4 1.3.4 2.6.4-.3.4.8.4-3.5.4-1.8.4 1.5.4.5.4 4.7.4-6.9.4.9.4.5.4-.6.4 4.9.4-1.3.4-1.1.4 1.4.4-2.9.4.4.4 5.8.4-4.7.4-2.3.4 2.8.4-3.2.4 6.7.4-3 .4 2.1.4-3.6.4 1.3.4.8.4-2.1.4-1.2.4 3 .4-.1.4-.6.4 1.3.4-2 .4-.4.4 3.2.4-4.5.4 2.4.4 1 .4-.9.4 3 .4-1.2.4-.6.4-1 .4 1.8.4-.6.4-1.8.4.6.4-1 .4 2.8.4-2.5.4-.2.4 1.9.4.1.4-2.5.4 3.8.4-1.7.4-1.6.4.4.4 1 .4-3 .4 5.1.4-1.1.4-1.9.4 1.9.4-1.9.4-.1.4-.2.4-1.7.4 1.9.4 3.2.4-1.3.4.1.4.3.4-4.1.4 1.6.4 1.9.4 2.4.4-3.3.4 1.7.4-.2.4 1.7.4-3.5.4 2.3.4-3.1.4-1.4.4 3 .4-.3.4.4.4 1.5.4-3 .4 1.1.4 1.4.4-2.4.4 2.8.4-1.9.4 2.7.4.1.4.5.4-3.4.4-1.6.4.2.4 2.9.4-2.4.4 1 .4-.5.4 3.1.4 0 .4-4.3.4 2.1.4.3.4-2.5.4 1.9.4 1.5.4 1.3.4-2.3.4-2 .4.6.4.9.4-1.3.4.9.4-1.2.4 2.4.4-1.4.4.7.4-.4.4 2.5.4-1 .4-1.1.4 3.5.4-3 .4.2.4-1.9.4 1 .4.6.4 2.1.4-2.5.4.2.4 2.1.4-1 .4-2.6.4 4.4.4-1.5.4-1.8.4 2.6.4-2.6.4-1.5.4 2.2.4 1.1.4-2 .4.5.4 3.1.4-2.5.4.3.4-.5.4 1.2.4-.6.4.1.4 2.1.4-3.2.4.1.4-.1.4 3.6.4-1.2.4-1.2.4-.5.4 1.6.4-2.1.4-.8.4 2.8.4-2.1.4-1.1.4 4.7.4-3.1.4-2.3.4 1.2.4 3.4.4-2.8.4 1.6.4-.3.4-1.2.4.4.4.8.4-1.2.4.8.4.9.4-.2.4.6.4 1.5.4-2.2.4.3.4 1.1.4-.8.4-2.2.4-2.2.4 2.9.4-1.4.4-.2.4 2.6.4-1 .4-.4.4-.7.4 2.9.4.2.4-.1.4-1.2.4 1.1.4-.2.4 1.5.4-5.5.4 1.6.4 1.9.4.9.4-.5.4-2.5.4.5.4-.6.4 2.7.4-2.3.4 2 .4-1.1.4 1.8.4-1.1.4-1.1.4 2.5.4-3.7.4 2 .4-1.7.4 2.2.4-2.5.4 3.2.4-1.7.4.4.4-1.2.4 1 .4 1.2.4.4.4-.8.4-.1.4 2 .4-2.2.4-1.4.4 1.3.4.3.4.2.4-.3.4-2.3.4 2.7.4-2.8.4 5.2.4-3.3.4 1.6.4-.8.4.3.4.7.4-1.6.4 1 .4-.9.4 2.4.4-3.9.4 1.3.4-.8.4.5.4-1.2.4.7.4 2.9.4 1.7.4-3.3.4.5.4 1.9.4-3.5.4 3.7.4-2.9.4-2.4.4 5 .4-3 .4-.2.4 1.7.4-1.2.4 1.6.4-1.5.4 1 .4.7.4-2.5.4 3.2.4-3.1.4 1.3.4-.2.4 1.9.4-.4.4-.3.4.3.4 1.3.4-1.1.4-4 .4 4.4.4-1.1.4.1.4 1.5.4-3.3.4 3.4.4-2.1.4-2 .4-.7.4 3.5.4.2.4-2.8.4 2.3.4 1.8.4-2.8.4.1.4 1.1.4-.9.4 2.3.4-1.5.4-1.9.4 1.6.4-.8.4-1.9.4 3.1.4-2 .4-.1.4 1.6.4-.9.4 1 .4-.9.4.8.4-1.1.4 2 .4-4.1.4 3.6.4-.9.4-.1.4-2 .4 3.7.4-2.1.4 1.6.4-.9.4-1.6.4 3.8.4-3.2.4-1.3.4 2 .4.3.4.8.4-1.4.4 2.1.4-.9.4-.6.4-1.6.4 1.6.4-1.1.4.8.4.5.4.3.4 1.1.4-2.9.4-.6.4 2 .4 1.2.4-3.4.4 1.1.4 1.5.4-3.3.4 3.7.4-.2.4-.6.4-.2.4 1.9.4-2 .4 1.7.4-.5.4 1.6.4-2 .4-2 .4 1.3.4-.7.4 1.4.4.4.4 1.1.4-1 .4-2.8.4.5.4 2.5.4-1.3.4.1.4.9.4 1.9.4-3 .4.5.4-.7.4 1 .4 0 .4-.3.4 1.1.4-1.9.4 2.2.4-1.9.4-2.9.4 3.6.4.9.4-3.1.4-.8.4-.4.4 2.5.4.7.4-.9.4 1.4.4-.4.4-.2.4 1.1.4-1.4.4-1.1.4 3 .4-3 .4 2.1.4-1.6.4 0 .4 1.8.4-2.9.4.4.4.5.4 1.5.4 0 .4-2.1.4 3.3.4-1.8.4.5.4.8.4-1.7.4-.6.4 1.7.4-.5.4.8.4-1.1.4 1.1.4.2.4-2.2.4.8.4-.4.4 2.1.4-.9.4.5.4-.8.4-2.9.4 1.9.4.2.4-1 .4 2 .4-.9.4-.9.4.9.4-.3.4-.3.4 1.1.4-2.7.4 3.1.4.9.4-1.5.4 0 .4-.2.4 0 .4.8.4-.8.4 2.7.4-2.4.4 1.9.4-3.3.4 4.3.4-2.8.4.8.4-2.7.4 2.6.4-1.1.4-1.7.4 1 .4 3.5.4-3.5.4 0 .4.2.4.5.4-2.5.4 2.1.4 3.7.4-3.8.4 0 .4 2.3.4.2.4-1.3.4 1 .4-2.6.4.7.4-.2.4 1.5.4-.6.4-1.7.4 2.6.4-2.9.4 3.1.4-2.3.4-.4.4 2.8.4-.9.4.6.4-.5.4 1.8.4-3.3.4.2.4.4.4-.9.4-2 .4.9.4 3.4.4-2.1.4 1.6.4.1.4-1.3.4-.3.4 1.7.4 0 .4-1.9.4 2.3.4.5.4-2.2.4.7.4-1.9.4 1.3.4 1.6.4-1.3.4 0 .4 2.2.4-2.1.4 2.8.4-2.8.4.3.4-3 .4 4.9.4-4.3.4 3.6.4-2.3.4.3.4-.1.4 1.4.4-1.1.4-.6.4 1.6.4-1.8.4.9.4-.3.4 1.3.4.4.4-2.7.4 2.1.4-1.1.4-1.1.4 3.3.4-.2.4-.6.4.1.4.5.4-1.8.4.5.4-1.3.4 2.3.4-.8.4-1.4.4 2.5.4-1 .4-1 .4 1.4.4-2.3.4 0 .4 1.7.4-.9.4.9.4-1.7.4-.1.4 2.4.4-2.1.4.7.4.2.4-.3.4 2 .4-1.5.4-2.1.4 3.4.4.2.4-1.8.4 0 .4-1.2.4 4.3.4-.6.4-4.5.4 4 .4-3.7.4 2.9.4-.5.4-.2.4-1.8.4 1 .4.8.4-2.6.4 2 .4 2.5.4-1.6.4-1.4.4-.3.4-.4.4.2.4 1 .4-1.2.4.1.4 2.7.4-1.9.4 1.2.4 1.4.4 0 .4-1.3.4.5.4-2.4.4.9.4 1.1.4-1.3.4 1.9.4-1.3.4-1 .4 2.4.4-1.5.4-1.2.4.1.4 2.1.4 1.8.4-1.5.4.3.4-4.3.4 2 .4 3.4.4-4.5.4 2.1.4-5.5.4 3.9.4 3.4.4-4.6.4 1.3.4 1.3.4-.8.4 1 .4-1.1.4 2.1.4-1.7.4-.3.4.7.4 3 .4-1.9.4-1.6.4.6.4-2.5.4 3.8.4-1.4.4-.9.4 4.8.4-2.5.4-2.6.4 1 .4-.5.4 1.2.4-.3.4.9.4-.2.4-2.1.4 1.1.4 2 .4-2.5.4-.1.4 1.2.4 0 .4 1.4.4-.9.4-1.4.4.7.4.1.4 2 .4-2.1.4-1.4.4.2.4.6.4 1 .4.2.4-2.7.4 2.6.4-1.2.4.6.4 1.8.4-.9.4-1 .4.1.4.9.4-.8.4-.6.4-.2.4.6.4-.9.4 1.9.4-.8.4 1 .4 1.8.4-2.5.4-.4.4-.5.4 1 .4-1.9.4.6.4.7.4-.1.4-.6.4.1.4 1.9.4-2.2.4 1.1.4.9.4-1.2.4-1.1.4.1.4-2 .4 2.5.4.9.4 0 .4-.4.4-1.2.4-1.1.4 4 .4-2.4.4 1.3.4-.8.4 2.4.4-1.5.4-1.1.4-1 .4 2.4.4-1.3.4 2.4.4 1.2.4-1.9.4-1.5.4-.2.4.7.4-.9.4 0 .4 1.2.4.3.4 0 .4-1.8.4 1.5.4.3.4-1.5.4 1.3.4-1.4.4.3.4-.2.4-1.8.4 2.5.4 1.2.4-2.1.4-.9.4.3.4 2 .4-1.9.4.1.4 1.7.4-1.9.4.7.4-1.4.4 2.7.4-1.7.4 2.9.4-1 .4-2.2.4 1 .4 0 .4-.1.4.3.4-.3.4-.7.4.6.4-.1.4.1.4.6.4-.7.4 1.2.4-1.4.4.8.4.8.4.8.4-2.3.4 2.7.4 0 .4-3.4.4 2.5.4-1.6.4 1.6.4-3.3.4.1.4 1.3.4.5.4 1.6.4-2.7.4.4.4 3.7.4-1.4.4-.3.4-1.8.4 0 .4-.6.4 3 .4-.2.4-2.3.4.3.4-.6.4 2.1.4 0 .4-.8.4 1.7.4-1.1.4.1.4-.8.4-1.6.4 1.9.4-.5.4 0 .4-1.3.4-.1.4.6.4 1.7.4-1.7.4-.8.4.2.4 1.7.4-.3.4 1.5.4-2.2.4 1.7.4-3 .4-.3.4 2.1.4.4.4.3.4-1.1.4 1.3.4-1.1.4 1.1.4.1.4-.8.4.4.4.6.4-1.3.4-2.4.4 2.8.4 1.2.4-.3.4-2.4.4 1.3.4-.4.4 1.4.4-.1.4 1.6.4-3.6.4.3.4 2.6.4-2.5.4.5.4-.1.4 2.5.4-.3.4-1.4.4-1.2.4-1.7.4 1.1.4 1 .4 1.1.4-2.3.4 1.3.4 0 .4 1.6.4-.5.4.2.4-.3.4-1.9.4 4.2.4-5.6.4 3 .4-2 .4 2.3.4-1.9.4-.2.4.7.4-.4.4.5.4-1.5.4 4.1.4-2.6.4 2 .4-2.1.4.9.4 1.1.4-.1.4-1.5.4 1.8.4-3.9.4 1.7.4.5.4 1.8.4-2.9.4.8.4-.9.4 3.8.4-.7.4-2.9.4-2.6.4 1.9.4 3.2.4-1.5.4 1 .4-3.5.4 1.2.4 1 .4-3 .4 3.1.4 1.2.4-2.3.4-.5.4 1.7.4.5.4-2 .4-.4.4-.9.4-.2.4-.3.4-.6.4-.8.4 4.4.4-4.2.4 3.3.4 1.8.4-3.2.4-5.1.4-.7.4 4.1.4-.2.4-2.7.4.5.4-.4.4-1.5.4 1.7.4-1.9.4-1.7.4 1 .4 1.6.4-2.5.4-.1.4-1.5.4 2.6.4-2 .4.9.4-.4.4-1.3.4 2.4.4-.9.4 1.6.4-1.2.4.8.4-2.3.4 3.5.4 0 .4.8.4-.1.4-1.6.4.4.4 6.1.4-3.4.4 1 .4.4.4 2.4.4-1.6.4 1.4.4.6.4-1.4.4-.4.4 1 .4.9.4-1.5.4.2.4 4.5.4-3 .4 1.6.4.4.4-1.2.4-1.6.4 2.6.4-.3.4 2.2.4-3.9.4 1.7.4-1.9.4.1.4 2.8.4.5.4-2.4.4 2 .4-2.6.4 1.9.4-2 .4 1.2.4-1 .4 2.7.4-1.6.4-1.3.4 2.9.4-.9.4-.1.4-1.3.4 4 .4-.5.4-3 .4-.3.4 1.8.4-2.4.4.9.4 2.5.4-.7.4-.9.4-.1.4.1.4 2.3.4-2 .4-1.7.4.7.4 1.3.4.2.4 2.8.4-3.5.4 3.2.4-3.4.4-.1.4-.9.4 3.4.4-1.1.4-1.9.4 2.7.4-2.3.4.2.4-1.4.4.4.4 2.5.4.1.4-1.1.4 2.2.4-1.7.4-.8.4 0 .4-.3.4 2.2.4-1.8.4 2.3.4-2.6.4-.6.4 1 .4-1.8.4 2 .4-1.3.4.7.4-.7.4 1.1.4-.7.4 3.1.4-.7.4-3.7.4.5.4-1.2.4 2.9.4-2.2.4 1.5.4-1.1.4 1.4.4-.1.4 1.8.4 0 .4-1.5.4.9.4-2.9.4 2 .4-.1.4.3.4 1.5.4-2.5.4 2.2.4-1.6.4-.2.4 1.9.4-1.5.4.3.4-1.6.4 2.5.4-2.3.4 2.3.4-2 .4 2.1.4-3.2.4 3.6.4.3.4-1.8.4-.2.4 2.2.4-2.2.4-.4.4 1.2.4-.4.4-2.8.4 2.8.4-2.2.4 4.2.4-3.2.4-.5.4 3.2.4-.6.4-.1.4-1.7.4-.1.4.3.4.7.4-.2.4-2.2.4 3.1.4.1.4-1.6.4 3.3.4-2.9.4-1.1.4-1.6.4 2 .4 1.8.4-1.2.4-1.3.4 2.4.4-2.2.4-.3.4 1.4.4-2.9.4 5 .4-2.6.4.7.4-2.7.4 3.7.4-2.6.4 1.8.4-2.1.4.8.4 2.8.4-2 .4-1.4.4 2.2.4 2.2.4.4.4-.4.4-.9.4-.4.4-1 .4-2.8.4 3.4.4-2 .4-.1.4.7.4 2.2.4-1.6.4 1.2.4.4.4-.5.4-3.2.4 2.5.4-1 .4 1.3.4.5.4-2.4.4 4.1.4-.7.4-2.9.4.5.4.3.4.4.4-2.6.4 1.3.4.1.4 2.3.4-1.7.4-.5.4.9.4.8.4-1.7.4 1 .4-.6.4-.7.4-1 .4.3.4-.1.4 2.2.4-.7.4.6.4-1.2.4.6.4.1.4-1.8.4-.2.4.8.4 1.6.4-1.3.4.2.4 1.9.4-1.2.4-2.3.4 5.1.4-.4.4-3.1.4 1.4.4-.2.4-1.2.4 4.3.4-4.2.4 1.4.4.4.4-1.1.4.6.4-2.3.4 1.3.4 1.7.4-4 .4 2.7.4 1.1.4-1.1.4.7.4-1.1.4-.1.4-.9.4-.2.4 1.3.4-1.3.4 1.7.4.9.4.7.4.2.4-.8.4-.6.4.5.4-3.5.4 5.7.4-4.9.4 2.8.4-2.8.4 3.3.4.1.4-1.8.4 1.6.4 0 .4-.5.4-1.3.4.6.4.3.4-.9.4-1.3.4.6.4 0 .4.9.4.3.4.8.4-.9.4 1 .4-1.4.4-.6.4-1.1.4 2.6.4.3.4-.1.4-2.8.4 3.6.4-.1.4.9.4-1.2.4-.6.4.1.4 1.3.4-.7.4-2.2.4.9.4 2.1.4-1.6.4-2.4.4 1.6.4-.5.4.3.4.8.4 2.1.4-.5.4-1.8.4-.8.4 1.9.4.5.4-2.6.4 1.5.4-.4.4.4.4.6.4-3.4.4 4 .4-2.3.4.8.4-.7.4.5.4-1.5.4.3.4 1.9.4-.8.4.8.4-1.3.4-.6.4 2.8.4-2.5.4 1.9.4 1 .4-3.5.4 0 .4 3.3.4-1.7.4-.5.4 1 .4 1.9.4-3.2.4.5.4-.8.4.3.4.6.4-1.1.4 3.9.4-1.5.4-1.6.4.2.4 2.2.4-.9.4-3.7.4 2 .4-.3.4 2.2.4-1.7.4 1.5.4.1.4-1.4.4.9.4 0 .4.5.4-2 .4.8.4.3.4-.2.4-.8.4.8.4-1 .4.6.4.2.4 1.9.4-2.3.4-.4.4.1.4 1.4.4-.4.4 1.7.4-1.8.4 1.1.4-2 .4 2 .4-1.5.4.2.4-1.6.4.1.4.2.4.5.4 1 .4.9.4.3.4-2.3.4-.4.4 1.8.4-2.5.4 1.2.4 1.9.4-.5.4-2.7.4 3.1.4.2.4-1.9.4-2.8.4 4.8.4-3.4.4 3.7.4 0 .4-2.1.4 2.5.4-3.4.4.4.4 1.8.4-3 .4 1.9.4 1.1.4 2.8.4-1.2.4-2.4.4-1 .4 2.8.4-.1.4-1.6.4-.6.4 2 .4-1.8.4 0 .4-.8.4 2 .4-3.3.4 5.2.4-5.6.4 4.8.4-3.2.4 3 .4-3.2.4 3.4.4-3.9.4.5.4 1.2.4-.5.4.3.4 2.5.4-1.4.4 1.9.4-1.7.4-1 .4-.7.4 1.7.4-.2.4 3 .4-4.5.4-.8.4-.3.4 4 .4-.7.4-1.7.4.4.4.1.4-.4.4-1.7.4 2.3.4-1.4.4 2.6.4-3.7.4 4.4.4-3.2.4 4 .4-3.4.4.5.4 1.7.4-1.5.4-1.1.4-1.3.4 2.8.4-1.3.4 2 .4-.6.4-1.9.4.5.4.1.4.8.4-.1.4-.6.4.1.4 1.4.4-.9.4 2.3.4-2.9.4 1.7.4-.6.4-1.2.4.7.4.2.4.5.4-2.2.4 2.8.4-1.3.4-.7.4 2.8.4-2.9.4 1 .4-1.2.4 1.6.4-1.2.4-1.9.4 2.5.4-.7.4.6.4.4.4-2.5.4 4.1.4-1.1.4-2 .4 2 .4-4 .4 2 .4-.6.4 3.7.4-4.1.4 3.1.4.1.4-3.7.4 1.8.4 1.4.4-1.7.4.7.4 1.3.4-2.8.4 2.5.4-1.3.4-.8.4.6.4-1.6.4 4.9.4-4.1.4 1.2.4-2.8.4 3 .4 1.2.4-3.6.4 3 .4-1.4.4 3.4.4-.2.4-1.6.4-1.2.4 1.7.4-1.6.4 1.9.4-.5.4-.5.4-1.5.4 2.7.4-1 .4-.7.4-2.6.4 5.1.4-4.2.4 4.8.4-2.8.4-1.1.4 2.8.4-.6.4-1.9.4-1.1.4 1.1.4.1.4-.4.4-.7.4 2.3.4-.5.4 1.8.4-1.5.4.3.4.6.4-1.4.4-2.7.4 2.9.4-.4.4-.2.4-2 .4-1.6.4 5.1.4-3.3.4 1.3.4-.8.4-1 .4-1 .4 1.8.4 0 .4-.7.4-2.7.4 4.5.4-2.4.4.5.4-1.9.4.8.4-1.6.4-.5.4.7.4-3.4.4 2.4.4-.5.4-3.8.4 2.9.4-1.7.4.3.4.3.4-1.6.4 1.4.4-1 .4-1.6.4.6.4 3.4.4-2.8.4-1 .4.8.4-1.6.4 1.8.4.8.4-.7.4-1.6.4.6.4 2.2.4.4.4.7.4.8.4-.7.4 1.2.4-.9.4-.7.4 1.6.4-2 .4.7.4 1.9.4.4.4.2.4-.8.4 1.6.4-.9.4 5.7.4-2.2.4.8.4-1.9.4.2.4-.1.4.3.4-.4.4 1.1.4 1.4.4-2.9.4.6.4.3.4 1.6.4 1 .4.6.4-2.4.4-.5.4.1.4 1.2.4.6.4-.1.4 2.2.4-3 .4 1 .4.1.4-1.1.4 2 .4-2 .4-.1.4.9.4-.6.4-.1.4.5.4-.3.4 2.3.4-2 .4-.9.4 3.4.4-2.7.4-.7.4 1.7.4-.7.4 1.7.4-.2.4 2.7.4-2.3.4-1 .4-2.4.4-.4.4 1.9.4 1.6.4-3.3.4 2.7.4 2.2.4-1.3.4-3 .4 1.9.4-.3.4-1.3.4 1.6.4-2.3.4 1.6.4 1.9.4-.5.4-3.2.4 1 .4 1.6.4-1.7.4 1 .4.2.4-1 .4-.1.4 1.3.4-.9.4.6.4.3.4.7.4-2.4.4-.2.4 2.8.4.5.4.7.4-3 .4-1.3.4 3 .4-4.7.4 4.7.4-2.9.4 2.3.4-1.1.4 2 .4.6.4-1.4.4-2.8.4.5.4 2.1.4.4"/>
</g>
<g class="lab">
<text x="1202.5" y="127.1"><tspan>Au</tspan><tspan font-size="36" dy="14.4">1.5</tspan><tspan dy="-14.4">Cu</tspan><tspan font-size="36" dy="14.4">10</tspan><tspan dy="-14.4">/SiO</tspan><tspan font-size="36" dy="14.4">2</tspan></text>
<text x="1189.5" y="267.1"><tspan>Au</tspan><tspan font-size="36" dy="14.4">1.0</tspan><tspan dy="-14.4">Cu</tspan><tspan font-size="36" dy="14.4">10</tspan><tspan dy="-14.4">/SiO</tspan><tspan font-size="36" dy="14.4">2</tspan></text>
<text x="1201.5" y="396.0"><tspan>Au</tspan><tspan font-size="36" dy="14.4">0.8</tspan><tspan dy="-14.4">Cu</tspan><tspan font-size="36" dy="14.4">10</tspan><tspan dy="-14.4">/SiO</tspan><tspan font-size="36" dy="14.4">2</tspan></text>
<text x="1205.5" y="511.0"><tspan>Au</tspan><tspan font-size="36" dy="14.4">0.5</tspan><tspan dy="-14.4">Cu</tspan><tspan font-size="36" dy="14.4">10</tspan><tspan dy="-14.4">/SiO</tspan><tspan font-size="36" dy="14.4">2</tspan></text>
<text x="1208.5" y="636.0"><tspan>Au</tspan><tspan font-size="36" dy="14.4">0.3</tspan><tspan dy="-14.4">Cu</tspan><tspan font-size="36" dy="14.4">10</tspan><tspan dy="-14.4">/SiO</tspan><tspan font-size="36" dy="14.4">2</tspan></text>
<text x="1206.5" y="762.1"><tspan>Au</tspan><tspan font-size="36" dy="14.4">0.1</tspan><tspan dy="-14.4">Cu</tspan><tspan font-size="36" dy="14.4">10</tspan><tspan dy="-14.4">/SiO</tspan><tspan font-size="36" dy="14.4">2</tspan></text>
<text x="1289.7" y="881.5"><tspan>Cu</tspan><tspan font-size="36" dy="14.4">10</tspan><tspan dy="-14.4">/SiO</tspan><tspan font-size="36" dy="14.4">2</tspan></text>
<text x="1305.5" y="988.0"><tspan>Au</tspan><tspan font-size="36" dy="14.4">1</tspan><tspan dy="-14.4">/SiO</tspan><tspan font-size="36" dy="14.4">2</tspan></text>
</g>
<g fill="#000" shape-rendering="crispEdges">
<rect x="113" y="18" width="1436" height="10"/>
<rect x="113" y="1071" width="1436" height="10"/>
<rect x="113" y="18" width="10" height="1063"/>
<rect x="1539" y="18" width="10" height="1063"/>
<rect x="127" y="1051" width="9" height="20"/>
<rect x="227" y="1063" width="10" height="8"/>
<rect x="327" y="1051" width="10" height="20"/>
<rect x="427" y="1063" width="10" height="8"/>
<rect x="526" y="1051" width="10" height="20"/>
<rect x="626" y="1063" width="10" height="8"/>
<rect x="726" y="1051" width="10" height="20"/>
<rect x="826" y="1063" width="10" height="8"/>
<rect x="926" y="1051" width="10" height="20"/>
<rect x="1026" y="1063" width="10" height="8"/>
<rect x="1126" y="1051" width="10" height="20"/>
<rect x="1225" y="1063" width="10" height="8"/>
<rect x="1325" y="1051" width="10" height="20"/>
<rect x="1425" y="1063" width="10" height="8"/>
<rect x="1525" y="1051" width="10" height="20"/>
</g>
<text class="ax" x="131.5" y="1168" text-anchor="middle">10</text>
<text class="ax" x="331.2" y="1168" text-anchor="middle">20</text>
<text class="ax" x="530.9" y="1168" text-anchor="middle">30</text>
<text class="ax" x="730.6" y="1168" text-anchor="middle">40</text>
<text class="ax" x="930.3" y="1168" text-anchor="middle">50</text>
<text class="ax" x="1130.0" y="1168" text-anchor="middle">60</text>
<text class="ax" x="1329.7" y="1168" text-anchor="middle">70</text>
<text class="ax" x="1529.4" y="1168" text-anchor="middle">80</text>
<text class="ax" style="font-size:83px" transform="translate(74,808.5) rotate(-90)">Intensity (a.u.)</text>
<text class="ax" y="1273"><tspan x="741.5">2</tspan><tspan x="783.4" y="1273.7" style="font-weight:normal" stroke="#000" stroke-width="1.6" textLength="45.1" lengthAdjust="spacingAndGlyphs">θ</tspan><tspan x="825" y="1273.5" style="font-weight:normal;font-size:81px"> </tspan><tspan x="849.2" y="1273.5" style="font-weight:normal;font-size:81px" stroke="#000" stroke-width="0.8" textLength="29.7" lengthAdjust="spacingAndGlyphs">(</tspan><tspan x="874.4" y="1278.1" style="font-weight:normal;font-size:92px" stroke="#000" stroke-width="0.6">°</tspan><tspan x="908.95" y="1273.5" style="font-weight:normal;font-size:81px" stroke="#000" stroke-width="0.8" textLength="29.7" lengthAdjust="spacingAndGlyphs">)</tspan></text>
</svg>
</body></html>
